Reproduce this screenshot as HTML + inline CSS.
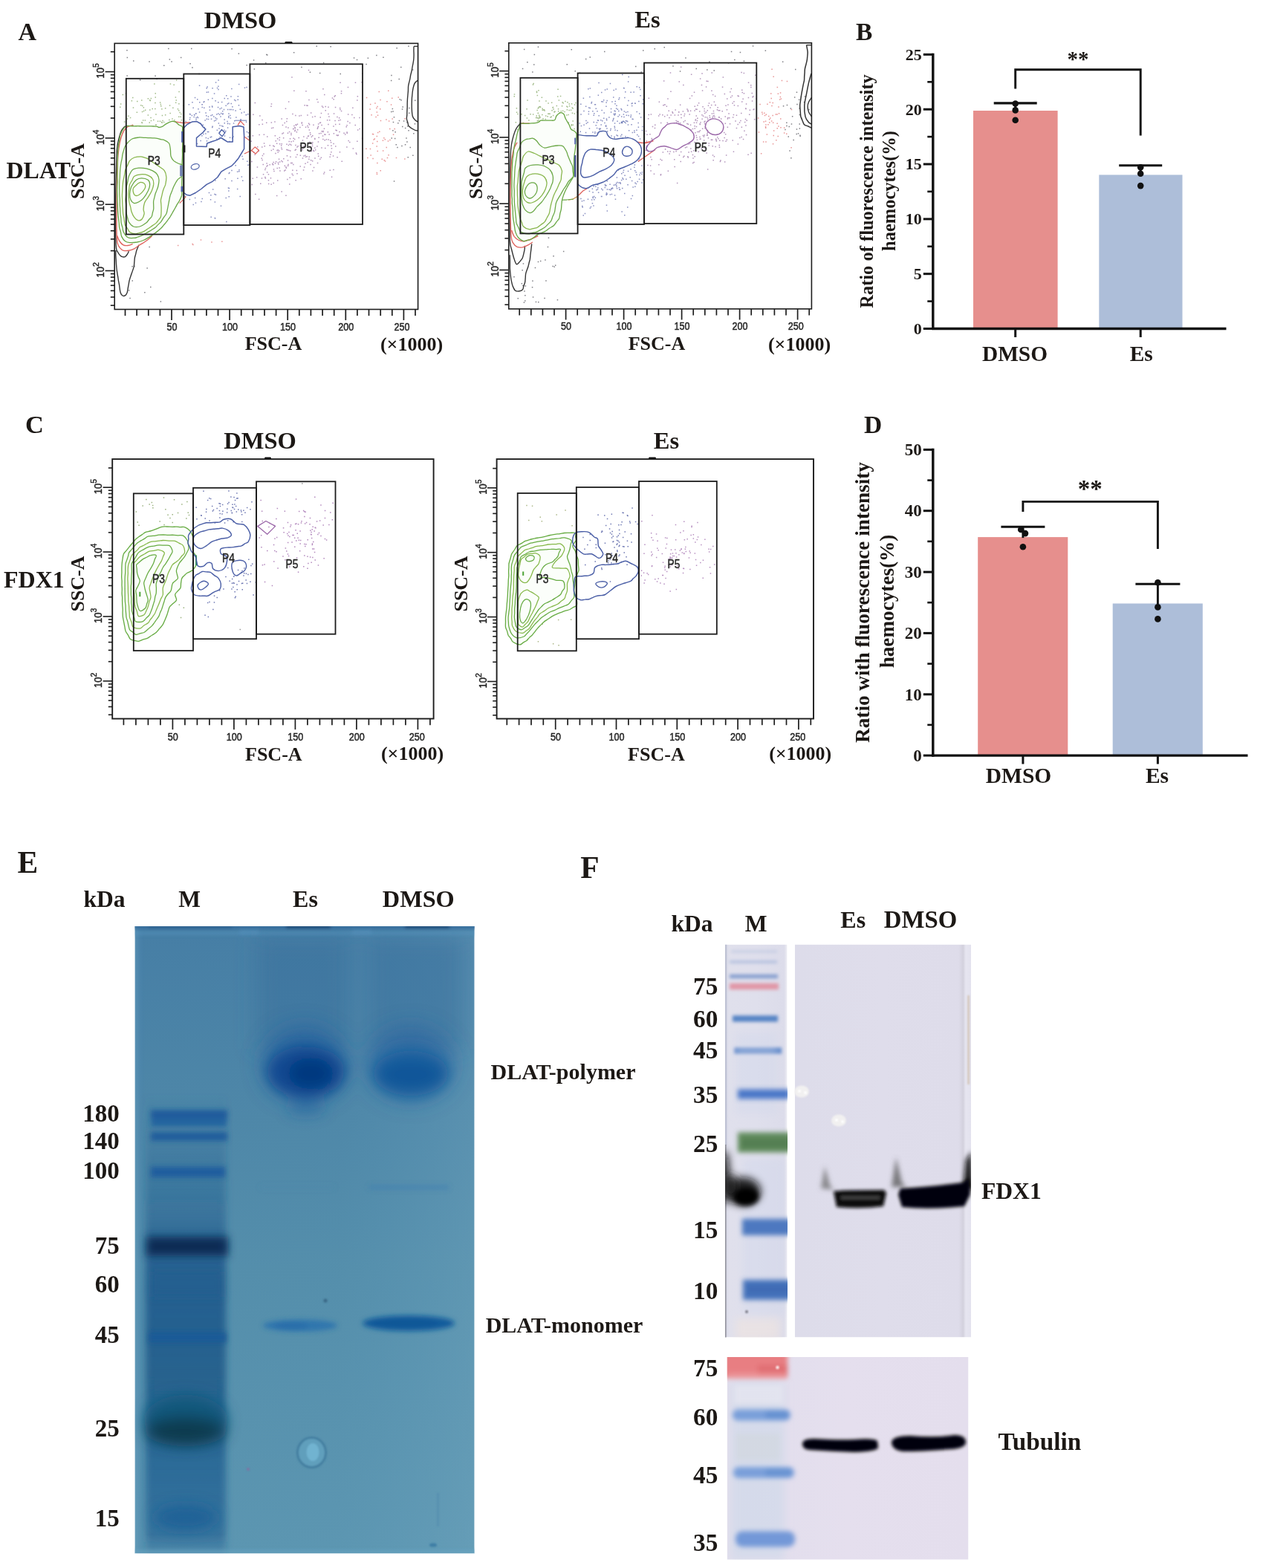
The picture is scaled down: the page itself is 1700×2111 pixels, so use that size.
<!DOCTYPE html>
<html lang="en"><head><meta charset="utf-8"><title>Figure</title>
<style>
html,body{margin:0;padding:0;background:#fff;}
body{width:1700px;height:2111px;overflow:hidden;}
svg{display:block;}
.sb{font-family:"Liberation Serif",serif;font-weight:bold;fill:#1c1815;}
.sa{font-family:"Liberation Sans",sans-serif;fill:#262626;}
.st{stroke:#262626;stroke-width:0.42px;}
</style></head><body>
<svg width="1700" height="2111" viewBox="0 0 1700 2111">
<rect width="1700" height="2111" fill="#fff"/>
<g id="A1c">
<path d="M170.3 169.6C174.4 168.9 183.8 169.7 190.6 169.8C197.5 169.9 207.7 170.0 211.6 170.3C215.5 170.6 212.8 171.5 214.0 171.5C215.3 171.5 217.3 171.0 219.0 170.2C220.6 169.4 221.8 167.7 223.9 166.6C225.9 165.5 229.2 163.8 231.3 163.4C233.3 163.0 234.6 163.3 236.2 164.1C237.8 165.0 239.6 167.2 241.1 168.3C242.7 169.4 244.7 166.3 245.4 170.8C246.2 175.3 245.9 187.2 245.8 195.4C245.8 203.6 245.3 208.8 245.1 220.0C244.9 231.3 245.2 254.7 244.6 263.2C244.0 271.6 242.8 267.9 241.4 270.5C240.0 273.2 238.1 275.9 236.2 279.2C234.3 282.4 232.1 287.0 230.0 290.2C228.0 293.5 226.1 296.0 223.9 298.9C221.6 301.7 219.0 305.0 216.5 307.5C214.0 310.0 211.6 311.8 209.1 313.6C206.7 315.5 204.4 316.9 201.7 318.6C199.1 320.2 196.0 322.3 193.1 323.5C190.2 324.7 187.6 325.4 184.5 326.0C181.4 326.5 177.3 326.8 174.6 326.6C172.0 326.4 170.3 326.1 168.5 324.7C166.7 323.4 165.1 321.7 163.8 318.6C162.5 315.5 161.5 311.4 160.7 306.3C159.9 301.1 159.3 295.0 158.9 287.8C158.4 280.6 158.0 271.4 157.9 263.2C157.7 254.9 157.8 246.7 157.9 238.5C157.9 230.3 158.0 221.1 158.3 213.9C158.5 206.7 158.9 200.8 159.5 195.4C160.1 190.1 160.9 185.5 161.9 181.9C163.0 178.2 164.6 175.6 166.0 173.5C167.4 171.4 166.2 170.2 170.3 169.6Z" fill="#fbfefa" stroke="none" stroke-width="0.0" stroke-linejoin="round"/>
<path d="M177.7 168.3h1.5M239.9 148.7h1.5M174.8 158.6h1.5M178.0 131.6h1.5M209.2 154.0h1.5M190.0 135.0h1.5M214.7 163.2h1.5M202.3 158.6h1.5M242.7 164.6h1.5M172.2 156.2h1.5M170.7 160.0h1.5M190.2 164.7h1.5M235.6 130.9h1.5M209.4 168.1h1.5M214.9 137.9h1.5M227.8 142.1h1.5M231.2 160.1h1.5M238.7 146.8h1.5M240.0 157.3h1.5M216.0 142.8h1.5M219.9 164.6h1.5M217.1 146.8h1.5M183.6 151.3h1.5M236.5 135.0h1.5M215.6 140.5h1.5M208.9 168.2h1.5M243.1 153.6h1.5M161.9 140.1h1.5M240.1 139.8h1.5M200.5 164.9h1.5M192.8 149.6h1.5M161.0 144.3h1.5M194.9 148.3h1.5M228.4 152.6h1.5M234.1 161.8h1.5M202.7 162.6h1.5M198.6 154.9h1.5M198.6 132.8h1.5M216.8 164.5h1.5M166.9 164.0h1.5M207.1 112.9h1.5M208.5 125.8h1.5M228.7 112.9h1.5M235.9 138.3h1.5M192.6 144.7h1.5M178.7 145.0h1.5M208.2 138.4h1.5M208.5 131.1h1.5M191.9 161.9h1.5M201.5 135.5h1.5M164.6 127.4h1.5M211.8 163.3h1.5M246.1 142.0h1.5M233.4 114.2h1.5M232.1 145.2h1.5M190.8 150.4h1.5M240.3 123.5h1.5M190.6 165.4h1.5M189.0 141.8h1.5M242.5 157.3h1.5M218.3 162.5h1.5M217.7 155.4h1.5M202.6 132.4h1.5M227.0 161.4h1.5M206.0 161.4h1.5M221.9 145.8h1.5M217.5 165.3h1.5M191.0 142.6h1.5M184.0 136.6h1.5M236.9 108.1h1.5M204.5 146.6h1.5M194.6 162.1h1.5M243.6 161.7h1.5M208.1 146.5h1.5M201.0 134.8h1.5M176.6 135.7h1.5M221.9 154.8h1.5M168.7 125.7h1.5M241.4 151.6h1.5M201.0 147.9h1.5" stroke="#7a9f58" stroke-width="1.5" fill="none" opacity="0.7"/>
<path d="M285.3 118.8h1.5M265.0 133.8h1.5M312.1 143.7h1.5M287.8 162.8h1.5M299.0 153.7h1.5M300.7 147.6h1.5M305.8 172.0h1.5M319.6 129.8h1.5M327.9 151.0h1.5M307.1 158.2h1.5M271.5 140.8h1.5M316.3 135.4h1.5M283.9 184.3h1.5M331.3 117.6h1.5M330.8 154.4h1.5M277.0 155.8h1.5M260.4 157.4h1.5M289.4 158.8h1.5M330.5 154.7h1.5M262.8 152.9h1.5M291.0 153.9h1.5M264.9 157.5h1.5M320.9 113.5h1.5M309.1 155.6h1.5M296.2 156.9h1.5M302.4 177.8h1.5M284.8 143.0h1.5M269.4 189.6h1.5M333.4 183.9h1.5M294.9 177.9h1.5M263.4 158.7h1.5M273.0 180.5h1.5M277.6 160.3h1.5M271.2 140.7h1.5M319.5 134.2h1.5M308.6 147.6h1.5M291.8 118.5h1.5M316.4 148.9h1.5M307.2 153.0h1.5M294.2 172.9h1.5M310.5 139.4h1.5M298.9 149.7h1.5M315.0 162.8h1.5M267.8 115.2h1.5M309.6 158.9h1.5M249.4 163.6h1.5M299.3 170.3h1.5M301.5 165.8h1.5M260.8 154.5h1.5M279.7 157.1h1.5M303.1 176.5h1.5M307.0 156.6h1.5M279.4 186.6h1.5M263.3 161.1h1.5M291.1 159.9h1.5M277.5 118.8h1.5M308.8 185.3h1.5M293.0 137.7h1.5M301.1 175.3h1.5M289.7 161.9h1.5M278.3 117.1h1.5M274.0 145.3h1.5M266.2 146.8h1.5M293.2 120.5h1.5M307.1 138.9h1.5M277.6 124.3h1.5M297.9 137.5h1.5M293.0 153.1h1.5M276.6 185.6h1.5M323.1 162.1h1.5M268.0 137.7h1.5M281.3 143.9h1.5M274.1 136.8h1.5M265.8 158.5h1.5M279.7 124.0h1.5M301.4 161.0h1.5M258.2 137.8h1.5M293.7 186.4h1.5M313.8 166.0h1.5M285.3 170.2h1.5M261.0 154.9h1.5M333.0 153.7h1.5M299.4 152.9h1.5M253.6 140.8h1.5M313.2 184.0h1.5M312.1 185.7h1.5M287.0 157.0h1.5M324.5 152.1h1.5M255.1 158.6h1.5M278.7 177.5h1.5M273.4 137.6h1.5M293.6 165.9h1.5M295.3 169.1h1.5M294.9 154.3h1.5M317.1 157.9h1.5M289.3 135.7h1.5M283.2 155.4h1.5M271.5 144.5h1.5M297.8 169.4h1.5M279.8 160.6h1.5M272.5 168.3h1.5M267.8 151.0h1.5M301.5 132.6h1.5M292.8 144.5h1.5M304.0 128.7h1.5M279.9 177.5h1.5M279.6 134.3h1.5M259.4 145.3h1.5M295.4 146.4h1.5M305.3 163.6h1.5M290.9 187.2h1.5M285.0 154.7h1.5M283.8 160.2h1.5M333.6 178.7h1.5M254.8 153.4h1.5M271.1 182.8h1.5M301.7 183.0h1.5M293.1 116.3h1.5M308.5 166.8h1.5M310.2 130.0h1.5M297.4 145.4h1.5M274.4 171.5h1.5M305.6 140.1h1.5M277.7 189.8h1.5M293.3 108.0h1.5M306.0 166.2h1.5M263.2 152.7h1.5M285.0 143.9h1.5M296.9 152.5h1.5M287.8 125.9h1.5M291.6 175.2h1.5M264.7 193.6h1.5M285.0 171.4h1.5M285.1 132.4h1.5M322.6 147.3h1.5M303.4 142.2h1.5M282.5 184.7h1.5M295.3 184.7h1.5M276.1 180.0h1.5M308.1 190.4h1.5M305.9 132.8h1.5M314.9 134.6h1.5M312.9 147.8h1.5M330.8 164.2h1.5M257.6 155.4h1.5M298.7 153.6h1.5M305.7 166.5h1.5M289.8 111.0h1.5M331.7 177.4h1.5M281.7 148.2h1.5M307.5 264.8h1.5M259.5 275.6h1.5M282.8 268.7h1.5M335.1 221.8h1.5M270.2 271.4h1.5M321.2 228.8h1.5M316.4 222.7h1.5M326.3 214.3h1.5M325.3 210.6h1.5M333.1 222.3h1.5M262.7 273.3h1.5M308.1 232.4h1.5M288.2 261.5h1.5M289.7 262.3h1.5M307.1 257.1h1.5M283.4 292.2h1.5M319.2 240.3h1.5M326.0 243.2h1.5M302.4 240.8h1.5M324.6 237.9h1.5M254.6 268.5h1.5M311.2 243.5h1.5M306.7 253.0h1.5M303.5 266.5h1.5M285.9 255.1h1.5M307.7 253.5h1.5M318.9 254.6h1.5M288.6 272.0h1.5M311.2 229.6h1.5M296.7 277.3h1.5M318.9 231.2h1.5M283.1 262.7h1.5M307.5 233.5h1.5M271.5 267.4h1.5M288.8 293.9h1.5M305.9 147.5h1.5M280.7 259.4h1.5M261.8 131.4h1.5M276.3 151.9h1.5M304.1 298.6h1.5M248.1 264.3h1.5M322.5 264.4h1.5M255.3 154.0h1.5M311.1 119.4h1.5M332.1 217.3h1.5M323.4 160.7h1.5M328.7 118.2h1.5M320.7 141.7h1.5M261.9 266.4h1.5M275.4 162.1h1.5M254.7 161.1h1.5M289.1 243.0h1.5M288.6 293.4h1.5M321.0 230.8h1.5M310.5 147.5h1.5" stroke="#5560a6" stroke-width="1.5" fill="none" opacity="0.7"/>
<path d="M352.0 198.0h1.5M415.8 167.7h1.5M372.9 186.8h1.5M358.9 232.0h1.5M390.9 219.6h1.5M344.9 238.8h1.5M403.6 209.2h1.5M399.6 167.2h1.5M467.9 153.9h1.5M397.3 168.1h1.5M415.6 175.1h1.5M419.7 194.1h1.5M369.2 164.1h1.5M427.5 207.1h1.5M441.2 144.2h1.5M436.5 188.8h1.5M419.8 196.4h1.5M388.2 202.4h1.5M453.2 157.6h1.5M415.2 134.5h1.5M369.8 219.9h1.5M397.2 195.6h1.5M339.5 240.3h1.5M366.9 172.1h1.5M451.3 175.3h1.5M363.7 239.7h1.5M444.8 191.8h1.5M437.5 143.4h1.5M453.3 211.7h1.5M458.8 149.4h1.5M368.2 230.4h1.5M456.7 204.8h1.5M467.4 163.5h1.5M383.7 146.2h1.5M445.8 238.2h1.5M380.9 185.8h1.5M438.7 187.7h1.5M347.9 268.3h1.5M367.7 228.1h1.5M479.1 207.5h1.5M340.8 204.7h1.5M367.1 196.3h1.5M434.0 144.4h1.5M474.6 199.9h1.5M378.4 258.1h1.5M408.9 225.0h1.5M421.2 168.2h1.5M385.2 194.2h1.5M437.1 181.3h1.5M380.7 179.1h1.5M364.6 165.0h1.5M353.8 234.8h1.5M408.1 184.0h1.5M423.2 213.0h1.5M437.0 199.5h1.5M375.9 193.7h1.5M364.6 202.6h1.5M362.5 195.7h1.5M395.9 187.4h1.5M391.2 181.5h1.5M473.1 154.5h1.5M352.4 215.4h1.5M348.4 181.5h1.5M409.4 141.7h1.5M458.8 122.8h1.5M358.3 223.9h1.5M342.4 208.2h1.5M397.5 201.3h1.5M387.9 137.1h1.5M397.1 155.5h1.5M405.5 165.9h1.5M388.5 190.4h1.5M445.2 196.2h1.5M352.7 209.4h1.5M480.9 175.0h1.5M367.1 201.0h1.5M386.9 223.2h1.5M406.7 199.8h1.5M352.3 161.5h1.5M420.2 229.9h1.5M480.1 190.3h1.5M451.0 196.9h1.5M406.7 189.1h1.5M406.7 213.0h1.5M396.5 202.2h1.5M480.6 129.8h1.5M366.0 220.6h1.5M391.3 190.8h1.5M383.3 229.0h1.5M370.2 206.5h1.5M371.9 263.4h1.5M432.3 168.5h1.5M430.5 158.0h1.5M373.5 204.9h1.5M426.8 219.5h1.5M443.5 229.2h1.5M428.4 185.2h1.5M398.2 168.6h1.5M398.6 177.8h1.5M364.2 143.3h1.5M385.1 201.4h1.5M412.5 210.8h1.5M396.6 175.3h1.5M421.0 202.5h1.5M358.0 165.3h1.5M351.7 239.9h1.5M456.9 145.4h1.5M410.8 211.3h1.5M474.1 145.3h1.5M392.5 234.2h1.5M345.7 225.1h1.5M389.5 194.3h1.5M370.5 189.7h1.5M404.5 240.7h1.5M441.4 188.1h1.5M406.4 168.4h1.5M393.1 229.2h1.5M448.2 228.6h1.5M418.6 184.3h1.5M372.3 202.5h1.5M356.6 240.1h1.5M417.9 152.1h1.5M379.7 168.5h1.5M435.7 173.2h1.5M410.8 171.3h1.5M375.4 188.4h1.5M426.0 133.8h1.5M410.3 220.3h1.5M417.3 221.6h1.5M391.1 195.3h1.5M337.4 190.3h1.5M417.7 199.7h1.5M465.5 170.7h1.5M353.5 221.6h1.5M397.4 242.8h1.5M345.9 197.8h1.5M414.9 166.3h1.5M432.2 198.9h1.5M448.6 179.8h1.5M359.0 183.9h1.5M398.6 229.6h1.5M486.9 186.3h1.5M423.9 201.8h1.5M447.8 209.9h1.5M449.5 130.1h1.5M454.6 182.0h1.5M381.1 213.8h1.5M420.0 182.8h1.5M434.0 177.6h1.5M442.4 180.9h1.5M427.1 171.7h1.5M370.8 217.7h1.5M386.6 202.1h1.5M412.1 141.9h1.5M410.0 209.3h1.5M368.4 197.3h1.5M374.0 220.9h1.5M476.0 158.5h1.5M456.2 177.6h1.5M394.4 186.2h1.5M360.7 242.8h1.5M450.8 144.4h1.5M448.8 152.9h1.5M338.5 248.5h1.5M415.4 211.3h1.5M431.6 212.2h1.5M423.1 199.3h1.5M417.9 215.7h1.5M384.6 226.2h1.5M483.3 158.5h1.5M427.9 166.9h1.5M390.0 203.0h1.5M387.2 172.0h1.5M403.5 195.9h1.5M421.8 203.5h1.5M396.1 171.8h1.5M385.7 209.7h1.5M450.3 162.5h1.5M413.2 142.2h1.5M413.8 183.5h1.5M382.6 223.3h1.5M364.4 248.2h1.5M387.7 195.5h1.5M374.8 214.2h1.5M433.8 183.1h1.5M394.1 190.1h1.5M384.2 225.1h1.5M377.9 196.1h1.5M394.1 173.2h1.5M393.2 153.5h1.5M426.2 197.1h1.5M389.4 239.3h1.5M362.4 221.7h1.5M429.8 165.6h1.5M392.5 219.6h1.5M408.2 196.7h1.5M477.5 168.5h1.5M448.2 170.0h1.5M349.1 156.1h1.5M421.8 225.5h1.5M340.2 154.2h1.5M430.7 165.1h1.5M389.8 186.8h1.5M358.4 220.0h1.5M452.5 182.1h1.5M376.2 229.9h1.5M399.3 208.3h1.5M356.7 226.6h1.5M443.4 211.3h1.5M406.5 201.8h1.5M375.3 225.9h1.5M445.1 204.8h1.5M385.1 163.6h1.5M401.5 185.6h1.5M366.6 221.4h1.5M453.8 182.4h1.5M462.3 179.3h1.5M354.8 192.9h1.5M386.8 215.9h1.5M452.5 175.8h1.5M457.2 147.4h1.5M399.2 233.7h1.5M427.9 210.3h1.5M360.7 234.7h1.5M354.6 181.2h1.5M359.3 222.8h1.5M389.0 248.1h1.5M442.1 157.1h1.5M417.2 181.2h1.5M445.7 199.7h1.5M387.3 221.4h1.5M434.3 176.6h1.5M418.2 203.8h1.5M388.8 177.6h1.5M470.1 165.4h1.5M374.8 214.3h1.5M450.9 167.6h1.5M343.1 261.5h1.5M373.0 243.1h1.5M378.4 160.0h1.5M444.0 208.1h1.5M338.1 217.5h1.5M375.9 217.9h1.5M404.6 155.6h1.5M408.2 209.9h1.5M390.2 211.2h1.5M378.1 199.0h1.5M423.1 187.2h1.5M470.0 191.5h1.5M448.3 193.5h1.5M413.2 155.1h1.5M459.5 217.2h1.5M416.8 178.8h1.5M403.5 223.9h1.5M419.9 157.6h1.5M396.6 172.4h1.5M395.1 169.4h1.5M360.9 247.6h1.5M458.7 125.7h1.5M355.5 196.8h1.5M385.6 159.7h1.5M450.5 128.7h1.5M440.7 195.7h1.5M386.7 179.2h1.5M408.4 193.0h1.5M432.4 176.8h1.5M384.3 170.9h1.5M369.6 182.8h1.5M483.4 173.6h1.5M416.3 191.3h1.5M386.1 241.4h1.5M431.3 179.4h1.5M399.2 197.9h1.5M347.4 203.4h1.5M373.7 219.1h1.5M436.0 127.4h1.5M394.1 221.4h1.5M339.6 182.7h1.5M456.3 167.2h1.5M382.5 165.5h1.5M414.1 171.5h1.5M416.2 197.6h1.5M441.2 167.6h1.5M378.7 201.0h1.5M400.4 196.7h1.5M378.5 193.8h1.5M375.6 185.3h1.5M413.4 218.6h1.5M378.2 216.4h1.5M423.0 186.4h1.5M439.9 161.7h1.5M434.1 187.4h1.5M435.9 232.0h1.5M351.5 213.2h1.5M423.3 156.7h1.5M466.5 179.2h1.5M364.9 172.6h1.5M384.2 263.2h1.5M399.9 174.7h1.5M436.2 181.0h1.5M420.0 191.8h1.5M350.0 247.2h1.5M382.0 230.0h1.5M440.6 177.7h1.5M412.5 186.1h1.5M427.3 137.5h1.5M446.7 131.9h1.5M428.9 179.8h1.5M455.2 162.2h1.5M394.0 173.7h1.5M414.6 183.1h1.5M371.9 193.2h1.5M366.9 221.8h1.5M352.6 167.3h1.5M356.1 238.6h1.5M379.4 217.7h1.5M442.9 161.7h1.5M444.0 189.3h1.5M403.1 171.4h1.5M402.2 155.9h1.5M391.2 179.4h1.5M427.7 191.0h1.5M372.5 226.4h1.5M466.3 168.7h1.5M367.4 218.4h1.5M435.1 234.0h1.5M367.5 246.6h1.5M415.1 214.3h1.5M396.1 176.5h1.5M393.6 236.0h1.5M480.1 135.1h1.5M364.7 140.0h1.5M486.4 110.7h1.5M432.8 142.9h1.5M434.2 119.7h1.5M430.1 214.3h1.5M466.3 178.0h1.5M413.2 169.5h1.5M354.2 207.2h1.5M441.2 153.5h1.5M437.5 148.7h1.5M395.1 122.2h1.5M427.7 170.2h1.5M414.8 94.5h1.5M431.7 152.6h1.5M426.6 173.2h1.5M477.7 111.3h1.5M407.8 229.0h1.5M448.4 133.8h1.5M448.2 228.5h1.5M397.7 211.4h1.5M356.1 228.6h1.5M411.2 122.8h1.5M463.9 180.9h1.5M478.6 206.1h1.5M457.4 161.6h1.5M487.0 99.1h1.5M468.4 189.6h1.5M374.9 203.0h1.5M405.6 165.1h1.5M467.7 117.4h1.5M379.2 180.1h1.5M348.1 167.7h1.5M455.9 158.7h1.5M373.5 202.0h1.5M466.1 197.9h1.5M419.9 216.8h1.5M457.3 111.2h1.5M392.2 104.0h1.5M342.6 138.4h1.5" stroke="#93689f" stroke-width="1.5" fill="none" opacity="0.7"/>
<path d="M527.0 132.3h1.5M517.6 187.8h1.5M494.1 212.6h1.5M492.8 131.6h1.5M544.1 213.9h1.5M516.5 215.7h1.5M525.8 141.1h1.5M517.8 217.1h1.5M510.1 177.2h1.5M506.4 197.1h1.5M505.3 157.4h1.5M497.3 147.1h1.5M514.7 189.2h1.5M507.3 143.5h1.5M516.1 185.8h1.5M527.4 160.1h1.5M507.0 190.5h1.5M530.4 173.5h1.5M511.0 146.7h1.5M507.5 203.6h1.5M522.3 208.7h1.5M492.2 200.3h1.5M500.9 192.9h1.5M501.3 213.5h1.5M513.5 214.3h1.5M506.7 234.4h1.5M506.6 232.4h1.5M506.1 145.4h1.5M522.9 163.0h1.5M511.3 134.4h1.5M507.9 178.5h1.5M503.5 186.9h1.5M507.1 219.6h1.5M507.8 155.2h1.5M506.6 183.4h1.5M519.2 161.0h1.5M502.4 188.1h1.5M522.0 122.2h1.5M499.3 154.7h1.5M532.7 212.4h1.5M521.7 190.0h1.5M498.4 209.1h1.5M506.6 150.9h1.5M535.5 131.1h1.5M528.8 181.2h1.5M500.8 180.5h1.5M501.8 180.7h1.5M504.2 139.0h1.5M544.3 159.8h1.5M524.0 173.6h1.5M520.2 136.7h1.5M524.2 188.6h1.5M497.7 200.5h1.5M514.9 202.9h1.5M519.5 198.5h1.5M511.7 162.5h1.5M520.7 212.6h1.5M497.9 140.5h1.5M511.5 229.8h1.5M509.5 123.5h1.5" stroke="#e06a6a" stroke-width="1.5" fill="none" opacity="0.7"/>
<path d="M546.2 186.1h1.5M557.7 166.7h1.5M558.0 135.3h1.5M547.2 164.8h1.5M526.0 150.6h1.5M551.5 198.6h1.5M534.2 198.4h1.5M547.2 191.1h1.5M541.0 170.6h1.5M529.7 157.8h1.5M539.3 134.8h1.5M535.1 165.8h1.5M540.2 196.5h1.5M527.6 146.5h1.5M540.8 147.1h1.5M541.4 144.1h1.5M550.0 152.3h1.5M526.5 186.0h1.5M554.9 93.9h1.5M536.7 162.6h1.5M548.5 211.7h1.5M536.5 106.6h1.5M544.8 194.8h1.5M542.8 162.9h1.5M529.8 244.0h1.5M525.9 108.4h1.5M547.9 170.1h1.5M544.9 172.5h1.5M555.1 209.2h1.5M532.5 194.7h1.5M526.2 101.6h1.5M550.2 145.5h1.5M531.4 177.7h1.5M537.5 133.8h1.5M530.9 186.6h1.5M528.7 164.6h1.5M528.1 175.7h1.5M556.1 179.8h1.5M549.3 175.8h1.5M528.3 149.9h1.5M311.3 65.8h1.5M359.0 73.9h1.5M394.9 70.8h1.5M479.8 80.5h1.5M242.9 77.5h1.5M549.2 62.3h1.5M429.9 98.5h1.5M357.0 84.7h1.5M358.0 73.4h1.5M434.9 84.4h1.5M340.8 80.9h1.5M405.2 90.6h1.5M257.0 65.5h1.5M320.6 72.3h1.5M494.6 78.2h1.5M515.2 77.3h1.5M331.4 87.8h1.5M267.3 99.4h1.5M506.1 74.5h1.5M341.6 93.1h1.5M492.3 86.4h1.5M258.2 91.0h1.5M255.3 85.7h1.5M416.7 97.2h1.5M444.4 62.8h1.5M539.0 90.6h1.5M425.5 62.2h1.5M475.8 77.9h1.5M457.5 99.4h1.5M533.4 64.8h1.5M230.3 83.1h1.5M227.6 80.1h1.5M200.3 83.0h1.5M170.6 77.4h1.5M226.1 65.4h1.5M170.4 102.0h1.5M220.0 88.3h1.5M170.2 67.7h1.5M187.9 107.8h1.5M210.4 106.3h1.5M179.0 81.9h1.5M208.3 102.3h1.5M174.3 401.6h1.5M200.4 332.6h1.5M197.4 361.0h1.5M215.6 406.1h1.5M202.0 386.5h1.5M194.1 393.8h1.5M172.9 390.9h1.5M177.5 378.0h1.5M180.2 358.4h1.5M177.3 358.7h1.5" stroke="#4a4a52" stroke-width="1.5" fill="none" opacity="0.7"/>
<path d="M259.1 329.4h1.5M238.9 330.6h1.5M284.2 325.9h1.5M258.4 328.6h1.5M298.1 325.2h1.5M269.7 323.1h1.5" stroke="#e06a6a" stroke-width="1.5" fill="none" opacity="0.7"/>
<path d="M168.5 169.6C167.7 170.6 165.0 172.8 163.5 175.7C162.1 178.6 160.9 182.5 159.9 186.8C158.8 191.1 158.0 193.0 157.4 201.6C156.8 210.2 156.5 224.2 156.2 238.5C155.8 252.9 155.5 272.4 155.5 287.8C155.5 303.2 155.6 322.3 156.2 330.9C156.7 339.5 157.6 337.2 158.6 339.5C159.6 341.8 161.2 343.4 162.3 344.4C163.4 345.5 164.4 345.7 165.4 345.9C166.4 346.1 167.4 346.3 168.5 345.7C169.5 345.0 170.7 343.2 171.6 342.0C172.4 340.7 173.1 338.9 173.4 338.3" fill="none" stroke="#333333" stroke-width="1.38" stroke-linejoin="round"/>
<path d="M186.9 329.7C186.4 330.9 184.6 335.0 183.9 337.0C183.2 339.1 183.1 340.5 182.7 342.1C182.3 343.8 181.7 345.1 181.4 346.9C181.1 348.7 181.0 351.0 180.8 353.1C180.6 355.1 180.7 356.7 180.2 359.2C179.6 361.7 178.3 365.0 177.3 367.8C176.4 370.7 175.0 374.2 174.4 376.5C173.7 378.8 173.7 380.0 173.4 381.6C173.1 383.3 172.9 384.3 172.5 386.3C172.2 388.3 171.8 391.8 171.2 393.7C170.5 395.6 169.7 396.9 168.7 397.6C167.7 398.4 166.1 398.7 165.0 398.0C163.9 397.3 162.8 396.1 162.1 393.7C161.3 391.3 161.0 386.3 160.6 383.8C160.2 381.3 159.9 380.4 159.6 378.7C159.3 377.1 159.2 375.8 158.9 374.0C158.6 372.2 158.1 369.8 157.8 367.7C157.5 365.7 157.2 363.7 157.0 361.7C156.8 359.6 156.6 357.5 156.5 355.4C156.4 353.3 156.3 351.4 156.2 349.4C156.0 347.3 155.9 345.2 155.8 343.1C155.8 341.1 155.9 338.1 155.9 337.0" fill="none" stroke="#333333" stroke-width="1.38" stroke-linejoin="round"/>
<path d="M179.6 168.9C178.7 169.0 176.3 169.0 174.6 169.6C173.0 170.1 171.3 170.6 169.7 172.3C168.1 173.9 166.4 176.2 165.0 179.4C163.6 182.7 162.4 186.8 161.3 191.7C160.3 196.7 159.5 201.2 158.9 209.0C158.3 216.8 157.9 227.4 157.6 238.5C157.3 249.6 157.1 263.2 157.0 275.5C156.9 287.8 156.8 303.8 157.0 312.4C157.2 321.0 157.4 323.7 158.1 327.2C158.8 330.7 160.0 331.9 161.3 333.6C162.7 335.3 164.2 336.7 166.3 337.3C168.3 337.9 171.0 337.7 173.4 337.3C175.8 336.9 178.5 336.0 180.8 334.8C183.0 333.7 185.0 331.8 186.9 330.5C188.9 329.2 190.4 328.5 192.5 327.2C194.5 325.9 197.2 324.2 199.3 322.5C201.3 320.9 203.9 318.2 204.8 317.3" fill="none" stroke="#df625c" stroke-width="1.38" stroke-linejoin="round"/>
<path d="M157.6 317.3C158.2 318.6 159.7 322.9 161.1 325.0C162.5 327.1 164.2 329.0 166.0 329.9C167.9 330.8 170.1 330.8 172.2 330.5C174.3 330.3 177.5 328.8 178.6 328.4" fill="none" stroke="#df625c" stroke-width="1.38" stroke-linejoin="round"/>
<path d="M235.0 163.6C237.0 164.0 243.7 165.3 247.3 165.5C250.9 165.7 255.0 164.8 256.5 164.6" fill="none" stroke="#df625c" stroke-width="1.38" stroke-linejoin="round"/>
<path d="M320.0 168.6L323.6 162.8L328.8 168.6" fill="none" stroke="#df625c" stroke-width="1.265" stroke-linejoin="round"/>
<path d="M338.4 202.6L343.3 197.9L348.5 202.2L344.0 207.1Z" fill="none" stroke="#df625c" stroke-width="1.265" stroke-linejoin="round"/>
<path d="M328.8 207.1L338.4 202.6" fill="none" stroke="#df625c" stroke-width="1.15" stroke-linejoin="round"/>
<path d="M329.2 184.3L336.0 189.3" fill="none" stroke="#df625c" stroke-width="1.15" stroke-linejoin="round"/>
<path d="M241.7 273.6L247.3 268.1L250.4 264.4" fill="none" stroke="#df625c" stroke-width="1.15" stroke-linejoin="round"/>
<path d="M170.3 169.6C171.9 168.9 173.7 169.6 175.4 169.7C177.1 169.7 178.9 169.8 180.6 169.8C182.3 169.8 184.0 169.7 185.7 169.7C187.4 169.7 188.9 169.8 190.6 169.8C192.4 169.8 194.3 169.9 196.1 169.9C197.8 169.9 199.3 169.9 201.0 169.9C202.7 169.9 204.6 170.0 206.3 170.0C208.1 170.1 210.3 170.0 211.6 170.3C212.9 170.5 212.8 171.5 214.0 171.5C215.3 171.5 217.3 171.0 219.0 170.2C220.6 169.4 221.8 167.7 223.9 166.6C225.9 165.5 229.2 163.8 231.3 163.4C233.3 163.0 234.6 163.3 236.2 164.1C237.8 165.0 239.6 167.2 241.1 168.3C242.7 169.4 244.7 169.3 245.4 170.8C246.2 172.2 245.4 174.9 245.4 177.0C245.5 179.1 245.7 181.2 245.7 183.2C245.8 185.2 245.5 187.0 245.6 189.1C245.6 191.1 245.8 193.3 245.8 195.4C245.8 197.5 245.6 199.5 245.5 201.6C245.5 203.7 245.6 205.8 245.6 207.9C245.6 209.9 245.5 211.9 245.4 213.9C245.3 216.0 245.1 218.1 245.1 220.0C245.0 222.0 245.1 223.6 245.1 225.4C245.0 227.1 244.9 228.9 244.9 230.7C244.8 232.5 244.9 234.4 244.9 236.3C244.9 238.1 244.9 239.8 244.9 241.6C244.8 243.3 244.7 245.1 244.7 246.9C244.7 248.7 244.8 250.6 244.8 252.4C244.8 254.2 244.8 256.1 244.7 257.9C244.7 259.7 245.1 261.0 244.6 263.2C244.0 265.3 242.4 268.6 241.4 270.5C240.4 272.5 239.6 273.3 238.7 274.7C237.8 276.1 237.2 277.5 236.2 279.2C235.3 280.9 234.1 283.0 233.0 284.9C232.0 286.7 231.0 288.6 230.0 290.2C229.1 291.9 228.1 293.1 227.1 294.5C226.1 296.0 225.0 297.4 223.9 298.9C222.8 300.3 221.5 301.7 220.3 303.1C219.1 304.6 218.4 305.7 216.5 307.5C214.6 309.2 211.6 311.8 209.1 313.6C206.7 315.5 204.4 316.9 201.7 318.6C199.1 320.2 196.0 322.3 193.1 323.5C190.2 324.7 187.6 325.4 184.5 326.0C181.4 326.5 177.3 326.8 174.6 326.6C172.0 326.4 170.3 326.1 168.5 324.7C166.7 323.4 164.8 320.7 163.8 318.6C162.8 316.5 162.9 314.3 162.4 312.2C161.9 310.2 161.1 308.2 160.7 306.3C160.3 304.3 160.4 302.3 160.2 300.3C160.0 298.2 159.7 296.0 159.5 293.9C159.2 291.8 159.0 289.8 158.9 287.8C158.7 285.7 158.6 283.6 158.5 281.5C158.4 279.5 158.4 277.4 158.3 275.4C158.2 273.3 158.0 271.3 158.0 269.2C157.9 267.2 157.9 265.2 157.9 263.2C157.8 261.1 157.7 259.1 157.7 257.0C157.7 254.9 157.8 252.8 157.8 250.7C157.9 248.7 158.1 246.6 158.1 244.6C158.1 242.6 157.9 240.5 157.9 238.5C157.9 236.5 157.9 234.5 158.0 232.5C158.0 230.5 158.1 228.4 158.2 226.4C158.2 224.3 158.2 222.3 158.2 220.2C158.2 218.1 158.2 216.0 158.3 213.9C158.3 211.8 158.4 209.9 158.5 207.8C158.6 205.8 158.8 203.6 159.0 201.5C159.2 199.4 159.2 197.5 159.5 195.4C159.8 193.3 160.4 191.0 160.8 188.7C161.2 186.5 161.1 184.4 161.9 181.9C162.8 179.3 164.6 175.6 166.0 173.5C167.4 171.4 168.8 170.2 170.3 169.6Z" fill="none" stroke="#69a745" stroke-width="1.3224999999999998" stroke-linejoin="round"/>
<path d="M172.2 191.7C173.8 190.1 175.9 187.9 178.3 186.8C180.8 185.7 184.5 185.2 186.9 185.0C189.4 184.7 191.1 185.2 193.1 185.3C195.2 185.4 197.2 185.5 199.3 185.6C201.3 185.7 203.5 185.7 205.5 185.8C207.6 186.0 209.7 186.0 211.6 186.3C213.4 186.6 214.9 187.3 216.6 187.7C218.2 188.1 219.6 187.9 221.4 188.8C223.3 189.6 226.3 190.8 227.6 193.0C228.9 195.1 229.0 198.7 229.4 201.6C229.8 204.4 229.3 207.7 230.0 210.2C230.8 212.7 232.1 214.7 233.7 216.4C235.4 218.0 238.1 219.1 239.9 220.0C241.7 221.0 244.0 220.8 244.8 221.9C245.7 223.0 244.9 225.2 244.9 226.9C244.9 228.6 244.8 230.5 244.7 232.2C244.7 233.9 245.5 235.6 244.6 237.3C243.6 239.0 240.7 240.0 238.9 242.2C237.2 244.5 235.2 248.3 234.0 250.8C232.8 253.3 232.3 255.1 231.5 257.2C230.7 259.2 229.7 261.1 229.1 263.2C228.4 265.2 228.3 267.2 227.8 269.3C227.4 271.3 227.0 273.4 226.6 275.5C226.2 277.5 225.9 279.6 225.4 281.7C225.0 283.7 224.8 285.9 223.9 287.8C223.0 289.7 221.3 291.4 220.1 293.2C218.9 295.1 217.7 297.3 216.5 298.9C215.3 300.4 214.0 301.2 212.8 302.4C211.6 303.6 210.5 305.1 209.1 306.3C207.7 307.4 205.9 308.4 204.2 309.4C202.6 310.5 201.5 311.1 199.3 312.4C197.0 313.7 192.9 316.2 190.6 317.3C188.4 318.4 187.3 318.5 185.7 319.0C184.0 319.5 183.0 320.3 180.8 320.4C178.5 320.5 174.6 321.1 172.2 319.8C169.7 318.5 167.5 314.7 166.3 312.4C165.0 310.2 165.4 308.3 164.9 306.3C164.4 304.2 163.5 302.2 163.2 300.1C162.8 298.0 163.0 295.8 162.8 293.8C162.6 291.8 162.3 290.0 162.1 288.0C161.9 285.9 161.8 283.6 161.7 281.5C161.6 279.4 161.4 277.5 161.3 275.5C161.3 273.5 161.4 271.5 161.3 269.4C161.3 267.3 161.0 265.2 160.9 263.1C160.8 261.0 160.8 258.9 160.8 256.9C160.7 254.9 160.7 252.9 160.7 250.8C160.7 248.8 160.7 246.7 160.8 244.7C160.9 242.6 161.1 240.6 161.3 238.5C161.4 236.4 161.4 234.3 161.5 232.2C161.6 230.2 161.7 228.2 161.9 226.2C162.2 224.2 162.4 222.2 162.8 220.2C163.1 218.1 163.7 216.0 164.1 213.9C164.5 211.8 164.6 209.7 165.0 207.7C165.4 205.8 166.0 203.9 166.6 202.1C167.2 200.2 167.5 198.4 168.5 196.7C169.4 194.9 170.5 193.4 172.2 191.7Z" fill="none" stroke="#69a745" stroke-width="1.265" stroke-linejoin="round"/>
<path d="M174.6 216.4C176.1 214.6 178.3 213.0 180.8 212.0C183.3 211.1 187.1 210.8 189.4 210.8C191.7 210.8 192.8 211.7 194.4 212.2C196.1 212.7 197.8 213.1 199.3 213.9C200.8 214.7 202.0 216.0 203.5 217.0C204.9 218.0 205.9 218.7 207.9 220.0C209.9 221.4 213.0 223.3 215.3 225.0C217.5 226.6 220.0 227.6 221.4 229.9C222.9 232.2 223.7 235.4 223.9 238.5C224.1 241.6 223.2 245.9 222.7 248.4C222.1 250.9 221.3 251.8 220.6 253.4C220.0 255.1 219.4 256.5 219.0 258.2C218.5 259.9 218.3 261.7 217.8 263.6C217.4 265.4 216.7 267.3 216.5 269.3C216.3 271.3 216.8 273.4 216.9 275.5C217.0 277.5 217.2 279.0 217.1 281.6C217.1 284.3 217.1 289.1 216.5 291.5C215.9 293.9 214.5 294.5 213.5 296.0C212.5 297.4 211.6 298.9 210.3 300.1C209.1 301.3 207.7 302.1 206.2 303.1C204.8 304.2 203.3 305.2 201.7 306.3C200.2 307.3 198.6 308.4 196.9 309.4C195.3 310.5 193.5 311.7 191.9 312.4C190.2 313.1 188.8 313.0 187.1 313.5C185.5 313.9 184.1 315.1 182.0 314.9C179.9 314.7 176.3 313.6 174.6 312.4C172.9 311.3 172.8 309.4 171.9 308.0C170.9 306.6 169.4 305.4 168.7 303.8C168.0 302.2 167.9 300.2 167.5 298.5C167.2 296.7 167.1 295.1 166.8 293.3C166.5 291.5 165.9 289.7 165.6 287.8C165.4 285.9 165.4 283.8 165.3 281.8C165.1 279.7 164.9 277.7 164.8 275.7C164.7 273.6 164.7 271.4 164.6 269.3C164.6 267.2 164.4 265.2 164.4 263.2C164.4 261.1 164.6 258.9 164.7 256.8C164.8 254.8 164.9 252.9 165.0 250.9C165.2 248.9 165.4 246.6 165.6 244.7C165.9 242.8 166.3 241.3 166.7 239.5C167.1 237.7 167.5 235.8 167.8 234.0C168.2 232.2 168.1 230.6 168.7 228.7C169.4 226.7 170.8 224.4 171.8 222.4C172.8 220.3 173.1 218.1 174.6 216.4Z" fill="none" stroke="#86b54a" stroke-width="1.265" stroke-linejoin="round"/>
<path d="M178.3 228.7C180.6 226.8 183.9 226.5 186.9 226.2C190.0 225.9 193.7 226.2 196.8 226.8C199.9 227.4 203.0 228.6 205.4 229.9C207.9 231.2 210.1 232.8 211.6 234.8C213.0 236.9 213.8 239.5 214.0 242.2C214.2 244.9 213.3 248.5 212.8 250.8C212.3 253.1 211.7 254.3 211.1 255.9C210.5 257.6 209.6 259.1 209.1 260.7C208.6 262.3 208.4 263.8 208.0 265.4C207.6 267.1 206.9 268.8 206.7 270.5C206.4 272.3 206.7 274.2 206.7 276.1C206.7 277.9 206.9 279.9 206.7 281.6C206.4 283.4 205.8 284.8 205.4 286.4C205.0 288.0 205.0 289.9 204.2 291.5C203.3 293.0 201.6 294.3 200.4 295.8C199.1 297.2 198.8 298.6 196.8 300.1C194.8 301.6 191.1 304.2 188.2 305.0C185.3 305.8 182.0 306.1 179.6 305.0C177.1 304.0 174.7 300.8 173.4 298.9C172.1 296.9 172.3 295.2 171.7 293.3C171.2 291.5 170.7 289.8 170.3 287.8C170.0 285.8 169.8 283.5 169.7 281.5C169.6 279.4 169.7 277.5 169.6 275.4C169.5 273.4 169.1 271.3 169.1 269.3C169.1 267.3 169.4 265.3 169.5 263.2C169.6 261.2 169.7 258.9 169.9 256.8C170.0 254.7 170.0 253.0 170.3 250.8C170.7 248.7 171.5 246.4 172.0 244.1C172.5 241.8 172.3 239.9 173.4 237.3C174.5 234.7 176.1 230.5 178.3 228.7Z" fill="none" stroke="#69a745" stroke-width="1.265" stroke-linejoin="round"/>
<path d="M180.8 237.3C182.7 236.0 186.3 235.0 189.4 234.8C192.5 234.6 196.6 235.0 199.3 236.1C201.9 237.1 204.2 238.9 205.4 241.0C206.7 243.0 206.9 245.7 206.7 248.4C206.4 251.0 205.4 254.1 204.2 257.0C203.0 259.9 200.9 262.9 199.3 265.6C197.7 268.3 195.6 270.3 194.6 273.0C193.6 275.7 193.2 279.2 193.1 281.6C193.0 284.1 194.5 285.5 194.1 287.8C193.7 290.0 192.3 293.7 190.9 295.2C189.5 296.7 187.4 297.1 185.7 296.7C184.0 296.2 182.2 294.6 180.8 292.7C179.4 290.8 177.9 287.6 177.1 285.3C176.3 283.0 176.2 281.1 175.8 279.1C175.3 277.0 174.5 275.0 174.1 273.0C173.7 271.0 173.6 269.0 173.4 267.0C173.2 264.9 172.9 262.8 172.9 260.7C173.0 258.6 173.4 256.5 173.7 254.4C174.0 252.4 174.0 250.3 174.6 248.4C175.3 246.4 176.7 244.6 177.8 242.8C178.8 240.9 178.8 238.6 180.8 237.3Z" fill="none" stroke="#86b54a" stroke-width="1.265" stroke-linejoin="round"/>
<path d="M183.3 242.2C185.5 240.4 188.0 239.8 190.6 239.8C193.3 239.8 197.4 240.8 199.3 242.2C201.1 243.7 201.7 245.9 201.7 248.4C201.7 250.8 200.7 253.9 199.3 257.0C197.8 260.1 195.2 264.4 193.1 266.8C191.1 269.3 189.0 270.6 186.9 271.8C184.9 272.9 182.6 274.0 180.8 273.6C179.0 273.2 177.1 271.5 176.1 269.3C175.1 267.2 174.5 263.8 174.6 260.7C174.8 257.6 175.7 253.9 177.1 250.8C178.5 247.8 181.0 244.1 183.3 242.2Z" fill="none" stroke="#69a745" stroke-width="1.265" stroke-linejoin="round"/>
<path d="M185.7 247.1C187.4 245.8 188.0 245.3 189.4 245.3C190.8 245.3 193.3 246.0 194.3 247.1C195.4 248.3 196.0 250.2 195.6 252.1C195.2 253.9 193.3 256.5 191.9 258.2C190.4 260.0 188.6 261.7 186.9 262.5C185.3 263.4 183.3 263.7 182.0 263.2C180.8 262.6 180.0 261.1 179.6 259.5C179.1 257.8 178.5 255.4 179.6 253.3C180.6 251.2 184.1 248.5 185.7 247.1Z" fill="none" stroke="#86b54a" stroke-width="1.265" stroke-linejoin="round"/>
<path d="M247.3 172.3L252.2 167.3L258.4 164.1L264.5 163.4L270.1 166.5L273.2 170.8L276.8 173.9L273.2 178.2L268.2 182.5L264.5 185.6L264.5 196.9L278.1 197.4L278.7 193.0L285.5 190.5L291.6 188.6L297.8 185.6L301.5 188.0L306.4 191.1L313.2 191.1L313.2 170.8L322.4 169.6L328.0 171.0L328.6 183.1L328.6 200.3L324.9 206.5L321.2 212.7L316.3 218.8L311.3 223.7L303.9 227.4L297.8 231.1L292.9 238.5L285.5 244.7L278.1 248.4L270.7 254.5L263.3 259.5L255.9 263.2L251.0 262.2L247.3 259.5" fill="none" stroke="#4a5ea6" stroke-width="1.4949999999999999" stroke-linejoin="round"/>
<ellipse cx="262.7" cy="224.4" rx="5.6" ry="3.6" transform="rotate(-15 262.7 224.4)" fill="none" stroke="#4a5ea6" stroke-width="1.2"/>
<path d="M298.4 174.5L302.7 178.8L299.0 183.7L294.7 179.4Z" fill="none" stroke="#4a5ea6" stroke-width="1.265" stroke-linejoin="round"/>
<path d="M316.3 162.2L332.3 162.2" fill="none" stroke="#4a5ea6" stroke-width="1.15" stroke-linejoin="round" opacity="0.7"/>
<path d="M245.4 176.9L245.4 191.7" fill="none" stroke="#4a5ea6" stroke-width="2.53" stroke-linejoin="round"/>
<path d="M247.9 195.4L247.9 205.3" fill="none" stroke="#111" stroke-width="2.9899999999999998" stroke-linejoin="round"/>
<path d="M244.0 222.5L244.0 237.3" fill="none" stroke="#7080b0" stroke-width="3.6799999999999997" stroke-linejoin="round"/>
<path d="M244.8 250.8L244.8 258.2" fill="none" stroke="#4a5ea6" stroke-width="2.53" stroke-linejoin="round"/>
<path d="M557.0 62.4L562.4 62.4" fill="none" stroke="#333333" stroke-width="1.38" stroke-linejoin="round"/>
<path d="M557.0 62.4C557.0 63.4 556.9 66.4 556.9 68.4C557.0 70.3 557.1 72.1 557.1 74.0C557.0 76.0 557.0 78.1 556.8 80.0C556.6 81.9 556.3 83.7 556.0 85.4C555.7 87.2 555.3 88.7 555.0 90.5C554.7 92.3 554.4 94.3 554.0 96.0C553.6 97.7 553.1 99.3 552.7 101.0C552.4 102.6 552.2 104.2 551.9 105.9C551.6 107.6 551.1 109.2 550.7 110.9C550.3 112.6 549.8 114.1 549.6 116.0C549.4 117.9 549.5 120.1 549.4 122.2C549.3 124.2 549.0 126.2 548.9 128.2C548.7 130.2 548.5 132.2 548.4 134.1C548.3 136.1 548.2 138.2 548.2 140.0C548.2 141.8 548.2 143.2 548.2 144.9C548.1 146.5 547.9 148.4 547.9 150.0C547.8 151.7 547.9 153.2 547.8 154.9C547.7 156.5 547.2 158.3 547.4 160.0C547.6 161.7 548.4 163.5 548.9 165.2C549.4 166.8 548.9 168.4 550.4 170.0C551.9 171.6 556.0 174.0 558.0 175.0C560.0 176.0 561.8 175.8 562.6 176.0" fill="none" stroke="#333333" stroke-width="1.38" stroke-linejoin="round"/>
<path d="M562.6 108.0C561.8 108.7 559.2 109.7 558.0 112.4C556.8 115.1 555.8 119.4 555.2 124.0C554.6 128.6 554.2 134.7 554.2 140.0C554.2 145.3 554.4 152.3 555.2 156.0C556.0 159.7 558.0 160.7 559.2 162.0C560.4 163.3 562.0 163.7 562.6 164.0" fill="none" stroke="#333333" stroke-width="1.38" stroke-linejoin="round"/>
<rect x="383.5" y="56" width="10" height="2.4" rx="1.2" fill="#111"/>
</g>
<g id="A2c">
<path d="M700.9 166.5C703.8 164.3 709.6 166.3 713.3 166.1C716.9 165.9 720.6 165.9 723.1 165.2C725.6 164.6 724.1 162.8 728.0 162.2C731.9 161.6 743.0 162.7 746.5 161.7C750.0 160.6 747.7 157.7 749.0 156.0C750.2 154.4 752.2 152.2 753.9 151.8C755.5 151.4 757.6 152.2 758.8 153.5C760.0 154.9 760.0 157.2 761.3 159.7C762.5 162.2 765.0 165.9 766.2 168.3C767.4 170.7 767.4 172.6 768.7 174.0C769.9 175.4 772.4 175.8 773.6 176.9C774.8 178.1 775.9 177.6 776.1 180.6C776.3 183.7 775.4 189.9 774.8 195.4C774.3 201.0 773.1 206.9 772.6 213.9C772.1 220.9 773.1 231.7 772.0 237.3C770.9 242.8 768.2 243.7 766.2 247.1C764.3 250.6 761.9 254.5 760.3 258.2C758.7 261.9 757.4 265.4 756.6 269.3C755.8 273.2 756.0 277.5 755.4 281.6C754.7 285.7 754.3 290.2 752.7 293.9C751.0 297.6 748.3 300.9 745.3 303.8C742.2 306.7 737.9 309.1 734.2 311.2C730.5 313.2 726.4 314.3 723.1 316.1C719.8 318.0 717.6 320.8 714.5 322.3C711.4 323.7 707.5 325.1 704.6 324.7C701.8 324.3 699.3 321.9 697.5 319.8C695.7 317.8 694.9 316.7 693.8 312.4C692.7 308.1 691.5 302.2 690.7 293.9C689.9 285.7 689.2 272.4 688.9 263.2C688.6 253.9 688.7 246.7 688.9 238.5C689.1 230.3 689.5 221.1 690.1 213.9C690.7 206.7 691.5 201.2 692.6 195.4C693.6 189.7 694.9 184.2 696.3 179.4C697.7 174.6 698.1 168.7 700.9 166.5Z" fill="#fbfefa" stroke="none" stroke-width="0.0" stroke-linejoin="round"/>
<path d="M726.1 143.5h1.5M754.5 149.8h1.5M762.1 155.1h1.5M691.5 129.7h1.5M716.7 114.1h1.5M737.9 153.3h1.5M765.5 140.1h1.5M760.2 136.4h1.5M772.6 153.1h1.5M728.6 131.3h1.5M776.2 151.0h1.5M731.8 147.8h1.5M770.5 168.2h1.5M708.6 159.0h1.5M759.3 150.6h1.5M713.3 153.7h1.5M725.2 136.1h1.5M769.7 152.2h1.5M752.6 151.8h1.5M716.9 154.1h1.5M694.8 151.3h1.5M729.5 148.2h1.5M737.1 153.3h1.5M765.4 148.4h1.5M757.4 138.8h1.5M705.9 155.6h1.5M698.7 166.0h1.5M724.9 143.9h1.5M750.3 120.2h1.5M691.7 126.9h1.5M770.4 163.0h1.5M724.3 145.0h1.5M750.9 149.7h1.5M722.6 162.8h1.5M764.6 165.1h1.5M743.9 155.4h1.5M734.2 135.9h1.5M732.3 148.9h1.5M768.8 139.7h1.5M768.6 169.0h1.5M733.9 156.1h1.5M733.6 160.5h1.5M740.2 158.0h1.5M750.8 146.8h1.5M726.1 157.4h1.5M741.5 157.3h1.5M765.8 142.7h1.5M723.3 158.9h1.5M756.4 137.7h1.5M724.2 121.7h1.5M741.9 138.3h1.5M730.4 148.0h1.5M763.2 137.7h1.5M696.2 153.6h1.5M721.7 123.3h1.5M745.4 151.1h1.5M762.6 147.8h1.5M709.3 134.9h1.5M726.8 144.2h1.5M748.6 142.6h1.5M764.4 154.6h1.5M721.9 158.6h1.5M745.4 150.2h1.5M693.6 164.8h1.5M730.2 159.8h1.5M769.5 145.1h1.5M753.8 129.4h1.5M743.2 144.8h1.5M703.6 165.4h1.5M736.4 156.7h1.5M770.3 146.0h1.5M717.4 112.6h1.5M724.9 155.2h1.5M694.6 145.8h1.5M743.8 144.6h1.5M701.3 153.8h1.5M708.3 146.8h1.5M723.6 152.3h1.5M739.3 153.3h1.5M722.4 148.4h1.5M742.3 148.7h1.5M722.6 128.5h1.5M695.9 174.4h1.5M724.6 159.3h1.5M724.0 162.0h1.5M723.5 152.6h1.5M723.5 145.8h1.5M767.8 148.2h1.5M772.9 141.0h1.5M725.2 156.9h1.5M772.3 173.6h1.5M755.8 142.7h1.5M744.3 147.1h1.5M725.0 163.7h1.5M750.0 130.1h1.5M737.3 139.1h1.5M756.9 149.3h1.5M774.1 138.6h1.5M751.6 135.0h1.5M762.2 143.3h1.5M746.2 150.3h1.5M729.4 146.3h1.5M763.0 143.9h1.5M768.6 167.8h1.5M729.1 154.6h1.5M721.8 124.5h1.5M711.1 162.0h1.5M726.0 158.6h1.5M720.8 158.6h1.5M721.5 155.9h1.5" stroke="#7a9f58" stroke-width="1.5" fill="none" opacity="0.7"/>
<path d="M791.6 153.6h1.5M826.7 172.3h1.5M787.9 143.3h1.5M811.9 134.7h1.5M819.1 158.0h1.5M814.9 168.9h1.5M836.9 165.6h1.5M807.5 173.3h1.5M826.5 149.2h1.5M859.9 117.8h1.5M815.0 170.2h1.5M848.6 155.1h1.5M828.3 120.1h1.5M829.2 142.3h1.5M813.2 165.5h1.5M788.6 166.2h1.5M827.3 149.7h1.5M779.4 166.0h1.5M781.3 154.1h1.5M791.9 144.9h1.5M800.2 177.7h1.5M827.5 136.6h1.5M864.8 134.0h1.5M799.0 152.8h1.5M825.4 121.5h1.5M825.5 153.5h1.5M815.2 143.2h1.5M797.2 177.9h1.5M843.0 163.0h1.5M830.2 175.7h1.5M815.7 159.9h1.5M835.8 164.3h1.5M825.0 131.1h1.5M860.8 187.1h1.5M833.2 166.1h1.5M820.7 112.5h1.5M837.0 186.1h1.5M820.9 175.4h1.5M798.5 155.2h1.5M829.3 181.9h1.5M805.8 173.3h1.5M816.9 176.8h1.5M795.3 139.1h1.5M864.4 139.7h1.5M845.9 175.7h1.5M812.0 159.3h1.5M781.7 169.6h1.5M832.2 133.8h1.5M826.8 166.0h1.5M853.1 175.9h1.5M793.5 145.6h1.5M826.5 170.3h1.5M850.4 160.2h1.5M849.9 142.4h1.5M797.1 149.8h1.5M816.2 173.0h1.5M859.1 136.4h1.5M803.2 179.0h1.5M856.2 175.3h1.5M832.9 131.7h1.5M809.0 124.4h1.5M793.1 130.5h1.5M805.3 111.4h1.5M845.3 155.5h1.5M815.9 161.8h1.5M839.2 157.6h1.5M787.8 178.5h1.5M808.4 168.0h1.5M803.7 161.9h1.5M800.0 140.7h1.5M844.9 110.0h1.5M842.6 155.3h1.5M810.0 162.8h1.5M815.4 138.1h1.5M845.2 135.6h1.5M827.2 154.0h1.5M801.5 146.2h1.5M832.0 149.6h1.5M863.8 175.5h1.5M784.6 132.2h1.5M856.5 116.7h1.5M801.5 168.8h1.5M850.4 139.1h1.5M866.2 164.4h1.5M827.4 152.9h1.5M788.2 162.4h1.5M844.7 168.1h1.5M843.9 141.8h1.5M785.3 168.2h1.5M835.3 146.5h1.5M854.4 139.2h1.5M795.7 137.5h1.5M793.6 119.0h1.5M858.8 183.5h1.5M806.5 174.4h1.5M853.9 138.9h1.5M804.7 162.3h1.5M844.5 185.3h1.5M848.4 157.2h1.5M805.1 178.3h1.5M814.6 169.7h1.5M809.4 148.6h1.5M810.7 137.0h1.5M852.4 124.1h1.5M836.0 148.1h1.5M839.3 118.8h1.5M824.7 161.0h1.5M866.9 179.9h1.5M836.0 157.1h1.5M826.3 184.2h1.5M864.1 170.4h1.5M861.1 120.5h1.5M828.9 146.0h1.5M866.9 111.7h1.5M861.3 128.8h1.5M840.1 131.4h1.5M808.0 161.7h1.5M833.0 154.8h1.5M834.9 183.2h1.5M798.5 164.5h1.5M826.4 186.0h1.5M841.6 162.8h1.5M839.6 150.1h1.5M792.7 172.9h1.5M809.0 136.8h1.5M830.6 182.7h1.5M851.3 160.4h1.5M830.6 147.2h1.5M836.1 181.3h1.5M824.0 162.7h1.5M843.9 163.5h1.5M838.8 118.6h1.5M841.0 123.7h1.5M848.2 157.5h1.5M816.4 135.6h1.5M856.5 150.5h1.5M816.5 119.9h1.5M845.5 103.5h1.5M821.8 146.5h1.5M853.3 178.2h1.5M803.2 149.7h1.5M812.5 152.1h1.5M791.7 150.3h1.5M848.4 124.2h1.5M858.6 171.3h1.5M850.6 178.4h1.5M804.6 128.3h1.5M861.9 158.0h1.5M841.2 183.8h1.5M790.3 164.7h1.5M827.2 139.7h1.5M802.7 164.9h1.5M814.6 169.4h1.5M826.4 155.0h1.5M860.0 153.0h1.5M849.3 167.7h1.5M825.2 159.6h1.5M800.7 140.8h1.5M823.2 137.1h1.5M838.6 154.0h1.5M802.8 172.5h1.5M805.4 155.8h1.5M800.1 179.6h1.5M831.3 156.7h1.5M821.4 173.6h1.5M813.8 120.9h1.5M849.5 139.4h1.5M781.1 140.3h1.5M844.2 150.5h1.5M821.8 150.9h1.5M784.5 290.1h1.5M801.0 251.3h1.5M795.9 269.0h1.5M860.2 235.4h1.5M838.1 241.3h1.5M863.3 234.5h1.5M838.1 232.0h1.5M859.8 241.3h1.5M813.7 248.4h1.5M838.7 229.3h1.5M829.6 239.1h1.5M798.2 276.9h1.5M856.3 235.2h1.5M821.1 255.8h1.5M809.0 254.2h1.5M804.9 259.2h1.5M830.0 245.4h1.5M815.2 249.7h1.5M836.0 233.7h1.5M855.6 247.6h1.5M783.0 277.5h1.5M854.1 251.3h1.5M858.8 216.7h1.5M831.6 229.0h1.5M837.0 253.4h1.5M820.6 262.0h1.5M802.1 255.7h1.5M827.5 248.7h1.5M796.6 254.2h1.5M783.4 278.9h1.5M840.3 236.2h1.5M814.2 250.1h1.5M800.6 266.3h1.5M848.3 227.7h1.5M810.4 255.7h1.5M816.6 284.0h1.5M813.6 252.4h1.5M815.7 259.7h1.5M844.3 248.7h1.5M823.6 253.0h1.5M797.5 266.6h1.5M808.8 264.5h1.5M816.4 261.3h1.5M786.7 287.6h1.5M785.2 270.0h1.5M797.2 265.2h1.5M853.1 225.3h1.5M833.8 255.2h1.5M796.7 273.8h1.5M809.2 264.5h1.5M837.2 239.8h1.5M781.2 267.6h1.5M790.7 268.3h1.5M798.3 250.8h1.5M829.2 251.5h1.5M823.9 253.7h1.5M822.1 254.6h1.5M857.4 244.6h1.5M840.0 260.4h1.5M799.0 268.7h1.5M863.3 222.9h1.5M829.0 249.4h1.5M815.3 261.6h1.5M826.8 262.9h1.5M782.7 270.7h1.5M853.6 221.9h1.5M844.8 230.6h1.5M851.4 252.0h1.5M842.1 241.3h1.5M804.1 252.7h1.5M832.2 246.1h1.5M798.9 264.6h1.5M793.6 280.2h1.5M847.5 238.8h1.5M855.4 232.1h1.5M863.7 232.1h1.5M822.7 261.6h1.5M816.5 243.8h1.5M819.4 255.2h1.5M829.8 253.7h1.5M794.7 278.5h1.5M833.0 255.3h1.5M849.9 243.6h1.5M792.7 257.6h1.5M804.0 248.7h1.5M825.6 249.3h1.5M854.0 229.7h1.5M816.7 255.0h1.5M864.7 242.0h1.5M834.0 245.7h1.5M820.3 248.3h1.5M861.3 233.0h1.5M815.6 262.5h1.5M835.9 242.4h1.5M828.8 246.9h1.5M822.3 253.7h1.5M832.6 252.8h1.5M797.3 259.0h1.5M834.5 247.3h1.5M815.7 276.3h1.5M848.8 267.6h1.5M854.3 246.2h1.5M827.7 268.3h1.5M850.6 263.5h1.5M840.0 289.8h1.5M844.0 279.1h1.5M858.4 165.5h1.5M859.6 213.9h1.5M822.2 182.9h1.5M841.8 151.3h1.5M863.4 246.1h1.5M827.3 175.0h1.5M836.4 284.9h1.5M780.5 177.3h1.5M803.7 255.1h1.5M837.0 100.6h1.5M857.0 181.6h1.5M791.1 119.8h1.5M785.2 149.6h1.5M830.3 163.2h1.5" stroke="#5560a6" stroke-width="1.5" fill="none" opacity="0.7"/>
<path d="M893.7 140.9h1.5M1003.0 146.1h1.5M934.5 172.9h1.5M1013.4 147.6h1.5M946.7 183.9h1.5M965.0 184.7h1.5M967.6 158.0h1.5M960.6 137.2h1.5M929.1 199.9h1.5M1001.9 164.5h1.5M971.5 149.8h1.5M975.5 156.9h1.5M888.3 214.5h1.5M938.1 177.6h1.5M876.9 188.3h1.5M951.2 180.1h1.5M977.6 188.3h1.5M987.2 136.8h1.5M943.5 199.7h1.5M980.3 153.0h1.5M934.3 169.7h1.5M944.8 122.0h1.5M926.3 204.9h1.5M936.8 165.2h1.5M928.8 168.2h1.5M885.9 155.9h1.5M998.0 136.9h1.5M891.1 154.7h1.5M899.5 149.2h1.5M894.3 141.1h1.5M940.3 177.3h1.5M994.8 164.9h1.5M950.9 157.9h1.5M979.2 141.0h1.5M919.5 164.0h1.5M990.7 155.2h1.5M939.4 204.2h1.5M1004.5 162.3h1.5M948.6 157.7h1.5M934.3 191.4h1.5M958.5 196.8h1.5M956.9 141.5h1.5M898.2 133.0h1.5M955.3 145.0h1.5M960.4 155.4h1.5M944.4 160.3h1.5M907.6 154.9h1.5M936.5 155.9h1.5M879.7 234.3h1.5M993.5 129.4h1.5M872.5 154.4h1.5M983.6 119.6h1.5M935.8 146.9h1.5M937.3 147.3h1.5M976.4 190.3h1.5M1010.0 114.7h1.5M913.7 209.1h1.5M972.3 189.4h1.5M952.1 162.8h1.5M1010.4 206.3h1.5M948.0 152.4h1.5M925.2 148.5h1.5M941.5 167.4h1.5M941.4 166.8h1.5M894.9 200.8h1.5M981.0 158.7h1.5M950.4 206.1h1.5M897.6 155.0h1.5M898.6 230.2h1.5M948.2 163.2h1.5M1008.0 154.2h1.5M902.2 123.3h1.5M911.1 163.6h1.5M887.4 153.9h1.5M995.0 185.5h1.5M881.0 168.2h1.5M893.9 156.7h1.5M951.8 178.3h1.5M978.7 160.1h1.5M948.3 199.9h1.5M992.6 142.5h1.5M1006.7 131.5h1.5M1011.5 125.5h1.5M933.8 124.2h1.5M872.6 132.3h1.5M961.2 157.5h1.5M904.3 150.7h1.5M929.5 174.9h1.5M962.9 187.2h1.5M868.5 202.4h1.5M989.3 163.0h1.5M1011.8 135.9h1.5M1000.6 98.4h1.5M966.2 186.8h1.5M968.0 148.8h1.5M927.8 132.5h1.5M985.4 139.1h1.5M982.1 123.8h1.5M950.3 192.5h1.5M942.2 164.8h1.5M966.8 157.8h1.5M1002.8 160.4h1.5M956.6 188.2h1.5M962.4 141.6h1.5M938.2 141.8h1.5M951.9 228.1h1.5M986.7 154.5h1.5M912.3 163.8h1.5M985.5 189.1h1.5M891.6 205.1h1.5M1008.6 148.2h1.5M908.4 148.1h1.5M959.9 152.4h1.5M1016.1 101.2h1.5M986.7 204.2h1.5M1014.9 160.7h1.5M962.3 197.5h1.5M937.1 185.2h1.5M923.7 197.9h1.5M904.9 152.3h1.5M925.0 210.7h1.5M868.8 176.5h1.5M910.9 246.4h1.5M1003.8 181.6h1.5M870.3 181.3h1.5M930.6 129.0h1.5M915.9 204.6h1.5M974.0 178.5h1.5M948.2 172.5h1.5M871.9 159.8h1.5M1003.2 169.0h1.5M992.6 194.0h1.5M913.0 165.9h1.5M947.8 166.4h1.5M933.4 218.6h1.5M952.7 185.8h1.5M920.1 210.3h1.5M976.9 209.0h1.5M909.4 162.5h1.5M931.7 208.4h1.5M875.6 154.0h1.5M925.6 167.3h1.5M957.7 153.1h1.5M957.2 122.2h1.5M961.9 129.6h1.5M987.7 141.8h1.5M959.7 149.6h1.5M941.0 150.1h1.5M949.8 117.1h1.5M875.1 211.6h1.5M921.8 198.8h1.5M946.9 188.9h1.5M978.6 171.2h1.5M944.2 154.8h1.5M959.4 215.8h1.5M941.6 175.7h1.5M992.4 128.9h1.5M934.4 210.8h1.5M945.8 156.2h1.5M941.2 184.4h1.5M886.1 221.8h1.5M941.5 187.2h1.5M896.6 143.2h1.5M916.3 158.5h1.5M931.7 173.6h1.5M934.5 143.2h1.5M950.8 182.3h1.5M939.9 138.8h1.5M938.0 159.3h1.5M968.7 217.6h1.5M925.4 149.9h1.5M967.5 195.5h1.5M963.2 188.5h1.5M1001.2 176.3h1.5M880.7 172.5h1.5M972.6 103.9h1.5M874.8 222.9h1.5M953.4 196.0h1.5M1000.7 125.7h1.5M875.3 229.9h1.5M952.7 142.3h1.5M954.8 158.3h1.5M920.3 156.1h1.5M965.4 144.8h1.5M998.0 121.2h1.5M929.9 204.3h1.5M921.4 162.6h1.5M999.8 187.6h1.5M900.2 158.5h1.5M958.8 208.9h1.5M916.0 154.3h1.5M981.8 166.8h1.5M945.3 143.8h1.5M933.7 165.2h1.5M971.8 117.3h1.5M919.0 211.4h1.5M992.5 167.6h1.5M928.8 149.2h1.5M915.1 165.8h1.5M974.6 126.5h1.5M985.9 158.0h1.5M935.2 178.7h1.5M888.6 235.8h1.5M968.0 189.3h1.5M913.1 150.9h1.5M869.9 197.4h1.5M969.2 216.1h1.5M954.4 155.8h1.5M984.7 129.0h1.5M951.5 148.8h1.5M953.5 193.0h1.5M920.8 153.6h1.5M947.4 149.4h1.5M948.5 170.4h1.5M902.4 155.0h1.5M997.0 152.4h1.5M876.5 186.4h1.5M898.0 204.1h1.5M918.6 150.0h1.5M934.3 148.9h1.5M897.5 165.2h1.5M944.9 173.2h1.5M942.2 187.1h1.5M974.4 185.5h1.5M938.1 159.2h1.5M1012.4 130.8h1.5M932.3 212.9h1.5M936.7 170.5h1.5M890.1 215.7h1.5M925.8 193.9h1.5M924.2 147.1h1.5M900.4 207.0h1.5M888.9 165.5h1.5M874.2 180.7h1.5M945.6 182.6h1.5M951.5 181.9h1.5M892.1 141.7h1.5M958.9 127.4h1.5M935.6 161.1h1.5M907.4 224.6h1.5M931.9 219.5h1.5M958.9 156.4h1.5M915.9 90.2h1.5M999.4 133.3h1.5M947.3 164.3h1.5M948.8 168.0h1.5M906.1 204.6h1.5M979.1 158.5h1.5M953.7 139.1h1.5M982.9 131.0h1.5M901.3 203.9h1.5M894.8 201.1h1.5M937.6 188.3h1.5M1013.0 129.7h1.5M871.2 222.6h1.5M997.6 171.3h1.5M927.8 193.5h1.5M869.6 190.1h1.5M919.1 114.5h1.5M960.7 210.8h1.5M924.1 166.4h1.5M888.8 234.8h1.5M976.3 142.2h1.5M933.0 202.7h1.5M996.2 162.4h1.5M969.9 159.9h1.5M912.2 154.9h1.5M951.9 160.3h1.5M962.1 141.5h1.5M947.5 182.1h1.5M975.9 180.7h1.5M1006.8 111.2h1.5M935.4 162.0h1.5M909.8 165.3h1.5M951.8 175.5h1.5M937.7 162.5h1.5M964.7 147.8h1.5M957.9 188.3h1.5M978.0 132.9h1.5M936.6 182.5h1.5M990.7 172.6h1.5M1010.1 117.5h1.5M915.5 217.4h1.5M913.5 109.9h1.5M941.9 105.9h1.5M925.5 211.9h1.5M966.4 148.8h1.5M967.7 198.2h1.5M876.4 214.7h1.5M1003.3 146.5h1.5M950.5 109.3h1.5M958.5 158.5h1.5M957.5 98.1h1.5M949.7 151.0h1.5M997.4 184.6h1.5M975.6 166.3h1.5M907.0 214.7h1.5M947.4 146.4h1.5M927.4 153.9h1.5M943.7 114.5h1.5M929.9 100.2h1.5M952.2 109.5h1.5M901.7 98.0h1.5M944.3 99.1h1.5M940.0 177.6h1.5M886.6 137.3h1.5M912.9 150.8h1.5M914.9 141.3h1.5M997.3 97.5h1.5M1006.3 208.3h1.5M963.6 190.0h1.5M977.7 147.8h1.5M892.9 109.1h1.5M974.9 218.0h1.5M909.3 203.8h1.5M877.7 170.6h1.5M998.5 124.5h1.5M1014.2 147.0h1.5M1017.4 133.0h1.5M1003.8 139.9h1.5" stroke="#93689f" stroke-width="1.5" fill="none" opacity="0.7"/>
<path d="M1051.7 108.5h1.5M1022.3 140.5h1.5M1040.4 103.3h1.5M1046.6 126.2h1.5M1037.0 126.1h1.5M1039.9 165.2h1.5M1045.4 154.1h1.5M1033.2 167.8h1.5M1040.9 176.0h1.5M1034.0 156.4h1.5M1050.6 132.9h1.5M1045.5 172.7h1.5M1038.3 93.3h1.5M1037.9 162.9h1.5M1039.8 193.7h1.5M1026.9 191.0h1.5M1054.9 178.9h1.5M1029.8 170.7h1.5M1023.9 206.7h1.5M1035.6 137.8h1.5M1029.9 172.3h1.5M1064.3 198.8h1.5M1058.7 109.5h1.5M1036.0 159.1h1.5M1047.1 170.1h1.5M1029.8 163.2h1.5M1064.7 147.6h1.5M1030.2 167.9h1.5M1031.6 180.9h1.5M1035.0 165.0h1.5M1049.8 124.9h1.5M1050.0 159.9h1.5M1020.7 178.0h1.5M1039.5 138.5h1.5M1037.5 132.4h1.5M1047.8 152.7h1.5M1040.5 182.6h1.5M1045.4 166.3h1.5M1048.9 133.9h1.5M1045.6 117.6h1.5M1032.2 140.2h1.5M1047.3 143.9h1.5M1043.6 153.9h1.5M1028.8 155.4h1.5M1027.4 163.9h1.5M1046.5 183.4h1.5M1044.1 188.7h1.5M1025.0 151.3h1.5M1039.4 155.6h1.5M1050.2 171.7h1.5M1058.0 180.3h1.5M1038.2 142.6h1.5M1030.6 154.2h1.5M1030.2 191.0h1.5M1034.9 160.8h1.5M1054.9 172.0h1.5M1049.6 130.4h1.5M1025.6 153.5h1.5M1019.9 159.0h1.5M1028.1 152.2h1.5" stroke="#e06a6a" stroke-width="1.5" fill="none" opacity="0.7"/>
<path d="M1067.4 188.6h1.5M1058.2 169.4h1.5M1075.6 173.1h1.5M1075.6 154.4h1.5M1068.9 130.9h1.5M1078.0 158.9h1.5M1076.4 183.2h1.5M1088.3 147.4h1.5M1063.6 146.1h1.5M1065.9 156.7h1.5M1071.7 124.2h1.5M1062.3 203.0h1.5M1081.8 137.6h1.5M1074.9 134.3h1.5M1058.1 165.3h1.5M1061.5 170.6h1.5M1064.7 166.9h1.5M1056.2 174.6h1.5M1064.1 212.8h1.5M1082.7 129.9h1.5M1053.8 142.8h1.5M1071.7 173.9h1.5M1073.8 179.8h1.5M1075.5 167.1h1.5M1075.3 146.1h1.5M1076.2 182.2h1.5M1058.7 141.4h1.5M1071.5 180.5h1.5M1060.5 183.9h1.5M1072.2 140.4h1.5M988.1 80.5h1.5M893.5 63.8h1.5M1070.0 93.6h1.5M1000.7 82.3h1.5M1029.6 68.2h1.5M787.9 79.4h1.5M880.5 65.8h1.5M862.4 96.9h1.5M1012.8 62.0h1.5M855.0 89.6h1.5M983.8 69.6h1.5M951.1 94.0h1.5M773.5 95.7h1.5M865.0 68.0h1.5M922.2 78.0h1.5M813.0 69.4h1.5M995.7 70.6h1.5M793.5 77.1h1.5M936.5 92.4h1.5M979.8 84.8h1.5M1052.9 83.3h1.5M954.2 83.3h1.5M905.2 89.0h1.5M914.8 96.1h1.5M960.5 94.9h1.5M702.8 92.6h1.5M709.1 83.7h1.5M723.7 63.2h1.5M762.5 86.7h1.5M718.0 86.9h1.5M768.5 66.7h1.5M716.1 97.1h1.5M779.6 98.3h1.5M718.6 73.4h1.5M704.9 66.4h1.5M702.4 363.7h1.5M737.7 320.3h1.5M705.2 391.9h1.5M744.3 344.8h1.5M757.9 338.6h1.5M703.7 355.0h1.5M724.0 406.8h1.5M706.1 397.8h1.5M732.3 401.6h1.5M749.7 403.7h1.5M734.2 377.9h1.5M723.7 352.5h1.5M736.7 332.4h1.5M704.7 407.3h1.5M719.7 360.6h1.5M733.2 349.9h1.5M706.6 385.0h1.5M716.8 399.9h1.5M726.9 351.4h1.5M716.2 378.2h1.5M696.5 401.8h1.5M701.6 381.7h1.5M691.2 372.7h1.5M703.1 384.4h1.5M720.7 406.5h1.5M706.0 405.1h1.5M743.4 358.4h1.5M745.5 359.2h1.5M715.8 386.7h1.5M746.9 357.2h1.5" stroke="#4a4a52" stroke-width="1.5" fill="none" opacity="0.7"/>
<path d="M700.3 166.5C699.4 167.6 696.5 169.9 694.8 173.3C693.1 176.6 691.3 182.1 690.1 186.8C688.9 191.5 688.3 193.0 687.6 201.6C687.0 210.2 686.7 224.2 686.4 238.5C686.2 252.9 686.2 273.4 686.2 287.8C686.2 302.2 686.0 316.5 686.4 324.7C686.9 332.9 687.9 332.9 688.9 337.0C689.9 341.1 691.2 346.2 692.3 349.4C693.4 352.5 694.2 355.3 695.4 355.8C696.6 356.2 698.4 353.5 699.7 352.1C701.0 350.6 702.4 349.4 703.4 346.9C704.4 344.4 705.3 339.7 705.9 337.0C706.4 334.4 706.4 331.9 706.5 330.9" fill="none" stroke="#333333" stroke-width="1.38" stroke-linejoin="round"/>
<path d="M715.7 328.4C715.6 329.9 715.0 334.6 714.7 337.0C714.4 339.5 714.2 341.1 713.9 343.2C713.7 345.2 713.6 347.5 713.3 349.4C712.9 351.2 712.4 352.6 712.0 354.3C711.6 355.9 711.5 356.9 710.8 359.2C710.1 361.5 708.4 365.4 707.8 367.8C707.2 370.3 707.4 372.0 707.2 374.1C707.0 376.1 707.0 378.3 706.6 380.1C706.2 382.0 705.4 383.5 704.9 385.1C704.3 386.8 704.5 388.9 703.4 390.0C702.3 391.1 700.1 391.8 698.5 392.0C696.8 392.2 694.9 392.4 693.5 391.2C692.2 390.1 690.9 387.0 690.1 385.1C689.3 383.1 689.0 381.3 688.6 379.4C688.2 377.6 687.9 376.0 687.6 374.0C687.4 372.0 687.1 369.7 686.9 367.7C686.7 365.6 686.5 363.7 686.4 361.7C686.3 359.6 686.4 357.4 686.4 355.4C686.4 353.4 686.4 351.6 686.4 349.6C686.3 347.6 686.2 344.3 686.2 343.2" fill="none" stroke="#333333" stroke-width="1.38" stroke-linejoin="round"/>
<path d="M700.9 166.2L712.6 166.2" fill="none" stroke="#df625c" stroke-width="1.4949999999999999" stroke-linejoin="round"/>
<path d="M696.0 191.7C695.2 193.4 692.6 196.9 691.3 201.6C690.0 206.3 689.0 211.8 688.3 220.0C687.5 228.3 687.2 239.5 687.0 250.8C686.8 262.1 686.8 276.5 687.0 287.8C687.2 299.1 687.5 312.0 688.1 318.6C688.7 325.1 689.3 324.9 690.6 327.2C691.9 329.5 693.9 331.4 696.0 332.4C698.1 333.3 700.9 333.3 703.4 332.9C705.9 332.4 708.5 331.1 710.8 329.9C713.0 328.8 715.9 326.6 716.9 326.0" fill="none" stroke="#df625c" stroke-width="1.38" stroke-linejoin="round"/>
<path d="M688.6 310.0C689.2 311.4 690.7 316.3 692.3 318.6C694.0 320.8 696.4 322.5 698.5 323.5C700.5 324.5 702.4 324.8 704.6 324.7C706.9 324.6 709.6 323.8 712.0 323.0C714.5 322.2 717.4 320.7 719.4 319.8C721.5 318.9 723.5 317.8 724.3 317.3" fill="none" stroke="#df625c" stroke-width="1.38" stroke-linejoin="round"/>
<path d="M778.5 263.2L784.7 257.0L789.9 253.9" fill="none" stroke="#df625c" stroke-width="1.265" stroke-linejoin="round"/>
<path d="M765.0 269.3L771.1 268.1L777.3 264.4" fill="none" stroke="#c88a4a" stroke-width="1.15" stroke-linejoin="round"/>
<path d="M857.3 191.2C859.0 191.4 863.5 192.8 867.2 192.5C870.9 192.2 877.5 190.0 879.5 189.5" fill="none" stroke="#df625c" stroke-width="1.6099999999999999" stroke-linejoin="round"/>
<path d="M882.0 201.6C879.5 203.3 871.1 209.0 867.2 211.7C863.3 214.3 860.2 216.6 858.8 217.6" fill="none" stroke="#df625c" stroke-width="1.265" stroke-linejoin="round"/>
<path d="M700.9 166.5C702.4 165.4 705.1 166.5 707.1 166.4C709.2 166.4 710.6 166.3 713.3 166.1C715.9 165.9 720.6 165.9 723.1 165.2C725.6 164.6 726.2 162.7 728.0 162.2C729.9 161.7 732.3 162.2 734.3 162.2C736.3 162.2 738.2 162.2 740.2 162.1C742.3 162.0 745.0 162.7 746.5 161.7C748.0 160.7 747.7 157.7 749.0 156.0C750.2 154.4 752.2 152.2 753.9 151.8C755.5 151.4 757.6 152.2 758.8 153.5C760.0 154.9 760.0 157.2 761.3 159.7C762.5 162.2 765.0 165.9 766.2 168.3C767.4 170.7 767.4 172.6 768.7 174.0C769.9 175.4 772.4 175.8 773.6 176.9C774.8 178.1 775.7 178.8 776.1 180.6C776.4 182.5 775.7 185.7 775.5 188.2C775.3 190.6 775.0 193.1 774.8 195.4C774.6 197.7 774.5 199.7 774.2 201.8C774.0 203.8 773.5 205.7 773.2 207.7C773.0 209.7 772.7 211.9 772.6 213.9C772.5 215.9 772.6 217.8 772.6 219.8C772.5 221.7 772.5 223.6 772.4 225.5C772.4 227.4 772.4 229.2 772.4 231.2C772.3 233.2 772.5 235.5 772.0 237.3C771.5 239.1 770.2 240.5 769.2 242.2C768.2 243.8 767.2 245.4 766.2 247.1C765.2 248.9 764.0 250.9 763.0 252.8C762.0 254.6 761.1 256.4 760.3 258.2C759.5 260.0 758.8 261.8 758.2 263.6C757.6 265.5 757.0 267.4 756.6 269.3C756.2 271.3 756.1 273.2 755.9 275.3C755.7 277.3 755.7 279.6 755.4 281.6C755.0 283.7 754.3 285.5 753.8 287.6C753.4 289.6 753.4 292.1 752.7 293.9C751.9 295.8 750.4 297.0 749.1 298.7C747.9 300.3 746.9 302.4 745.3 303.8C743.7 305.2 741.4 306.0 739.6 307.3C737.7 308.5 736.0 310.1 734.2 311.2C732.4 312.2 730.7 312.8 728.9 313.7C727.0 314.5 724.8 315.1 723.1 316.1C721.5 317.1 720.4 318.4 719.0 319.4C717.5 320.4 716.0 321.6 714.5 322.3C712.9 322.9 711.2 323.0 709.6 323.4C707.9 323.9 706.6 325.3 704.6 324.7C702.6 324.1 699.3 321.9 697.5 319.8C695.7 317.8 694.6 314.7 693.8 312.4C693.0 310.1 693.0 308.2 692.7 306.1C692.4 304.1 692.1 302.4 691.8 300.3C691.5 298.3 690.9 295.8 690.7 293.9C690.5 292.0 690.5 290.6 690.4 288.9C690.3 287.3 690.4 285.6 690.3 283.8C690.2 282.1 690.0 280.3 689.9 278.6C689.7 276.8 689.4 275.1 689.3 273.4C689.2 271.6 689.4 270.0 689.4 268.3C689.3 266.6 688.9 265.0 688.9 263.2C688.8 261.3 689.0 259.0 689.0 256.9C689.0 254.8 688.9 252.7 688.9 250.7C688.9 248.7 689.0 246.9 689.0 244.8C689.0 242.8 688.9 240.6 688.9 238.5C688.9 236.5 688.9 234.5 688.9 232.4C689.0 230.4 689.2 228.5 689.3 226.4C689.4 224.3 689.5 222.0 689.6 219.9C689.8 217.8 689.9 215.9 690.1 213.9C690.3 211.9 690.9 209.8 691.1 207.8C691.3 205.7 691.3 203.6 691.5 201.6C691.7 199.5 692.2 197.4 692.6 195.4C693.0 193.5 693.5 191.7 694.0 189.9C694.4 188.1 694.8 186.4 695.2 184.6C695.5 182.9 695.7 181.4 696.3 179.4C696.8 177.5 697.8 175.0 698.6 172.9C699.3 170.7 699.5 167.6 700.9 166.5Z" fill="none" stroke="#69a745" stroke-width="1.3224999999999998" stroke-linejoin="round"/>
<path d="M756.6 269.3C758.0 269.2 762.5 269.0 765.0 268.8C767.5 268.6 770.6 268.2 771.7 268.1" fill="none" stroke="#69a745" stroke-width="1.15" stroke-linejoin="round"/>
<path d="M702.2 191.7C703.5 190.0 705.4 188.8 707.1 188.0C708.7 187.2 710.4 187.3 712.0 187.0C713.7 186.7 715.3 185.8 716.9 186.2C718.6 186.6 720.2 187.7 721.9 189.3C723.5 190.8 725.0 193.8 726.8 195.4C728.6 197.1 730.5 198.8 733.0 199.1C735.4 199.4 738.7 197.8 741.6 197.3C744.4 196.8 747.5 196.1 750.2 196.0C752.9 195.9 755.5 195.3 757.6 196.7C759.6 198.0 761.4 202.0 762.5 204.0C763.6 206.1 763.6 207.4 764.2 209.0C764.8 210.7 765.5 212.3 766.2 213.9C766.9 215.5 767.5 217.1 768.2 218.7C769.0 220.4 770.0 221.8 770.5 223.7C771.0 225.7 770.9 228.3 771.1 230.6C771.3 232.8 772.2 235.6 771.7 237.3C771.3 239.0 769.7 239.7 768.6 241.0C767.4 242.2 766.1 243.2 765.0 244.7C763.9 246.2 763.1 248.2 762.1 249.8C761.1 251.4 760.2 252.3 758.8 254.5C757.5 256.8 755.5 260.3 753.9 263.2C752.2 266.0 750.0 269.2 749.0 271.8C747.9 274.3 748.0 276.1 747.6 278.4C747.2 280.6 747.1 283.1 746.5 285.3C745.9 287.5 744.7 289.6 743.9 291.6C743.1 293.7 742.7 295.9 741.6 297.6C740.5 299.4 738.7 300.7 737.3 302.1C735.9 303.5 734.6 305.0 733.0 306.3C731.3 307.5 729.4 308.4 727.6 309.4C725.8 310.4 723.7 311.7 721.9 312.4C720.0 313.1 718.2 313.1 716.3 313.5C714.5 313.9 713.3 315.1 710.8 314.9C708.3 314.7 703.3 313.8 701.2 312.4C699.0 311.0 698.9 308.4 697.9 306.4C696.9 304.3 695.6 302.2 695.0 300.1C694.5 298.0 694.7 296.1 694.5 294.0C694.3 292.0 694.0 289.9 693.8 287.9C693.6 285.8 693.4 283.8 693.2 281.8C693.0 279.7 692.7 277.5 692.6 275.5C692.4 273.4 692.3 271.3 692.3 269.3C692.2 267.3 692.2 265.4 692.2 263.3C692.2 261.2 692.3 259.0 692.3 256.9C692.2 254.8 692.0 252.9 691.9 250.8C691.9 248.8 692.0 246.6 692.1 244.6C692.2 242.5 692.4 240.6 692.5 238.6C692.6 236.6 692.7 234.5 692.8 232.5C692.9 230.4 693.0 228.1 693.2 226.2C693.3 224.3 693.6 222.7 693.9 221.0C694.1 219.2 694.3 217.5 694.6 215.8C694.9 214.1 695.2 212.4 695.5 210.6C695.8 208.9 695.6 207.3 696.3 205.3C696.9 203.2 698.4 200.8 699.4 198.5C700.4 196.2 700.9 193.5 702.2 191.7Z" fill="none" stroke="#69a745" stroke-width="1.265" stroke-linejoin="round"/>
<path d="M704.6 210.2C706.0 208.1 708.3 204.7 710.8 204.0C713.3 203.4 716.7 205.5 719.4 206.5C722.1 207.5 724.1 209.0 726.8 210.2C729.5 211.4 733.1 212.8 735.4 213.9C737.7 214.9 738.8 215.7 740.4 216.5C742.1 217.3 743.2 217.8 745.3 218.8C747.3 219.8 750.8 220.7 752.7 222.5C754.5 224.4 755.9 227.6 756.4 229.9C756.8 232.2 755.8 234.2 755.6 236.3C755.4 238.3 755.6 240.3 755.1 242.2C754.6 244.1 753.4 246.0 752.5 247.8C751.7 249.7 751.0 251.6 750.2 253.3C749.4 255.1 748.4 256.7 747.6 258.3C746.7 260.0 746.0 261.3 745.3 263.2C744.6 265.0 743.9 267.3 743.3 269.4C742.7 271.4 742.1 273.4 741.6 275.5C741.1 277.5 740.8 279.7 740.4 281.7C740.0 283.8 739.9 285.8 739.1 287.8C738.4 289.7 737.0 291.6 736.0 293.5C735.0 295.3 734.3 297.4 733.0 298.9C731.7 300.4 729.9 301.2 728.2 302.4C726.6 303.6 724.9 305.4 723.1 306.3C721.3 307.1 719.4 307.3 717.6 307.7C715.7 308.1 714.2 309.2 712.0 308.7C709.9 308.3 706.2 306.6 704.6 305.0C703.0 303.5 703.2 301.3 702.4 299.5C701.6 297.6 700.5 295.9 700.0 293.9C699.4 292.0 699.2 290.0 698.8 288.0C698.5 285.9 698.1 283.8 697.7 281.7C697.4 279.6 697.0 277.6 696.9 275.5C696.7 273.4 696.9 271.2 696.9 269.2C696.8 267.1 696.6 265.1 696.5 263.1C696.4 261.0 696.5 259.0 696.4 256.9C696.4 254.9 696.2 252.8 696.3 250.8C696.4 248.9 696.8 247.3 697.0 245.5C697.2 243.6 697.3 241.8 697.4 239.9C697.6 238.0 697.7 235.9 697.9 234.1C698.1 232.2 698.2 230.6 698.7 228.7C699.2 226.8 700.1 224.7 700.8 222.6C701.4 220.6 702.1 218.6 702.8 216.6C703.4 214.5 703.3 212.3 704.6 210.2Z" fill="none" stroke="#86b54a" stroke-width="1.265" stroke-linejoin="round"/>
<path d="M707.1 226.2C708.6 224.6 711.6 223.2 714.5 222.5C717.4 221.8 721.3 221.7 724.3 221.9C727.4 222.1 730.3 222.6 733.0 223.7C735.6 224.9 738.5 226.6 740.3 228.7C742.2 230.7 743.4 233.4 744.0 236.1C744.7 238.7 744.4 242.4 744.0 244.7C743.7 246.9 742.7 248.0 742.1 249.7C741.5 251.3 741.5 252.3 740.3 254.5C739.2 256.8 736.7 261.0 735.4 263.2C734.1 265.3 733.4 266.0 732.4 267.5C731.4 268.9 730.8 270.0 729.3 271.8C727.7 273.5 725.0 275.9 723.1 277.9C721.3 280.0 719.8 282.7 718.2 284.1C716.5 285.5 715.1 286.8 713.3 286.6C711.4 286.3 708.7 284.7 707.1 282.9C705.5 281.0 704.2 277.7 703.4 275.5C702.6 273.2 702.7 271.5 702.4 269.4C702.1 267.3 701.6 265.2 701.6 263.2C701.5 261.1 701.8 259.1 701.8 257.0C701.9 254.9 701.9 252.8 702.0 250.8C702.0 248.7 701.9 246.7 702.2 244.7C702.5 242.6 703.1 240.6 703.7 238.5C704.2 236.4 704.9 234.3 705.5 232.2C706.0 230.2 705.6 227.8 707.1 226.2Z" fill="none" stroke="#69a745" stroke-width="1.265" stroke-linejoin="round"/>
<path d="M709.6 237.3C711.4 235.5 714.1 234.6 716.9 234.2C719.8 233.8 724.1 234.1 726.8 234.8C729.5 235.5 731.4 236.7 733.0 238.5C734.5 240.4 735.8 243.2 736.0 245.9C736.2 248.6 735.3 251.7 734.2 254.5C733.1 257.4 731.1 260.7 729.3 263.2C727.4 265.6 725.4 267.7 723.1 269.3C720.8 271.0 718.0 272.5 715.7 273.0C713.5 273.5 711.4 273.4 709.6 272.4C707.7 271.4 705.7 269.4 704.6 266.8C703.6 264.3 703.2 260.7 703.4 257.0C703.6 253.3 704.8 248.0 705.9 244.7C706.9 241.4 707.7 239.0 709.6 237.3Z" fill="none" stroke="#86b54a" stroke-width="1.265" stroke-linejoin="round"/>
<path d="M710.8 248.4C712.3 246.5 714.1 246.1 715.7 245.9C717.4 245.7 719.4 246.1 720.6 247.1C721.9 248.2 722.9 250.0 723.1 252.1C723.3 254.1 722.9 257.2 721.9 259.5C720.8 261.7 718.6 264.4 716.9 265.6C715.3 266.8 713.6 267.3 712.0 266.8C710.5 266.4 708.6 264.8 707.7 263.2C706.8 261.5 706.0 259.5 706.5 257.0C707.0 254.5 709.2 250.2 710.8 248.4Z" fill="none" stroke="#69a745" stroke-width="1.265" stroke-linejoin="round"/>
<path d="M777.3 181.4C778.9 181.6 784.6 182.4 787.1 182.6C789.7 182.8 790.7 182.6 792.5 182.7C794.3 182.7 796.2 182.8 798.0 182.8C799.8 182.8 801.7 183.5 803.2 182.6C804.6 181.7 804.8 178.1 806.8 177.2C808.9 176.2 813.6 176.2 815.5 176.9C817.3 177.7 816.9 180.4 817.9 181.9C819.0 183.3 820.0 184.6 821.6 185.6C823.3 186.5 825.5 187.3 827.8 187.4C830.0 187.5 833.0 186.6 835.2 186.3C837.4 186.0 839.1 186.0 840.9 185.9C842.8 185.7 844.3 185.3 846.3 185.6C848.2 185.8 850.4 186.4 852.4 187.4C854.5 188.4 856.9 190.2 858.6 191.7C860.2 193.3 861.4 194.6 862.3 196.7C863.1 198.7 863.7 201.6 863.5 204.0C863.3 206.5 862.3 209.3 861.0 211.4C859.8 213.6 858.0 215.4 856.1 217.0C854.3 218.5 851.8 219.7 850.0 220.7C848.1 221.6 846.9 222.1 845.2 222.8C843.6 223.5 842.4 224.0 840.1 225.0C837.8 226.0 833.7 227.0 831.5 228.7C829.2 230.3 828.4 233.0 826.6 234.8C824.7 236.7 822.7 238.1 820.4 239.8C818.1 241.4 815.7 243.3 813.0 244.7C810.3 246.0 807.1 246.9 804.4 247.8C801.7 248.6 799.3 248.7 797.0 249.6C794.7 250.5 792.7 252.7 790.8 253.3C789.0 253.9 787.6 253.7 785.9 253.3C784.3 252.9 782.4 251.9 781.0 250.8C779.5 249.8 777.9 247.8 777.3 247.1" fill="none" stroke="#4a5ea6" stroke-width="1.4375" stroke-linejoin="round"/>
<path d="M784.7 213.9C785.5 211.5 786.7 207.4 788.4 205.3C790.0 203.1 792.1 201.7 794.5 201.1C797.0 200.5 800.3 201.3 803.2 201.6C806.0 201.9 809.1 202.0 811.8 202.8C814.4 203.6 816.9 205.1 819.2 206.5C821.4 207.9 824.1 209.8 825.3 211.4C826.6 213.1 827.0 214.5 826.6 216.4C826.1 218.2 824.7 220.7 822.9 222.5C821.0 224.4 818.1 226.0 815.5 227.4C812.8 228.9 809.7 229.7 806.8 231.1C804.0 232.6 800.9 234.8 798.2 236.1C795.6 237.3 793.1 238.1 790.8 238.5C788.6 238.9 786.2 239.3 784.7 238.5C783.2 237.7 782.1 235.9 781.7 233.6C781.3 231.3 781.9 227.3 782.2 225.0C782.5 222.6 783.2 221.5 783.6 219.6C784.0 217.8 783.9 216.3 784.7 213.9Z" fill="none" stroke="#4a5ea6" stroke-width="1.4375" stroke-linejoin="round"/>
<path d="M842.6 197.3C844.3 196.9 847.3 198.0 848.7 199.1C850.2 200.2 851.2 202.4 851.2 204.0C851.2 205.7 850.2 207.9 848.7 209.0C847.3 210.0 844.3 210.4 842.6 210.2C840.8 210.0 839.0 209.2 838.3 207.7C837.5 206.3 837.5 203.3 838.3 201.6C839.0 199.8 840.8 197.7 842.6 197.3Z" fill="none" stroke="#4a5ea6" stroke-width="1.38" stroke-linejoin="round"/>
<path d="M835.8 166.1L838.9 162.9L842.6 166.1" fill="none" stroke="#4a5ea6" stroke-width="1.15" stroke-linejoin="round" opacity="0.8"/>
<path d="M872.1 195.4C871.8 196.2 870.1 198.9 870.3 200.3C870.5 201.8 872.8 203.4 873.3 204.0" fill="none" stroke="#4a5ea6" stroke-width="1.15" stroke-linejoin="round" opacity="0.8"/>
<path d="M774.2 185.6L774.2 194.2" fill="none" stroke="#6a7ab8" stroke-width="2.3" stroke-linejoin="round"/>
<path d="M774.2 209.0L774.2 238.5" fill="none" stroke="#39458a" stroke-width="2.07" stroke-linejoin="round"/>
<path d="M870.6 196.8C871.4 195.5 873.0 194.4 874.1 193.1C875.3 191.8 876.2 190.4 877.5 189.2C878.9 188.0 880.8 187.0 882.3 186.0C883.8 185.0 885.6 184.3 886.7 183.1C887.8 181.8 888.1 180.1 888.8 178.6C889.6 177.1 890.3 175.2 891.3 173.9C892.3 172.5 893.8 171.6 895.1 170.5C896.3 169.4 896.8 168.0 898.9 167.2C901.1 166.4 905.7 165.7 908.1 165.6C910.6 165.6 911.8 166.5 913.6 167.0C915.4 167.5 917.2 168.0 918.8 168.7C920.5 169.4 922.1 170.4 923.6 171.3C925.1 172.2 926.4 172.4 928.0 173.9C929.6 175.3 932.5 177.7 933.4 180.0C934.3 182.3 934.5 185.5 933.4 187.7C932.2 189.8 928.9 191.5 926.5 193.0C924.1 194.5 921.4 195.4 918.8 196.8C916.3 198.2 913.7 201.0 911.2 201.4C908.6 201.8 906.3 200.0 903.5 199.3C900.7 198.5 897.4 197.0 894.4 196.8C891.3 196.7 887.7 197.3 885.2 198.4C882.6 199.4 881.1 202.1 879.1 203.0C877.0 203.8 874.5 204.1 872.9 203.7C871.4 203.4 870.3 202.0 869.9 200.8C869.5 199.7 869.9 198.1 870.6 196.8Z" fill="none" stroke="#9a66a8" stroke-width="1.38" stroke-linejoin="round"/>
<path d="M950.2 166.2C951.1 164.2 953.4 162.1 955.5 161.0C957.7 160.0 960.6 159.6 963.2 160.1C965.7 160.6 969.0 162.2 970.8 163.9C972.6 165.7 973.9 168.4 973.9 170.8C973.9 173.3 972.6 176.7 970.8 178.5C969.0 180.3 965.7 181.4 963.2 181.5C960.6 181.7 957.7 180.8 955.5 179.4C953.4 178.0 951.1 175.3 950.2 173.1C949.3 170.9 949.3 168.3 950.2 166.2Z" fill="none" stroke="#9a66a8" stroke-width="1.38" stroke-linejoin="round"/>
<path d="M1085.5 60.7L1092.6 60.7" fill="none" stroke="#333333" stroke-width="1.38" stroke-linejoin="round"/>
<path d="M1085.5 60.7C1085.8 62.2 1086.9 67.4 1087.1 69.9C1087.3 72.3 1086.9 73.6 1086.8 75.4C1086.6 77.1 1086.6 78.7 1086.3 80.6C1086.0 82.5 1085.4 84.7 1084.9 86.7C1084.4 88.8 1083.7 90.9 1083.4 92.8C1083.1 94.7 1083.2 96.4 1083.1 98.1C1082.9 99.8 1082.8 101.2 1082.7 102.9C1082.6 104.5 1082.7 106.4 1082.5 108.1C1082.3 109.8 1081.7 111.4 1081.4 113.1C1081.0 114.8 1080.7 116.5 1080.4 118.2C1080.1 119.9 1079.8 121.5 1079.4 123.4C1079.1 125.3 1078.7 127.4 1078.4 129.5C1078.0 131.5 1077.8 133.6 1077.5 135.7C1077.2 137.7 1076.8 139.9 1076.7 141.8C1076.6 143.6 1076.8 145.0 1077.0 146.7C1077.1 148.4 1077.2 150.3 1077.4 152.0C1077.5 153.7 1077.4 155.3 1077.9 157.1C1078.4 158.8 1079.4 160.7 1080.1 162.5C1080.9 164.3 1081.2 166.5 1082.5 167.8C1083.7 169.0 1086.0 169.3 1087.7 170.0C1089.3 170.8 1091.8 172.0 1092.6 172.4" fill="none" stroke="#333333" stroke-width="1.4949999999999999" stroke-linejoin="round"/>
<path d="M1092.0 98.9C1091.4 101.0 1089.7 106.6 1088.6 111.2C1087.5 115.8 1086.5 121.4 1085.5 126.5C1084.6 131.6 1083.0 136.7 1082.8 141.8C1082.5 146.9 1083.0 153.2 1084.0 157.1C1085.0 160.9 1087.2 163.0 1088.6 164.7C1090.0 166.4 1091.9 166.8 1092.6 167.2" fill="none" stroke="#333333" stroke-width="1.4949999999999999" stroke-linejoin="round"/>
<path d="M1092.6 131.1C1091.9 132.1 1089.5 135.1 1088.6 137.2C1087.7 139.2 1087.1 141.0 1087.1 143.3C1087.1 145.6 1087.7 148.7 1088.6 150.9C1089.5 153.2 1091.9 156.0 1092.6 157.1" fill="none" stroke="#333333" stroke-width="1.38" stroke-linejoin="round"/>
</g>
<g id="C1c">
<path d="M225.3 693.3h1.5M244.1 679.1h1.5M231.5 703.6h1.5M251.1 675.5h1.5M231.5 692.7h1.5M220.3 706.6h1.5M222.1 685.8h1.5M253.7 693.4h1.5M204.9 680.4h1.5M219.7 670.1h1.5M228.2 697.4h1.5M214.4 701.9h1.5M252.5 690.2h1.5M233.8 672.7h1.5M186.3 707.2h1.5M203.6 676.5h1.5M250.1 698.0h1.5M191.4 680.9h1.5M200.4 678.9h1.5M182.5 689.0h1.5M205.1 683.8h1.5M196.1 672.4h1.5M184.5 702.9h1.5M238.8 690.4h1.5M229.1 806.0h1.5M228.9 812.7h1.5M226.9 811.0h1.5M231.7 807.7h1.5M246.6 818.3h1.5M240.6 814.3h1.5M242.8 831.4h1.5M235.2 802.8h1.5" stroke="#7a9a55" stroke-width="1.5" fill="none" opacity="0.75"/>
<path d="M286.7 686.4h1.5M312.2 679.3h1.5M312.9 683.5h1.5M284.9 681.6h1.5M305.8 678.2h1.5M277.0 685.5h1.5M320.0 686.1h1.5M278.9 673.4h1.5M285.6 687.9h1.5M291.4 684.6h1.5M305.1 685.3h1.5M275.5 698.0h1.5M304.9 690.1h1.5M325.0 702.4h1.5M295.8 678.2h1.5M281.0 670.8h1.5M270.0 693.8h1.5M310.1 669.0h1.5M263.4 683.3h1.5M282.9 671.4h1.5M311.5 690.2h1.5M305.9 700.7h1.5M295.7 681.5h1.5M314.3 669.5h1.5M264.2 698.8h1.5M315.1 679.0h1.5M314.8 685.6h1.5M318.1 664.1h1.5M311.6 690.8h1.5M281.3 701.0h1.5M307.2 660.9h1.5M312.2 683.1h1.5M294.3 677.8h1.5M324.9 692.8h1.5M295.1 696.9h1.5M294.7 687.5h1.5M324.1 689.0h1.5M317.6 689.0h1.5M299.1 688.2h1.5M319.3 670.7h1.5M276.8 689.3h1.5M310.5 687.6h1.5M329.2 690.2h1.5M298.2 692.0h1.5M336.2 685.7h1.5M295.5 691.6h1.5M307.3 676.6h1.5M323.7 686.9h1.5M331.9 683.5h1.5M273.2 661.3h1.5M288.6 704.1h1.5M327.1 687.3h1.5M318.0 671.1h1.5M315.8 673.5h1.5M316.9 681.6h1.5M298.9 679.6h1.5M270.3 694.3h1.5M301.8 704.0h1.5M338.2 675.7h1.5M313.4 702.7h1.5M311.7 785.2h1.5M330.4 781.1h1.5M333.2 773.5h1.5M313.1 790.4h1.5M331.7 785.5h1.5M325.3 768.6h1.5M336.2 783.3h1.5M319.4 774.6h1.5M338.9 759.3h1.5M311.2 793.0h1.5M308.4 782.3h1.5M318.5 793.8h1.5M314.0 776.3h1.5M294.9 795.1h1.5M325.9 785.3h1.5M315.7 804.8h1.5M316.4 803.2h1.5M328.1 765.1h1.5M300.2 792.9h1.5M325.5 793.8h1.5M320.8 782.4h1.5M337.0 772.6h1.5M314.1 776.0h1.5M334.1 753.2h1.5M306.0 764.5h1.5M315.4 796.7h1.5M318.2 787.1h1.5M343.5 783.9h1.5M327.9 771.8h1.5M324.0 770.5h1.5M314.4 785.3h1.5M337.2 761.6h1.5M311.9 779.4h1.5M324.7 785.6h1.5M327.2 775.0h1.5M303.2 776.6h1.5M319.8 767.6h1.5M330.7 772.3h1.5M313.5 784.8h1.5M340.3 801.1h1.5M291.5 804.6h1.5M275.3 828.3h1.5M281.2 810.6h1.5M278.9 811.4h1.5M287.7 810.9h1.5M287.8 802.2h1.5M286.1 820.4h1.5M279.6 830.4h1.5" stroke="#4b58a0" stroke-width="1.5" fill="none" opacity="0.8"/>
<path d="M442.1 706.4h1.5M383.6 738.1h1.5M381.4 716.7h1.5M420.1 750.5h1.5M414.1 758.5h1.5M400.3 724.3h1.5M386.0 718.5h1.5M373.3 764.9h1.5M427.1 719.4h1.5M400.8 705.7h1.5M418.4 719.8h1.5M393.2 720.4h1.5M350.9 720.8h1.5M446.6 699.8h1.5M369.2 725.2h1.5M368.3 707.5h1.5M361.2 709.4h1.5M397.8 671.9h1.5M352.5 701.4h1.5M398.1 704.9h1.5M409.9 704.9h1.5M431.2 679.9h1.5M386.7 703.6h1.5M389.0 762.9h1.5M423.5 710.3h1.5M413.2 765.2h1.5M418.3 716.5h1.5M410.0 735.5h1.5M400.8 770.3h1.5M421.0 729.6h1.5M348.4 724.0h1.5M351.2 736.8h1.5M380.2 749.0h1.5M398.0 728.1h1.5M409.1 747.9h1.5M388.2 716.5h1.5M380.8 710.8h1.5M410.4 689.2h1.5M416.7 697.5h1.5M389.1 722.5h1.5M371.2 742.7h1.5M398.8 751.0h1.5M417.1 714.2h1.5M421.8 738.9h1.5M403.4 732.1h1.5M434.4 707.1h1.5M438.8 727.1h1.5M416.9 750.0h1.5M355.3 759.9h1.5M386.9 730.4h1.5M352.7 760.7h1.5M408.9 688.8h1.5M431.2 721.5h1.5M382.6 688.2h1.5M420.4 709.3h1.5M368.0 755.9h1.5M420.0 739.1h1.5M385.0 742.1h1.5M418.4 757.3h1.5M396.0 736.3h1.5M423.0 669.2h1.5M408.0 762.8h1.5M419.6 733.5h1.5M423.5 754.0h1.5M371.1 698.4h1.5M429.9 701.0h1.5M402.9 741.7h1.5M436.8 687.6h1.5M351.9 688.3h1.5M411.8 703.5h1.5M413.2 749.3h1.5M403.9 727.5h1.5M444.0 689.9h1.5M419.7 731.9h1.5M405.2 701.7h1.5M365.7 788.5h1.5M436.7 725.6h1.5M436.7 697.4h1.5M419.5 712.7h1.5M422.8 743.4h1.5M418.9 724.4h1.5M407.9 687.4h1.5M403.3 715.0h1.5M392.3 729.9h1.5M409.1 695.6h1.5M399.5 718.3h1.5M397.3 713.7h1.5M383.1 753.7h1.5M401.6 727.2h1.5M387.2 721.1h1.5M425.8 702.0h1.5M417.8 719.5h1.5M369.0 741.5h1.5M396.9 705.6h1.5M367.8 733.4h1.5M394.4 720.6h1.5M359.0 741.5h1.5M372.6 684.6h1.5M390.8 706.8h1.5M371.9 723.6h1.5M395.9 724.2h1.5M424.1 710.8h1.5M413.5 726.7h1.5M386.7 745.9h1.5M416.3 705.7h1.5M422.4 714.9h1.5M355.8 783.4h1.5M447.4 677.2h1.5M409.1 732.6h1.5M390.1 709.0h1.5M411.2 732.8h1.5M387.8 748.4h1.5M350.4 673.5h1.5M427.7 761.1h1.5M346.7 709.1h1.5M435.4 751.7h1.5M404.7 704.1h1.5M362.4 704.5h1.5M401.9 688.6h1.5M428.7 717.5h1.5" stroke="#9a62a8" stroke-width="1.5" fill="none" opacity="0.75"/>
<path d="M322.5 847.5h1.5M406.0 651.0h1.5" stroke="#666" stroke-width="1.5" fill="none" opacity="0.7"/>
<path d="M164.2 758.5C164.7 753.4 164.8 749.4 166.4 745.8C168.0 742.1 171.0 740.0 173.7 736.6C176.4 733.3 179.2 729.0 182.8 725.7C186.5 722.4 191.3 718.7 195.6 716.6C199.8 714.5 204.7 714.2 208.4 712.9C212.0 711.7 213.5 709.9 217.5 709.3C221.4 708.7 226.9 709.2 232.1 709.3C237.2 709.4 244.5 708.7 248.5 709.7C252.4 710.6 253.9 712.7 255.8 714.8C257.6 716.8 258.7 717.5 259.4 722.1C260.1 726.6 259.0 737.6 259.8 742.1C260.5 746.7 263.3 746.4 264.0 749.4C264.7 752.4 264.7 757.3 264.0 760.4C263.2 763.4 261.4 765.8 259.4 767.6C257.4 769.5 254.5 769.5 252.1 771.3C249.7 773.1 246.3 775.2 244.8 778.6C243.3 781.9 244.5 787.7 243.0 791.3C241.5 795.0 236.6 797.7 235.7 800.5C234.8 803.2 238.7 805.0 237.5 807.8C236.3 810.5 230.5 813.5 228.4 816.9C226.3 820.2 226.3 823.9 224.8 827.8C223.2 831.8 221.7 836.6 219.3 840.6C216.9 844.5 213.5 848.5 210.2 851.5C206.8 854.6 203.2 856.8 199.2 858.8C195.3 860.8 190.4 863.1 186.5 863.4C182.5 863.7 178.4 862.9 175.5 860.6C172.6 858.4 170.8 854.6 169.1 849.7C167.5 844.8 166.3 839.1 165.5 831.5C164.7 823.9 164.9 813.2 164.6 804.1C164.3 795.0 163.7 784.4 163.7 776.8C163.6 769.2 163.8 763.7 164.2 758.5Z" fill="#fbfefa" stroke="none" stroke-width="0.0" stroke-linejoin="round"/>
<path d="M164.2 758.5C164.4 756.4 164.7 754.1 165.1 752.0C165.4 749.8 165.6 747.5 166.4 745.8C167.2 744.0 168.7 743.0 169.9 741.4C171.2 739.9 172.3 738.3 173.7 736.6C175.1 735.0 176.7 733.1 178.3 731.3C179.8 729.5 181.4 727.1 182.8 725.7C184.3 724.3 185.4 723.7 186.8 722.7C188.3 721.7 190.1 720.7 191.5 719.6C193.0 718.6 193.8 717.4 195.6 716.6C197.4 715.8 200.1 715.6 202.2 715.0C204.4 714.4 205.8 713.9 208.4 712.9C210.9 712.0 214.7 710.0 217.5 709.3C220.2 708.6 222.3 709.0 224.7 709.0C227.1 709.0 229.9 709.3 232.1 709.3C234.2 709.3 235.9 709.1 237.7 709.2C239.5 709.3 240.9 709.6 242.7 709.7C244.5 709.8 246.3 708.8 248.5 709.7C250.6 710.5 253.9 712.7 255.8 714.8C257.6 716.8 258.8 720.0 259.4 722.1C260.1 724.1 259.6 725.6 259.7 727.3C259.8 728.9 259.9 730.3 259.9 731.9C259.8 733.5 259.4 735.2 259.4 736.9C259.4 738.6 259.0 740.0 259.8 742.1C260.5 744.2 263.2 747.3 264.0 749.4C264.7 751.5 264.3 752.8 264.3 754.6C264.3 756.5 264.8 758.2 264.0 760.4C263.2 762.5 261.4 765.8 259.4 767.6C257.4 769.5 254.0 770.1 252.1 771.3C250.3 772.5 249.5 773.4 248.3 774.7C247.0 775.9 245.6 776.9 244.8 778.6C244.1 780.3 243.9 782.6 243.6 784.7C243.3 786.8 243.7 789.5 243.0 791.3C242.3 793.2 240.5 794.2 239.3 795.7C238.0 797.2 236.0 798.5 235.7 800.5C235.4 802.5 238.0 805.7 237.5 807.8C237.1 809.8 234.4 811.1 232.9 812.6C231.3 814.1 229.5 815.2 228.4 816.9C227.3 818.5 227.0 820.7 226.4 822.5C225.8 824.4 225.5 825.9 224.8 827.8C224.1 829.8 223.1 832.1 222.2 834.2C221.3 836.4 220.5 838.6 219.3 840.6C218.1 842.6 216.3 844.4 214.8 846.2C213.3 848.0 211.8 850.1 210.2 851.5C208.5 853.0 206.6 853.8 204.8 855.0C202.9 856.2 201.2 857.8 199.2 858.8C197.2 859.8 194.9 860.2 192.7 860.9C190.6 861.7 188.4 863.2 186.5 863.4C184.5 863.6 182.8 862.8 180.9 862.3C179.1 861.8 177.0 861.9 175.5 860.6C174.1 859.4 173.4 856.7 172.3 854.9C171.2 853.1 169.9 851.6 169.1 849.7C168.4 847.9 168.3 845.8 167.9 843.8C167.5 841.8 167.1 839.7 166.7 837.7C166.3 835.6 165.8 833.5 165.5 831.5C165.2 829.5 165.1 827.6 165.1 825.7C165.0 823.9 165.3 822.0 165.2 820.3C165.2 818.5 164.9 816.8 164.8 815.0C164.7 813.2 164.6 811.1 164.6 809.3C164.5 807.5 164.7 805.8 164.6 804.1C164.5 802.4 164.2 800.7 164.1 798.9C164.1 797.1 164.3 795.3 164.3 793.4C164.3 791.6 164.1 789.8 164.0 788.0C164.0 786.1 164.1 784.2 164.1 782.3C164.0 780.4 163.7 778.7 163.7 776.8C163.6 774.8 163.8 772.7 163.9 770.7C163.9 768.6 163.8 766.6 163.9 764.5C163.9 762.5 164.0 760.6 164.2 758.5Z" fill="none" stroke="#66ab42" stroke-width="1.3224999999999998" stroke-linejoin="round"/>
<path d="M169.1 758.5C169.5 756.7 170.2 755.4 170.8 753.8C171.3 752.1 172.0 750.3 172.5 748.6C173.0 747.0 172.9 745.4 173.7 743.9C174.5 742.5 175.9 741.3 177.1 739.9C178.3 738.4 179.6 736.8 180.9 735.4C182.2 733.9 183.2 732.4 184.6 731.2C186.1 729.9 188.0 729.0 189.7 727.9C191.4 726.9 193.0 726.1 194.6 725.1C196.2 724.1 197.3 722.7 199.2 722.1C201.2 721.4 203.8 721.7 206.3 721.4C208.7 721.1 211.5 720.5 213.8 720.2C216.1 720.0 217.9 720.0 219.9 720.0C222.0 720.0 224.2 720.4 226.2 720.4C228.2 720.4 229.8 720.2 232.1 720.2C234.3 720.3 237.1 720.6 239.5 720.8C241.9 720.9 244.5 720.0 246.6 721.1C248.7 722.3 251.0 725.6 252.1 727.5C253.2 729.5 253.0 730.9 253.3 732.7C253.6 734.5 254.2 736.6 253.9 738.5C253.6 740.4 252.4 742.2 251.5 744.0C250.6 745.8 249.6 747.7 248.5 749.4C247.3 751.1 245.9 752.5 244.7 754.0C243.5 755.6 242.4 756.3 241.2 758.5C240.0 760.8 238.0 765.2 237.5 767.6C237.1 770.1 238.0 771.4 238.3 773.2C238.6 775.0 239.8 777.1 239.4 778.6C238.9 780.1 237.0 781.0 235.8 782.2C234.6 783.5 233.0 783.8 232.1 785.9C231.1 788.0 231.2 792.7 230.2 795.0C229.3 797.3 227.6 798.0 226.3 799.5C225.1 801.0 223.8 802.4 222.9 804.1C222.0 805.8 221.6 807.9 221.0 809.7C220.4 811.6 219.8 813.3 219.3 815.1C218.7 816.8 218.3 818.5 217.7 820.1C217.1 821.7 216.3 823.0 215.7 824.6C215.0 826.2 214.6 828.1 213.8 829.6C213.0 831.2 211.9 832.4 210.9 833.8C209.9 835.1 209.1 836.5 208.0 838.0C207.0 839.4 206.1 841.0 204.7 842.4C203.3 843.9 201.3 845.2 199.5 846.7C197.7 848.2 195.6 850.5 193.8 851.5C191.9 852.5 190.3 852.3 188.5 852.8C186.6 853.3 184.4 854.6 182.8 854.3C181.2 854.0 180.1 852.1 178.8 851.0C177.4 850.0 175.6 849.3 174.6 847.9C173.7 846.4 173.5 844.2 173.0 842.4C172.5 840.5 172.3 838.7 171.8 836.8C171.3 835.0 170.4 833.2 170.1 831.5C169.7 829.7 169.8 828.0 169.6 826.2C169.5 824.3 169.2 822.3 169.1 820.4C169.0 818.6 169.1 816.8 169.0 815.1C168.9 813.3 168.5 811.6 168.4 809.7C168.3 807.9 168.3 806.0 168.2 804.1C168.2 802.2 168.2 800.3 168.2 798.4C168.2 796.5 168.2 794.7 168.1 792.9C168.1 791.1 168.1 789.2 168.1 787.5C168.1 785.7 168.1 784.1 168.1 782.3C168.1 780.5 168.1 778.7 168.2 776.8C168.3 774.8 168.6 772.6 168.7 770.6C168.8 768.5 168.7 766.6 168.8 764.6C168.9 762.6 168.8 760.3 169.1 758.5Z" fill="none" stroke="#66ab42" stroke-width="1.265" stroke-linejoin="round"/>
<path d="M172.8 760.4C173.3 758.4 174.2 756.4 175.0 754.2C175.8 752.1 176.3 749.3 177.4 747.6C178.4 745.8 180.0 745.0 181.2 743.8C182.5 742.6 183.7 741.6 184.9 740.4C186.1 739.2 187.0 737.6 188.3 736.6C189.6 735.7 191.3 735.3 192.9 734.5C194.5 733.7 196.2 732.5 197.9 731.7C199.5 730.8 201.1 729.8 202.9 729.4C204.6 728.9 206.5 729.0 208.3 728.8C210.1 728.6 211.8 728.5 213.6 728.2C215.4 728.0 217.4 727.6 219.3 727.5C221.2 727.5 223.1 727.7 225.0 727.8C226.8 728.0 228.6 728.1 230.4 728.2C232.2 728.3 233.9 727.9 235.7 728.4C237.5 729.0 239.5 730.4 241.4 731.4C243.2 732.5 245.5 732.7 246.6 734.8C247.8 736.9 248.8 741.7 248.5 743.9C248.2 746.2 246.0 747.0 244.7 748.5C243.5 750.0 242.6 751.6 241.2 753.1C239.8 754.5 237.9 755.8 236.4 757.0C234.9 758.2 233.2 758.9 232.1 760.4C230.9 761.8 230.3 763.8 229.4 765.6C228.5 767.4 227.4 769.4 226.6 771.3C225.8 773.1 225.4 774.9 224.8 776.7C224.2 778.5 223.9 779.8 222.9 782.2C222.0 784.7 219.9 788.3 219.3 791.3C218.7 794.4 219.8 797.9 219.3 800.5C218.8 803.0 217.3 804.5 216.4 806.6C215.5 808.8 214.7 811.1 213.8 813.2C212.9 815.3 212.0 817.2 211.1 819.4C210.2 821.5 209.3 824.2 208.4 826.0C207.4 827.8 206.4 828.8 205.4 830.3C204.3 831.7 203.1 833.3 202.0 834.7C201.0 836.1 200.7 837.5 199.2 838.8C197.8 840.0 195.3 841.0 193.5 842.2C191.7 843.4 190.7 845.7 188.3 846.1C185.9 846.4 181.0 845.6 179.2 844.2C177.3 842.8 177.8 839.8 177.1 837.7C176.3 835.6 175.1 833.4 174.6 831.5C174.1 829.5 174.3 827.9 174.2 826.0C174.1 824.2 174.0 822.4 173.8 820.5C173.7 818.7 173.7 816.8 173.5 815.0C173.4 813.3 173.0 811.6 172.9 809.8C172.8 808.0 172.9 806.0 172.8 804.1C172.7 802.3 172.6 800.4 172.5 798.7C172.4 797.1 172.4 795.8 172.4 794.1C172.3 792.4 172.4 790.5 172.3 788.8C172.3 787.0 172.1 785.2 172.1 783.5C172.0 781.8 171.8 780.4 171.9 778.6C171.9 776.7 172.2 774.5 172.3 772.4C172.3 770.4 172.1 768.2 172.2 766.2C172.3 764.2 172.3 762.3 172.8 760.4Z" fill="none" stroke="#86b84a" stroke-width="1.265" stroke-linejoin="round"/>
<path d="M177.4 758.5C177.9 756.8 179.7 755.0 180.7 753.4C181.6 751.9 182.2 750.7 183.1 749.1C184.1 747.5 184.9 745.4 186.5 743.9C188.1 742.4 190.5 741.3 192.7 740.1C194.8 738.8 196.9 737.5 199.2 736.6C201.6 735.8 204.2 735.6 206.6 735.2C209.1 734.7 211.4 734.1 213.8 733.9C216.3 733.7 218.9 734.1 221.3 734.2C223.8 734.4 226.6 733.5 228.4 734.8C230.2 736.1 231.9 740.0 232.1 742.1C232.3 744.2 230.5 745.7 229.6 747.5C228.7 749.3 227.7 751.2 226.6 753.1C225.5 754.9 224.2 757.0 223.0 758.8C221.8 760.6 220.3 762.2 219.3 764.0C218.2 765.8 217.6 767.9 216.7 769.7C215.8 771.5 214.6 773.2 213.8 774.9C213.1 776.7 212.7 778.3 212.1 780.1C211.5 782.0 210.5 783.8 210.2 785.9C209.9 787.9 210.4 790.2 210.4 792.3C210.4 794.4 210.4 796.8 210.2 798.6C209.9 800.5 209.2 801.7 208.8 803.3C208.5 804.9 208.3 806.8 208.0 808.4C207.6 810.1 207.0 811.6 206.5 813.2C206.0 814.9 205.5 816.6 205.0 818.3C204.4 819.9 203.8 821.4 203.2 823.0C202.5 824.6 202.1 826.2 201.1 827.8C200.0 829.4 198.1 830.9 196.6 832.4C195.1 834.0 194.2 836.2 191.9 836.9C189.6 837.7 184.7 837.7 182.8 836.9C181.0 836.2 181.5 833.9 180.9 832.3C180.2 830.8 179.6 829.0 179.1 827.4C178.5 825.7 177.6 824.1 177.4 822.3C177.1 820.6 177.5 818.8 177.4 817.0C177.3 815.2 176.9 813.5 176.8 811.6C176.7 809.7 177.0 807.6 176.9 805.7C176.8 803.9 176.4 802.3 176.4 800.5C176.3 798.7 176.4 796.7 176.4 795.0C176.4 793.3 176.3 791.9 176.3 790.2C176.3 788.6 176.6 786.7 176.7 785.0C176.8 783.3 176.8 781.7 176.8 780.0C176.8 778.4 176.9 776.7 177.0 774.9C177.1 773.2 177.3 771.2 177.4 769.4C177.4 767.5 177.2 765.9 177.2 764.0C177.2 762.2 176.8 760.3 177.4 758.5Z" fill="none" stroke="#66ab42" stroke-width="1.265" stroke-linejoin="round"/>
<path d="M180.1 758.5C180.8 756.8 182.6 755.6 184.0 754.1C185.4 752.6 186.5 750.8 188.3 749.4C190.1 748.0 192.6 747.0 194.8 745.7C196.9 744.5 199.0 742.8 201.1 742.1C203.1 741.4 205.1 741.7 207.3 741.4C209.4 741.1 211.5 739.9 213.8 740.3C216.1 740.7 220.2 742.4 221.1 743.9C222.1 745.5 220.1 747.6 219.5 749.4C218.9 751.2 218.4 752.9 217.5 754.9C216.5 756.8 215.0 759.0 213.8 761.1C212.6 763.2 211.3 765.5 210.2 767.6C209.1 769.8 208.1 771.8 207.1 773.9C206.2 776.1 205.4 778.5 204.7 780.4C204.0 782.4 203.5 783.8 202.9 785.6C202.3 787.4 201.2 789.4 201.1 791.3C200.9 793.3 201.8 795.4 202.1 797.6C202.4 799.7 203.1 802.0 202.9 804.1C202.7 806.2 201.5 808.1 200.9 810.2C200.3 812.3 199.9 814.8 199.2 816.9C198.6 818.9 197.7 820.7 196.8 822.5C195.9 824.3 195.5 826.6 193.8 827.8C192.0 829.0 188.0 830.4 186.5 829.6C184.9 828.9 185.2 825.5 184.4 823.3C183.7 821.2 182.5 818.9 181.9 816.9C181.4 814.9 181.3 813.2 181.2 811.3C181.0 809.4 181.1 807.5 181.0 805.7C180.9 803.9 181.0 802.2 180.8 800.4C180.7 798.6 180.2 796.9 180.1 795.0C179.9 793.1 179.9 791.1 179.9 789.1C179.8 787.1 179.8 785.2 179.9 783.1C179.9 781.0 180.1 778.8 180.1 776.8C180.1 774.7 180.1 772.7 180.1 770.7C180.0 768.7 180.0 766.6 180.0 764.6C180.0 762.6 179.4 760.3 180.1 758.5Z" fill="none" stroke="#86b84a" stroke-width="1.265" stroke-linejoin="round"/>
<path d="M183.7 760.4C184.3 758.9 186.3 758.0 187.6 756.8C189.0 755.6 190.3 754.1 191.9 753.1C193.6 752.0 195.7 751.2 197.5 750.3C199.3 749.4 200.8 748.0 202.9 747.6C205.0 747.1 209.3 746.6 210.2 747.6C211.1 748.5 208.8 751.4 208.2 753.2C207.6 755.1 207.4 756.6 206.5 758.5C205.7 760.5 204.3 762.8 203.1 764.9C201.9 767.0 200.3 769.2 199.2 771.3C198.1 773.4 197.4 775.4 196.5 777.5C195.6 779.6 194.1 782.1 193.8 784.1C193.4 786.0 194.1 787.6 194.4 789.4C194.7 791.3 195.1 793.1 195.6 795.0C196.1 796.9 196.9 799.0 197.5 801.1C198.1 803.2 199.2 805.8 199.2 807.8C199.3 809.8 198.2 811.2 197.6 813.1C197.0 814.9 197.1 817.2 195.6 818.7C194.0 820.2 190.1 823.3 188.3 822.3C186.5 821.4 185.4 815.8 184.6 813.2C183.9 810.7 184.0 808.9 183.9 806.9C183.7 804.9 183.9 803.2 183.7 801.2C183.6 799.2 182.5 797.1 182.8 795.0C183.2 792.9 184.9 790.8 185.8 788.7C186.7 786.6 188.2 784.2 188.3 782.2C188.4 780.2 186.8 778.5 186.2 776.7C185.6 774.8 185.0 773.1 184.6 771.3C184.3 769.4 184.3 767.4 184.2 765.6C184.0 763.8 183.2 761.8 183.7 760.4Z" fill="none" stroke="#66ab42" stroke-width="1.265" stroke-linejoin="round"/>
<path d="M188.3 796.8L188.3 803.2" fill="none" stroke="#4fa53a" stroke-width="2.07" stroke-linejoin="round"/>
<path d="M264.0 747.6L264.0 761.3" fill="none" stroke="#2f8f5a" stroke-width="1.8399999999999999" stroke-linejoin="round"/>
<path d="M259.4 712.9C261.5 710.8 264.6 708.7 266.7 707.5C268.8 706.2 270.5 706.0 272.3 705.4C274.1 704.8 275.7 704.1 277.6 703.8C279.6 703.5 281.7 703.8 283.8 703.7C285.9 703.6 288.0 703.4 290.0 703.2C292.0 703.1 294.0 703.6 295.9 702.9C297.8 702.3 298.9 700.0 301.3 699.3C303.8 698.6 307.7 697.8 310.5 698.7C313.2 699.6 315.6 703.6 317.8 704.7C319.9 705.9 321.5 705.3 323.3 705.6C325.1 705.9 326.9 705.3 328.7 706.6C330.5 707.8 332.8 710.7 334.2 712.9C335.5 715.2 336.9 717.5 336.9 720.2C336.9 723.0 335.4 727.4 334.2 729.4C333.0 731.3 331.1 730.9 329.6 731.9C328.1 732.8 326.7 734.2 325.1 734.8C323.4 735.5 321.5 735.5 319.7 735.8C317.9 736.1 316.1 736.4 314.1 736.6C312.1 736.9 309.7 736.9 307.6 737.0C305.5 737.2 303.2 737.2 301.3 737.6C299.5 737.9 297.4 738.0 296.8 739.4C296.2 740.7 296.3 744.1 297.7 745.8C299.1 747.4 303.8 747.3 305.0 749.4C306.2 751.5 305.6 755.8 305.0 758.5C304.4 761.3 303.2 764.1 301.3 765.8C299.5 767.5 296.5 768.6 294.1 768.6C291.6 768.6 288.3 767.5 286.8 765.8C285.2 764.1 286.2 759.9 284.9 758.5C283.7 757.2 281.3 757.0 279.5 757.6C277.6 758.2 276.1 761.4 274.0 762.2C271.9 762.9 268.2 763.1 266.7 762.2C265.2 761.3 265.5 758.8 264.9 756.7C264.3 754.6 264.3 751.8 263.1 749.4C261.8 747.0 258.9 744.2 257.6 742.1C256.3 740.0 256.2 738.4 255.4 736.6C254.7 734.8 253.3 732.9 253.0 731.2C252.7 729.4 253.6 727.8 253.8 726.0C253.9 724.2 253.0 722.4 253.9 720.2C254.9 718.1 257.3 715.1 259.4 712.9Z" fill="none" stroke="#4a5ea6" stroke-width="1.4375" stroke-linejoin="round"/>
<path d="M261.2 722.1C262.6 719.9 266.3 717.8 268.5 716.6C270.8 715.4 272.6 715.4 274.8 714.8C276.9 714.2 279.2 713.4 281.3 712.9C283.4 712.5 285.4 712.5 287.4 712.3C289.4 712.1 291.3 712.0 293.3 711.8C295.4 711.6 297.3 710.8 299.5 711.1C301.8 711.5 304.8 712.3 306.8 713.9C308.8 715.4 311.4 718.6 311.4 720.2C311.4 721.9 308.5 723.1 306.8 723.9C305.2 724.6 303.3 724.5 301.5 724.8C299.6 725.1 297.7 725.3 295.9 725.7C294.0 726.1 292.2 726.8 290.4 727.4C288.6 728.0 287.1 728.1 284.9 729.4C282.8 730.6 280.1 733.3 277.6 734.8C275.2 736.3 272.8 738.5 270.4 738.5C267.9 738.5 264.7 736.3 263.1 734.8C261.4 733.3 260.6 731.5 260.3 729.4C260.0 727.2 259.9 724.2 261.2 722.1Z" fill="none" stroke="#4a5ea6" stroke-width="1.4375" stroke-linejoin="round"/>
<path d="M312.3 758.5C313.1 756.1 315.3 755.5 317.8 754.9C320.2 754.3 324.6 754.0 326.9 754.9C329.2 755.8 331.0 758.2 331.4 760.4C331.9 762.5 331.0 765.7 329.6 767.6C328.2 769.6 325.2 771.0 323.2 772.2C321.3 773.4 319.4 775.4 317.8 774.9C316.1 774.5 314.1 772.2 313.2 769.5C312.3 766.7 311.5 761.0 312.3 758.5Z" fill="none" stroke="#4a5ea6" stroke-width="1.38" stroke-linejoin="round"/>
<path d="M259.4 782.2C260.2 780.1 261.7 776.6 263.1 774.9C264.4 773.3 266.0 773.2 267.5 772.3C269.0 771.4 270.5 769.9 272.2 769.5C273.9 769.1 275.9 769.8 277.7 769.9C279.5 770.1 281.3 769.6 283.1 770.4C284.9 771.2 286.6 773.2 288.5 774.6C290.3 776.0 292.6 776.7 294.1 778.6C295.5 780.5 297.0 783.4 297.3 785.9C297.6 788.3 297.3 791.3 295.9 793.2C294.4 795.0 290.5 795.8 288.6 796.8C286.6 797.9 285.7 798.6 284.1 799.6C282.6 800.5 281.2 801.9 279.5 802.3C277.8 802.7 275.8 802.2 274.0 802.2C272.2 802.2 270.7 802.6 268.5 802.3C266.4 802.0 263.1 802.0 261.2 800.5C259.4 798.9 258.1 795.3 257.6 793.2C257.1 791.0 258.0 789.5 258.3 787.7C258.6 785.8 258.6 784.4 259.4 782.2Z" fill="none" stroke="#4a5ea6" stroke-width="1.4375" stroke-linejoin="round"/>
<path d="M266.7 786.8C267.9 785.3 271.7 782.4 274.0 782.2C276.3 782.1 280.1 784.4 280.4 785.9C280.7 787.4 277.5 790.0 275.8 791.3C274.1 792.7 271.9 794.1 270.4 794.1C268.8 794.1 267.3 792.6 266.7 791.3C266.1 790.1 265.5 788.3 266.7 786.8Z" fill="none" stroke="#4a5ea6" stroke-width="1.38" stroke-linejoin="round"/>
<path d="M346.9 708.4L357.9 701.5L370.6 708.4L359.7 719.3Z" fill="none" stroke="#9a66a8" stroke-width="1.265" stroke-linejoin="round"/>
<rect x="356" y="615.6" width="9" height="2.6" rx="1.3" fill="#111"/>
</g>
<g id="C2c">
<path d="M728.6 701.7h1.5M760.3 687.1h1.5M715.8 681.2h1.5M708.2 680.4h1.5M711.0 700.5h1.5M769.3 707.7h1.5M726.5 696.2h1.5M748.4 693.0h1.5M723.7 863.7h1.5M750.9 834.5h1.5M723.5 833.8h1.5M767.9 834.3h1.5M751.3 868.8h1.5M721.8 845.4h1.5M743.9 866.7h1.5M729.4 840.3h1.5" stroke="#8a9a55" stroke-width="1.5" fill="none" opacity="0.7"/>
<path d="M830.1 732.0h1.5M813.0 694.1h1.5M824.9 728.9h1.5M822.6 692.2h1.5M819.8 711.9h1.5M843.7 693.7h1.5M808.9 716.6h1.5M832.3 748.4h1.5M838.3 690.4h1.5M809.0 764.8h1.5M833.2 718.5h1.5M837.8 735.7h1.5M814.9 707.6h1.5M848.8 718.7h1.5M833.1 734.2h1.5M809.5 766.6h1.5M824.5 721.9h1.5M824.3 729.5h1.5M822.7 719.3h1.5M842.3 749.8h1.5M844.2 694.5h1.5M822.2 757.8h1.5M829.7 727.6h1.5M825.4 759.6h1.5M820.8 717.5h1.5M850.3 684.0h1.5M820.7 782.9h1.5M829.4 733.2h1.5M790.1 733.6h1.5M809.6 714.9h1.5M813.7 731.3h1.5M823.7 748.1h1.5M784.2 723.4h1.5M843.7 728.3h1.5M857.4 705.6h1.5M849.3 729.9h1.5M804.3 693.3h1.5M832.1 706.7h1.5M793.5 727.4h1.5M831.3 758.8h1.5M822.8 724.0h1.5M827.2 748.3h1.5M830.0 741.0h1.5M809.9 715.6h1.5M822.5 744.9h1.5M786.2 739.2h1.5M836.4 702.7h1.5M821.5 705.4h1.5M835.6 756.5h1.5M829.8 722.8h1.5M820.7 753.0h1.5M832.5 735.5h1.5M831.3 728.2h1.5M844.5 735.7h1.5M801.5 733.3h1.5M826.3 736.9h1.5M854.8 702.6h1.5M816.8 698.6h1.5M818.3 755.1h1.5M817.8 757.7h1.5M831.5 720.9h1.5M832.8 713.6h1.5M837.9 723.5h1.5M793.5 719.4h1.5M840.5 716.0h1.5M787.0 760.6h1.5M830.2 742.6h1.5M839.3 736.1h1.5M800.5 756.0h1.5M823.4 715.6h1.5M839.5 743.9h1.5M847.5 704.0h1.5M837.4 690.2h1.5M846.9 702.1h1.5M814.1 746.7h1.5M835.2 706.6h1.5M843.3 760.3h1.5M801.6 737.4h1.5M832.7 729.9h1.5M833.3 747.0h1.5" stroke="#4b58a0" stroke-width="1.5" fill="none" opacity="0.8"/>
<path d="M928.4 744.3h1.5M935.1 730.0h1.5M959.0 735.4h1.5M899.1 760.2h1.5M876.3 723.7h1.5M883.8 783.0h1.5M924.4 725.7h1.5M901.9 745.7h1.5M884.1 738.3h1.5M875.9 717.8h1.5M881.0 779.8h1.5M922.1 736.4h1.5M915.1 716.9h1.5M916.0 739.6h1.5M891.8 757.2h1.5M901.4 796.1h1.5M877.3 746.2h1.5M914.6 741.3h1.5M955.9 739.5h1.5M894.4 762.2h1.5M932.6 719.7h1.5M909.2 744.8h1.5M953.3 739.2h1.5M895.5 737.9h1.5M920.0 702.3h1.5M878.2 727.2h1.5M862.8 768.3h1.5M867.2 733.2h1.5M890.6 745.5h1.5M911.0 761.6h1.5M901.6 762.9h1.5M919.2 714.7h1.5M935.8 753.5h1.5M902.7 740.2h1.5M906.7 748.5h1.5M894.9 724.1h1.5M927.5 742.1h1.5M918.8 771.4h1.5M876.9 761.8h1.5M900.9 751.8h1.5M885.4 779.1h1.5M866.2 745.3h1.5M909.8 750.0h1.5M908.7 706.4h1.5M863.1 701.8h1.5M888.1 784.9h1.5M895.3 778.4h1.5M932.6 724.9h1.5M882.9 750.5h1.5M948.1 726.2h1.5M894.0 764.3h1.5M917.6 743.9h1.5M943.1 733.4h1.5M908.9 726.7h1.5M930.4 708.3h1.5M929.4 720.6h1.5M938.8 722.9h1.5M945.5 778.2h1.5M876.1 743.3h1.5M876.3 747.9h1.5M913.1 746.8h1.5M960.9 760.1h1.5M901.3 749.9h1.5M870.4 771.8h1.5M922.6 742.5h1.5M904.7 745.0h1.5M871.9 773.5h1.5M904.0 760.6h1.5M884.3 728.2h1.5M902.3 751.3h1.5M919.0 765.2h1.5M876.7 762.4h1.5M926.7 751.1h1.5M862.5 775.0h1.5M936.8 761.3h1.5M867.4 781.0h1.5M896.7 732.5h1.5M897.1 724.4h1.5M908.0 740.1h1.5M891.0 774.5h1.5M896.9 769.6h1.5M885.4 740.7h1.5M920.6 726.7h1.5M877.2 693.8h1.5M954.8 763.8h1.5M919.8 765.6h1.5M955.7 772.1h1.5M891.7 774.5h1.5M921.6 739.3h1.5M945.7 754.3h1.5M920.0 745.5h1.5M904.9 748.6h1.5M899.3 753.0h1.5M937.6 726.5h1.5M953.9 743.0h1.5M909.6 793.5h1.5M919.9 744.7h1.5M866.4 785.1h1.5M912.9 765.7h1.5M938.2 703.4h1.5M916.5 739.1h1.5M934.6 744.9h1.5M930.3 709.4h1.5M865.8 771.3h1.5M893.3 786.3h1.5M928.1 766.5h1.5M894.5 767.2h1.5M904.2 751.2h1.5M942.1 757.6h1.5M882.8 719.1h1.5" stroke="#9a62a8" stroke-width="1.5" fill="none" opacity="0.7"/>
<path d="M680.5 831.5C680.8 826.3 681.7 820.8 682.3 813.2C682.9 805.6 683.7 795.0 684.1 785.9C684.6 776.8 684.3 765.2 685.1 758.5C685.8 751.8 686.9 749.7 688.7 745.8C690.5 741.8 693.0 737.7 696.0 734.8C699.0 731.9 703.0 730.1 706.9 728.4C710.9 726.8 715.1 725.9 719.7 724.8C724.3 723.7 729.7 723.0 734.3 722.1C738.9 721.1 742.8 720.1 747.1 719.3C751.3 718.6 755.3 717.8 759.8 717.5C764.4 717.2 771.8 715.8 774.4 717.5C777.0 719.2 775.9 724.6 775.3 727.5C774.7 730.4 770.9 732.4 770.8 734.8C770.6 737.3 773.2 739.1 774.4 742.1C775.6 745.2 777.3 748.8 778.1 753.1C778.8 757.3 779.6 762.8 779.0 767.6C778.4 772.5 775.5 777.7 774.4 782.2C773.3 786.8 772.3 790.7 772.6 795.0C772.9 799.3 775.6 804.4 776.2 807.8C776.8 811.1 777.8 812.9 776.2 815.1C774.7 817.2 770.5 819.0 767.1 820.5C763.8 822.0 760.1 822.7 756.2 824.2C752.2 825.7 747.4 827.5 743.4 829.6C739.5 831.8 735.8 834.2 732.5 836.9C729.1 839.7 726.1 843.0 723.4 846.1C720.6 849.1 718.5 852.4 716.1 855.2C713.6 857.9 711.5 860.3 708.8 862.5C706.0 864.6 702.7 867.6 699.6 867.9C696.6 868.2 693.1 866.4 690.5 864.3C687.9 862.2 685.8 858.5 684.1 855.2C682.5 851.8 681.1 848.2 680.5 844.2C679.9 840.3 680.2 836.6 680.5 831.5Z" fill="#fbfefa" stroke="none" stroke-width="0.0" stroke-linejoin="round"/>
<path d="M680.5 831.5C680.6 829.4 680.9 827.5 681.1 825.5C681.4 823.4 681.7 821.2 681.9 819.2C682.1 817.1 682.2 815.1 682.3 813.2C682.5 811.4 682.6 809.9 682.8 808.0C682.9 806.1 683.2 804.0 683.3 802.1C683.4 800.3 683.4 798.6 683.5 796.9C683.6 795.1 683.7 793.5 683.8 791.6C683.9 789.8 684.1 787.8 684.1 785.9C684.2 784.0 684.2 782.2 684.3 780.4C684.5 778.6 684.7 776.9 684.8 775.0C684.8 773.2 684.6 771.2 684.6 769.4C684.6 767.5 684.8 765.5 684.9 763.7C685.0 761.9 684.7 760.4 685.1 758.5C685.4 756.6 686.3 754.4 686.9 752.3C687.6 750.2 687.8 747.7 688.7 745.8C689.6 743.8 691.1 742.3 692.3 740.5C693.5 738.7 694.4 736.3 696.0 734.8C697.6 733.3 699.9 732.7 701.7 731.7C703.6 730.6 705.0 729.3 706.9 728.4C708.9 727.6 711.3 727.0 713.4 726.4C715.6 725.8 717.5 725.2 719.7 724.8C721.9 724.3 724.3 724.2 726.7 723.7C729.2 723.3 732.0 722.6 734.3 722.1C736.6 721.5 738.4 721.0 740.5 720.5C742.7 720.1 744.9 719.6 747.1 719.3C749.2 719.0 751.5 718.9 753.7 718.6C755.8 718.3 757.6 717.7 759.8 717.5C762.0 717.3 764.5 717.4 766.9 717.4C769.3 717.4 773.1 716.7 774.4 717.5C775.7 718.3 774.6 720.7 774.7 722.4C774.9 724.0 776.0 725.5 775.3 727.5C774.7 729.6 770.9 732.4 770.8 734.8C770.6 737.3 773.5 740.0 774.4 742.1C775.3 744.2 775.3 745.8 775.9 747.6C776.5 749.4 777.6 750.9 778.1 753.1C778.5 755.2 778.2 757.9 778.4 760.3C778.5 762.7 779.2 765.6 779.0 767.6C778.8 769.6 777.8 770.6 777.3 772.3C776.7 773.9 776.1 775.9 775.6 777.6C775.2 779.3 774.7 780.4 774.4 782.2C774.1 784.1 773.9 786.5 773.6 788.6C773.3 790.8 772.5 792.9 772.6 795.0C772.7 797.1 773.6 799.0 774.2 801.2C774.8 803.3 775.9 805.4 776.2 807.8C776.6 810.1 777.0 813.4 776.2 815.1C775.4 816.7 773.0 816.8 771.4 817.7C769.9 818.6 768.8 819.8 767.1 820.5C765.4 821.3 763.2 821.6 761.4 822.2C759.6 822.8 758.1 823.4 756.2 824.2C754.2 824.9 751.7 825.8 749.6 826.7C747.5 827.6 745.3 828.6 743.4 829.6C741.5 830.7 739.9 832.0 738.0 833.3C736.2 834.5 734.2 835.6 732.5 836.9C730.8 838.3 729.4 839.9 727.9 841.4C726.4 842.9 724.7 844.5 723.4 846.1C722.0 847.6 720.9 849.3 719.7 850.8C718.5 852.3 717.3 853.9 716.1 855.2C714.8 856.5 713.5 857.3 712.3 858.6C711.1 859.8 710.1 861.4 708.8 862.5C707.4 863.6 705.7 864.2 704.2 865.1C702.7 866.0 701.9 868.1 699.6 867.9C697.4 867.8 692.6 865.7 690.5 864.3C688.5 862.9 688.6 861.0 687.5 859.5C686.4 858.0 685.0 856.9 684.1 855.2C683.3 853.5 683.2 851.2 682.5 849.4C681.9 847.6 680.8 846.2 680.5 844.2C680.2 842.3 680.5 839.9 680.5 837.8C680.5 835.7 680.4 833.5 680.5 831.5Z" fill="none" stroke="#66ab42" stroke-width="1.3224999999999998" stroke-linejoin="round"/>
<path d="M684.1 831.5C684.2 829.3 684.5 827.3 684.8 825.3C685.0 823.2 685.4 821.2 685.6 819.2C685.8 817.2 685.8 815.2 686.0 813.2C686.1 811.3 686.2 809.4 686.3 807.7C686.5 805.9 686.6 804.4 686.6 802.6C686.7 800.8 686.7 798.7 686.8 796.8C686.9 794.9 687.1 793.1 687.3 791.3C687.4 789.4 687.6 787.6 687.8 785.9C688.0 784.1 688.2 782.4 688.3 780.7C688.3 779.0 688.2 777.3 688.2 775.6C688.3 773.9 688.5 772.2 688.5 770.5C688.5 768.8 688.3 767.1 688.3 765.4C688.4 763.7 688.3 762.2 688.7 760.4C689.1 758.5 689.9 756.3 690.5 754.1C691.1 752.0 691.3 749.6 692.4 747.6C693.4 745.6 695.4 743.8 696.9 741.9C698.5 740.1 699.6 738.0 701.5 736.6C703.3 735.3 705.8 734.7 708.0 733.8C710.1 732.9 712.0 731.9 714.2 731.2C716.5 730.5 719.1 730.1 721.5 729.6C724.0 729.2 726.4 728.8 728.8 728.4C731.2 728.0 733.6 727.7 736.1 727.2C738.5 726.8 741.3 726.0 743.4 725.7C745.5 725.4 747.0 725.4 748.9 725.2C750.7 725.1 752.7 724.8 754.5 724.5C756.3 724.3 757.4 723.4 759.8 723.9C762.2 724.4 767.6 726.0 768.9 727.5C770.3 729.0 768.4 731.1 768.1 732.9C767.8 734.8 767.6 736.6 767.1 738.5C766.7 740.3 766.0 742.3 765.4 744.1C764.8 745.9 763.5 747.6 763.5 749.4C763.4 751.2 764.4 753.3 765.1 755.1C765.7 757.0 766.6 758.7 767.1 760.4C767.6 762.0 767.9 763.4 768.3 765.0C768.6 766.6 768.9 768.3 769.3 770.0C769.8 771.6 770.5 773.2 770.8 774.9C771.1 776.7 770.9 778.5 771.1 780.3C771.3 782.2 771.7 784.1 771.9 786.0C772.2 787.8 772.5 789.3 772.6 791.3C772.7 793.4 772.6 795.9 772.6 798.0C772.6 800.1 773.2 802.4 772.6 804.1C772.0 805.9 770.3 807.0 769.0 808.6C767.8 810.1 766.9 812.0 765.3 813.2C763.6 814.5 761.3 815.2 759.1 816.1C757.0 817.0 754.6 817.8 752.5 818.7C750.4 819.6 748.6 820.7 746.4 821.6C744.3 822.5 741.7 823.2 739.8 824.2C737.8 825.2 736.4 826.4 734.6 827.6C732.7 828.9 730.6 830.0 728.8 831.5C727.1 832.9 725.6 834.8 724.1 836.3C722.6 837.8 721.1 839.1 719.7 840.6C718.3 842.1 717.0 843.9 715.8 845.4C714.6 846.9 713.5 848.4 712.4 849.7C711.3 851.0 710.2 851.9 709.0 853.1C707.8 854.3 707.3 856.0 705.1 857.0C702.9 857.9 698.7 859.4 696.0 858.8C693.3 858.2 690.5 855.8 688.7 853.3C686.9 850.9 685.8 846.8 685.1 844.2C684.3 841.7 684.5 840.2 684.4 838.1C684.2 836.0 684.1 833.6 684.1 831.5Z" fill="none" stroke="#66ab42" stroke-width="1.265" stroke-linejoin="round"/>
<path d="M688.7 831.5C688.7 829.5 689.0 827.3 689.0 825.3C689.1 823.3 688.9 821.4 689.0 819.4C689.1 817.4 689.5 815.2 689.6 813.2C689.7 811.3 689.7 809.4 689.8 807.6C689.9 805.8 690.1 804.2 690.3 802.4C690.5 800.6 690.8 798.6 691.0 796.8C691.2 795.0 691.3 793.5 691.4 791.6C691.4 789.8 691.4 787.9 691.4 785.9C691.5 783.9 691.5 781.6 691.5 779.7C691.6 777.8 691.6 776.1 691.7 774.2C691.8 772.3 692.1 770.4 692.2 768.4C692.3 766.3 691.9 764.3 692.4 762.2C692.8 760.1 694.2 758.0 694.9 755.9C695.7 753.8 695.7 751.3 696.9 749.4C698.1 747.5 700.3 746.1 701.9 744.6C703.6 743.1 705.3 741.2 706.9 740.3C708.5 739.4 709.9 739.4 711.5 739.0C713.2 738.5 715.1 737.9 716.8 737.4C718.4 736.9 719.8 736.1 721.5 735.7C723.2 735.3 725.2 735.2 727.0 734.9C728.9 734.7 730.7 734.5 732.6 734.1C734.4 733.8 736.2 733.2 737.9 733.0C739.7 732.8 741.4 732.8 743.2 732.7C745.0 732.6 746.9 732.7 748.8 732.6C750.6 732.5 752.5 731.1 754.4 732.1C756.2 733.1 759.5 735.9 759.8 738.5C760.1 741.1 757.5 745.3 756.2 747.6C754.8 749.8 753.4 750.5 751.8 752.0C750.3 753.5 748.5 754.7 747.1 756.7C745.7 758.7 742.5 762.6 743.4 764.0C744.3 765.4 750.1 764.7 752.5 764.9C754.9 765.1 755.9 765.1 757.7 765.2C759.6 765.4 761.9 764.2 763.5 765.8C765.0 767.4 766.8 772.5 767.1 774.9C767.4 777.4 765.8 778.7 765.2 780.6C764.6 782.4 763.8 783.5 763.5 785.9C763.2 788.3 763.8 792.5 763.5 795.0C763.2 797.5 762.2 798.8 761.6 800.6C761.0 802.4 760.9 804.4 759.8 805.9C758.7 807.4 756.7 808.4 755.1 809.6C753.6 810.8 752.5 812.2 750.7 813.2C748.9 814.3 746.3 815.1 744.1 816.1C742.0 817.0 739.9 817.6 737.9 818.7C736.0 819.8 734.3 821.4 732.5 822.6C730.7 823.8 728.5 824.7 727.0 826.0C725.5 827.3 724.8 829.0 723.6 830.6C722.4 832.1 721.0 833.4 719.7 835.1C718.4 836.8 717.0 839.0 715.8 840.8C714.6 842.7 713.7 844.7 712.4 846.1C711.1 847.5 709.6 848.2 708.1 849.2C706.6 850.3 705.6 852.4 703.3 852.4C701.0 852.5 696.5 851.4 694.2 849.7C691.9 848.0 690.5 844.5 689.6 842.4C688.8 840.3 689.3 839.0 689.2 837.2C689.0 835.4 688.7 833.5 688.7 831.5Z" fill="none" stroke="#86b84a" stroke-width="1.265" stroke-linejoin="round"/>
<path d="M692.4 831.5C692.2 829.3 692.6 827.3 692.7 825.3C692.7 823.3 692.6 821.4 692.7 819.4C692.8 817.4 693.1 815.2 693.3 813.2C693.4 811.3 693.3 809.4 693.5 807.6C693.6 805.8 693.7 804.2 693.9 802.4C694.1 800.6 694.5 798.6 694.7 796.8C694.8 795.0 694.9 793.5 695.0 791.6C695.1 789.8 695.1 787.8 695.1 785.9C695.1 784.0 695.1 781.9 695.2 780.2C695.2 778.4 695.2 776.9 695.3 775.1C695.5 773.4 695.7 771.6 695.8 769.7C695.9 767.9 695.6 765.7 696.0 764.0C696.4 762.2 697.5 760.9 698.1 759.2C698.7 757.6 699.1 755.6 699.7 754.0C700.2 752.4 700.3 750.7 701.5 749.4C702.6 748.1 704.8 747.5 706.7 746.4C708.5 745.3 710.2 743.8 712.4 743.0C714.6 742.3 717.4 742.3 719.8 741.8C722.2 741.4 724.6 740.6 727.0 740.3C729.4 740.0 731.9 740.1 734.3 739.9C736.8 739.8 739.3 739.4 741.6 739.4C743.9 739.3 745.9 739.6 748.1 739.6C750.2 739.6 753.6 738.6 754.4 739.4C755.1 740.2 752.9 742.7 752.3 744.4C751.7 746.1 751.6 747.9 750.7 749.4C749.8 750.9 748.2 752.0 746.9 753.3C745.7 754.5 745.5 755.5 743.4 756.7C741.3 757.9 736.7 758.5 734.3 760.4C731.9 762.2 730.0 764.9 728.8 767.6C727.6 770.4 726.2 775.1 727.0 776.8C727.8 778.4 731.5 777.2 733.6 777.5C735.7 777.8 737.2 778.0 739.8 778.6C742.3 779.2 745.8 780.7 748.9 781.3C751.9 781.9 756.2 780.6 758.0 782.2C759.8 783.9 760.0 789.1 759.8 791.3C759.6 793.6 757.7 794.2 756.8 795.8C755.9 797.3 755.7 799.0 754.4 800.5C753.0 801.9 750.6 803.1 748.8 804.3C746.9 805.5 745.2 806.7 743.4 807.8C741.6 808.8 739.7 809.7 737.9 810.6C736.1 811.6 734.0 812.2 732.5 813.2C730.9 814.3 729.9 815.7 728.7 816.9C727.5 818.1 726.4 819.0 725.2 820.5C723.9 822.1 722.6 824.3 721.3 826.1C720.1 827.9 719.1 829.6 717.9 831.5C716.7 833.3 715.5 835.3 714.2 837.2C713.0 839.0 711.9 841.1 710.6 842.4C709.3 843.7 707.8 844.2 706.3 845.2C704.8 846.1 703.3 848.0 701.5 847.9C699.6 847.7 696.4 845.9 695.1 844.2C693.8 842.6 693.9 840.2 693.5 838.1C693.0 836.0 692.5 833.6 692.4 831.5Z" fill="none" stroke="#66ab42" stroke-width="1.265" stroke-linejoin="round"/>
<path d="M698.7 764.0C699.1 762.2 699.6 760.3 700.0 758.5C700.5 756.7 700.5 754.6 701.5 753.1C702.5 751.5 704.5 750.6 706.0 749.4C707.5 748.2 708.9 746.4 710.6 745.8C712.3 745.1 714.2 745.5 716.0 745.4C717.8 745.2 719.7 744.2 721.5 744.9C723.4 745.5 726.4 747.1 727.0 749.4C727.6 751.7 726.1 756.2 725.2 758.5C724.2 760.8 722.6 761.6 721.4 763.1C720.2 764.7 719.1 765.4 717.9 767.6C716.7 769.9 715.8 774.0 714.2 776.8C712.7 779.5 710.9 783.1 708.8 784.1C706.6 785.0 703.3 783.8 701.5 782.2C699.6 780.7 698.4 777.1 697.8 774.9C697.3 772.8 697.9 771.2 698.1 769.4C698.2 767.6 698.4 765.8 698.7 764.0Z" fill="none" stroke="#86b84a" stroke-width="1.265" stroke-linejoin="round"/>
<path d="M707.9 751.2C708.6 750.0 711.5 747.9 713.3 747.6C715.1 747.3 718.0 748.3 718.8 749.4C719.6 750.5 718.9 752.9 717.9 754.0C716.8 755.0 713.9 755.6 712.4 755.8C710.9 755.9 709.5 755.6 708.8 754.9C708.0 754.1 707.1 752.4 707.9 751.2Z" fill="none" stroke="#66ab42" stroke-width="1.265" stroke-linejoin="round"/>
<path d="M696.9 822.3C696.9 820.1 697.2 817.6 697.4 815.2C697.5 812.7 697.1 810.5 697.8 807.8C698.5 805.0 699.6 800.9 701.5 798.6C703.3 796.4 706.8 794.5 708.8 794.1C710.8 793.7 712.0 795.5 713.5 796.3C715.0 797.0 715.9 797.3 717.9 798.6C719.8 799.9 724.2 802.3 725.2 804.1C726.1 806.0 724.1 807.8 723.5 809.7C722.9 811.5 722.3 813.3 721.5 815.1C720.8 816.8 719.8 818.5 718.9 820.4C717.9 822.2 717.0 824.2 716.1 826.0C715.1 827.8 714.0 829.6 713.1 831.4C712.2 833.2 711.6 835.4 710.6 836.9C709.6 838.4 708.3 839.3 707.0 840.5C705.8 841.7 704.8 844.2 703.3 844.2C701.8 844.2 698.8 842.2 697.8 840.6C696.9 839.0 697.6 836.4 697.5 834.4C697.4 832.4 697.5 830.6 697.4 828.6C697.3 826.6 696.9 824.6 696.9 822.3Z" fill="none" stroke="#86b84a" stroke-width="1.265" stroke-linejoin="round"/>
<path d="M699.6 831.5C699.2 828.1 699.8 822.3 700.6 818.7C701.3 815.1 702.7 811.6 704.2 809.6C705.7 807.6 708.0 806.5 709.7 806.8C711.3 807.2 713.6 808.8 714.2 811.4C714.8 814.0 714.2 818.7 713.3 822.3C712.4 826.0 710.4 830.6 708.8 833.3C707.1 836.0 704.8 839.1 703.3 838.8C701.8 838.5 700.1 834.8 699.6 831.5Z" fill="none" stroke="#66ab42" stroke-width="1.265" stroke-linejoin="round"/>
<path d="M704.2 769.5L704.2 774.9" fill="none" stroke="#4fa53a" stroke-width="2.07" stroke-linejoin="round"/>
<path d="M774.4 717.5C776.5 715.8 780.5 715.8 783.5 715.7C786.6 715.5 789.9 715.4 792.6 716.6C795.4 717.8 798.0 721.4 799.9 723.0C801.9 724.5 803.6 723.7 804.5 725.7C805.4 727.7 804.6 732.4 805.4 734.8C806.2 737.3 808.0 738.5 809.1 740.3C810.1 742.1 811.8 744.1 811.8 745.8C811.8 747.4 810.1 749.4 809.1 750.3C808.0 751.2 806.7 751.6 805.4 751.2C804.1 750.9 802.6 749.3 801.0 748.4C799.5 747.4 798.0 746.2 796.3 745.8C794.6 745.4 792.5 746.0 790.6 746.0C788.8 746.0 787.4 746.7 785.4 745.8C783.3 744.8 780.3 742.4 778.1 740.3C775.8 738.2 772.9 735.4 771.7 733.0C770.5 730.6 770.3 728.3 770.8 725.7C771.2 723.1 772.3 719.2 774.4 717.5Z" fill="none" stroke="#4a5ea6" stroke-width="1.4375" stroke-linejoin="round"/>
<path d="M774.4 776.8C775.9 775.1 779.6 776.1 781.7 775.8C783.8 775.6 785.1 775.4 786.9 775.2C788.7 775.1 790.6 775.6 792.6 774.9C794.7 774.3 797.7 773.1 799.0 771.3C800.4 769.5 799.2 765.8 800.8 764.0C802.5 762.2 806.6 760.9 809.1 760.4C811.5 759.8 813.2 760.5 815.3 760.4C817.4 760.3 819.8 760.2 821.8 760.0C823.8 759.8 825.5 759.6 827.3 759.4C829.1 759.1 830.3 759.2 832.8 758.5C835.2 757.8 839.1 755.2 841.9 755.2C844.6 755.2 846.7 757.4 849.2 758.5C851.6 759.7 854.7 760.7 856.5 762.2C858.2 763.7 859.7 765.5 859.7 767.6C859.7 769.8 857.7 773.1 856.5 774.9C855.3 776.8 853.8 777.4 852.6 778.6C851.4 779.8 850.6 781.3 849.2 782.2C847.7 783.1 845.7 783.5 843.9 784.1C842.1 784.7 840.7 785.0 838.2 785.9C835.8 786.8 831.8 788.0 829.1 789.5C826.4 791.0 824.3 793.2 821.8 795.0C819.4 796.8 816.6 799.4 814.5 800.5C812.4 801.6 811.1 801.3 809.3 801.6C807.5 801.9 805.5 801.8 803.6 802.3C801.7 802.7 799.9 803.5 798.0 804.3C796.2 805.0 794.4 806.4 792.6 806.8C790.9 807.3 789.2 806.9 787.3 807.1C785.5 807.2 783.7 808.3 781.7 807.8C779.7 807.3 776.8 805.9 775.3 804.1C773.8 802.3 773.1 798.9 772.6 796.8C772.1 794.7 772.3 793.3 772.3 791.5C772.3 789.7 772.2 788.3 772.6 785.9C772.9 783.4 772.9 778.4 774.4 776.8Z" fill="none" stroke="#4a5ea6" stroke-width="1.4375" stroke-linejoin="round"/>
<path d="M801.8 785.9C801.9 784.7 805.1 783.6 807.2 783.1C809.4 782.7 812.9 782.7 814.5 783.1C816.2 783.6 817.6 784.7 817.3 785.9C817.0 787.1 814.5 789.7 812.7 790.4C810.9 791.2 808.1 791.2 806.3 790.4C804.5 789.7 801.6 787.1 801.8 785.9Z" fill="none" stroke="#4a5ea6" stroke-width="1.38" stroke-linejoin="round"/>
<path d="M859.7 762.2L859.7 769.5" fill="none" stroke="#4a5ea6" stroke-width="2.3" stroke-linejoin="round"/>
<rect x="873" y="615.6" width="10" height="2.6" rx="1.3" fill="#111"/>
</g>
<g id="A1">
<rect x="154.2" y="58.4" width="408.40000000000003" height="358.1" fill="none" stroke="#1d1d1d" stroke-width="1.6"/>
<line x1="168.5" y1="416.5" x2="168.5" y2="425.1" stroke="#1d1d1d" stroke-width="1.7"/>
<line x1="184.1" y1="416.5" x2="184.1" y2="425.1" stroke="#1d1d1d" stroke-width="1.7"/>
<line x1="199.8" y1="416.5" x2="199.8" y2="425.1" stroke="#1d1d1d" stroke-width="1.7"/>
<line x1="215.4" y1="416.5" x2="215.4" y2="425.1" stroke="#1d1d1d" stroke-width="1.7"/>
<line x1="231.0" y1="416.5" x2="231.0" y2="431.1" stroke="#1d1d1d" stroke-width="1.7"/>
<text class="sa st" font-size="12.6" text-anchor="middle" transform="translate(231.4 445.0) scale(1 1.2)">50</text>
<line x1="246.6" y1="416.5" x2="246.6" y2="425.1" stroke="#1d1d1d" stroke-width="1.7"/>
<line x1="262.2" y1="416.5" x2="262.2" y2="425.1" stroke="#1d1d1d" stroke-width="1.7"/>
<line x1="277.9" y1="416.5" x2="277.9" y2="425.1" stroke="#1d1d1d" stroke-width="1.7"/>
<line x1="293.5" y1="416.5" x2="293.5" y2="425.1" stroke="#1d1d1d" stroke-width="1.7"/>
<line x1="309.1" y1="416.5" x2="309.1" y2="431.1" stroke="#1d1d1d" stroke-width="1.7"/>
<text class="sa st" font-size="12.6" text-anchor="middle" transform="translate(309.5 445.0) scale(1 1.2)">100</text>
<line x1="324.7" y1="416.5" x2="324.7" y2="425.1" stroke="#1d1d1d" stroke-width="1.7"/>
<line x1="340.3" y1="416.5" x2="340.3" y2="425.1" stroke="#1d1d1d" stroke-width="1.7"/>
<line x1="356.0" y1="416.5" x2="356.0" y2="425.1" stroke="#1d1d1d" stroke-width="1.7"/>
<line x1="371.6" y1="416.5" x2="371.6" y2="425.1" stroke="#1d1d1d" stroke-width="1.7"/>
<line x1="387.2" y1="416.5" x2="387.2" y2="431.1" stroke="#1d1d1d" stroke-width="1.7"/>
<text class="sa st" font-size="12.6" text-anchor="middle" transform="translate(387.6 445.0) scale(1 1.2)">150</text>
<line x1="402.8" y1="416.5" x2="402.8" y2="425.1" stroke="#1d1d1d" stroke-width="1.7"/>
<line x1="418.4" y1="416.5" x2="418.4" y2="425.1" stroke="#1d1d1d" stroke-width="1.7"/>
<line x1="434.1" y1="416.5" x2="434.1" y2="425.1" stroke="#1d1d1d" stroke-width="1.7"/>
<line x1="449.7" y1="416.5" x2="449.7" y2="425.1" stroke="#1d1d1d" stroke-width="1.7"/>
<line x1="465.3" y1="416.5" x2="465.3" y2="431.1" stroke="#1d1d1d" stroke-width="1.7"/>
<text class="sa st" font-size="12.6" text-anchor="middle" transform="translate(465.7 445.0) scale(1 1.2)">200</text>
<line x1="480.9" y1="416.5" x2="480.9" y2="425.1" stroke="#1d1d1d" stroke-width="1.7"/>
<line x1="496.5" y1="416.5" x2="496.5" y2="425.1" stroke="#1d1d1d" stroke-width="1.7"/>
<line x1="512.2" y1="416.5" x2="512.2" y2="425.1" stroke="#1d1d1d" stroke-width="1.7"/>
<line x1="527.8" y1="416.5" x2="527.8" y2="425.1" stroke="#1d1d1d" stroke-width="1.7"/>
<line x1="543.4" y1="416.5" x2="543.4" y2="431.1" stroke="#1d1d1d" stroke-width="1.7"/>
<text class="sa st" font-size="12.6" text-anchor="middle" transform="translate(541.1 445.0) scale(1 1.2)">250</text>
<line x1="559.0" y1="416.5" x2="559.0" y2="425.1" stroke="#1d1d1d" stroke-width="1.7"/>
<line x1="148.79999999999998" y1="411.2" x2="154.2" y2="411.2" stroke="#1d1d1d" stroke-width="1.6"/>
<line x1="148.79999999999998" y1="400.0" x2="154.2" y2="400.0" stroke="#1d1d1d" stroke-width="1.6"/>
<line x1="148.79999999999998" y1="391.4" x2="154.2" y2="391.4" stroke="#1d1d1d" stroke-width="1.6"/>
<line x1="148.79999999999998" y1="384.3" x2="154.2" y2="384.3" stroke="#1d1d1d" stroke-width="1.6"/>
<line x1="148.79999999999998" y1="378.3" x2="154.2" y2="378.3" stroke="#1d1d1d" stroke-width="1.6"/>
<line x1="148.79999999999998" y1="373.2" x2="154.2" y2="373.2" stroke="#1d1d1d" stroke-width="1.6"/>
<line x1="148.79999999999998" y1="368.6" x2="154.2" y2="368.6" stroke="#1d1d1d" stroke-width="1.6"/>
<line x1="141.6" y1="364.5" x2="154.2" y2="364.5" stroke="#1d1d1d" stroke-width="1.6"/>
<g transform="translate(140.2 373.5) rotate(-90) scale(1 1.12)"><text class="sa st" font-size="13">10</text><text class="sa st" font-size="10.5" x="14.5" y="-6">2</text></g>
<line x1="148.79999999999998" y1="337.6" x2="154.2" y2="337.6" stroke="#1d1d1d" stroke-width="1.6"/>
<line x1="148.79999999999998" y1="321.9" x2="154.2" y2="321.9" stroke="#1d1d1d" stroke-width="1.6"/>
<line x1="148.79999999999998" y1="310.7" x2="154.2" y2="310.7" stroke="#1d1d1d" stroke-width="1.6"/>
<line x1="148.79999999999998" y1="302.1" x2="154.2" y2="302.1" stroke="#1d1d1d" stroke-width="1.6"/>
<line x1="148.79999999999998" y1="295.0" x2="154.2" y2="295.0" stroke="#1d1d1d" stroke-width="1.6"/>
<line x1="148.79999999999998" y1="289.0" x2="154.2" y2="289.0" stroke="#1d1d1d" stroke-width="1.6"/>
<line x1="148.79999999999998" y1="283.9" x2="154.2" y2="283.9" stroke="#1d1d1d" stroke-width="1.6"/>
<line x1="148.79999999999998" y1="279.3" x2="154.2" y2="279.3" stroke="#1d1d1d" stroke-width="1.6"/>
<line x1="141.6" y1="275.2" x2="154.2" y2="275.2" stroke="#1d1d1d" stroke-width="1.6"/>
<g transform="translate(140.2 284.2) rotate(-90) scale(1 1.12)"><text class="sa st" font-size="13">10</text><text class="sa st" font-size="10.5" x="14.5" y="-6">3</text></g>
<line x1="148.79999999999998" y1="248.3" x2="154.2" y2="248.3" stroke="#1d1d1d" stroke-width="1.6"/>
<line x1="148.79999999999998" y1="232.6" x2="154.2" y2="232.6" stroke="#1d1d1d" stroke-width="1.6"/>
<line x1="148.79999999999998" y1="221.4" x2="154.2" y2="221.4" stroke="#1d1d1d" stroke-width="1.6"/>
<line x1="148.79999999999998" y1="212.8" x2="154.2" y2="212.8" stroke="#1d1d1d" stroke-width="1.6"/>
<line x1="148.79999999999998" y1="205.7" x2="154.2" y2="205.7" stroke="#1d1d1d" stroke-width="1.6"/>
<line x1="148.79999999999998" y1="199.7" x2="154.2" y2="199.7" stroke="#1d1d1d" stroke-width="1.6"/>
<line x1="148.79999999999998" y1="194.6" x2="154.2" y2="194.6" stroke="#1d1d1d" stroke-width="1.6"/>
<line x1="148.79999999999998" y1="190.0" x2="154.2" y2="190.0" stroke="#1d1d1d" stroke-width="1.6"/>
<line x1="141.6" y1="185.9" x2="154.2" y2="185.9" stroke="#1d1d1d" stroke-width="1.6"/>
<g transform="translate(140.2 194.9) rotate(-90) scale(1 1.12)"><text class="sa st" font-size="13">10</text><text class="sa st" font-size="10.5" x="14.5" y="-6">4</text></g>
<line x1="148.79999999999998" y1="159.0" x2="154.2" y2="159.0" stroke="#1d1d1d" stroke-width="1.6"/>
<line x1="148.79999999999998" y1="143.3" x2="154.2" y2="143.3" stroke="#1d1d1d" stroke-width="1.6"/>
<line x1="148.79999999999998" y1="132.1" x2="154.2" y2="132.1" stroke="#1d1d1d" stroke-width="1.6"/>
<line x1="148.79999999999998" y1="123.5" x2="154.2" y2="123.5" stroke="#1d1d1d" stroke-width="1.6"/>
<line x1="148.79999999999998" y1="116.4" x2="154.2" y2="116.4" stroke="#1d1d1d" stroke-width="1.6"/>
<line x1="148.79999999999998" y1="110.4" x2="154.2" y2="110.4" stroke="#1d1d1d" stroke-width="1.6"/>
<line x1="148.79999999999998" y1="105.3" x2="154.2" y2="105.3" stroke="#1d1d1d" stroke-width="1.6"/>
<line x1="148.79999999999998" y1="100.7" x2="154.2" y2="100.7" stroke="#1d1d1d" stroke-width="1.6"/>
<line x1="141.6" y1="96.6" x2="154.2" y2="96.6" stroke="#1d1d1d" stroke-width="1.6"/>
<g transform="translate(140.2 105.6) rotate(-90) scale(1 1.12)"><text class="sa st" font-size="13">10</text><text class="sa st" font-size="10.5" x="14.5" y="-6">5</text></g>
<line x1="148.79999999999998" y1="69.7" x2="154.2" y2="69.7" stroke="#1d1d1d" stroke-width="1.6"/>
<rect x="169.8" y="105.8" width="77.5" height="209.7" fill="none" stroke="#1c1c1c" stroke-width="1.8"/>
<rect x="247.3" y="99.5" width="89.09999999999997" height="203.60000000000002" fill="none" stroke="#1c1c1c" stroke-width="1.8"/>
<rect x="336.4" y="86.3" width="151.60000000000002" height="215.7" fill="none" stroke="#1c1c1c" stroke-width="1.8"/>
<text class="sa st" font-size="14.5" transform="translate(198.7 221.5) scale(0.95 1.08)">P3</text>
<text class="sa st" font-size="14.5" transform="translate(280.2 211.8) scale(0.95 1.08)">P4</text>
<text class="sa st" font-size="14.5" transform="translate(403.5 204.3) scale(0.95 1.08)">P5</text>
</g>
<g id="A2">
<rect x="684.8" y="57.8" width="407.60000000000014" height="358.09999999999997" fill="none" stroke="#1d1d1d" stroke-width="1.6"/>
<line x1="699.2" y1="415.9" x2="699.2" y2="424.5" stroke="#1d1d1d" stroke-width="1.7"/>
<line x1="714.8" y1="415.9" x2="714.8" y2="424.5" stroke="#1d1d1d" stroke-width="1.7"/>
<line x1="730.4" y1="415.9" x2="730.4" y2="424.5" stroke="#1d1d1d" stroke-width="1.7"/>
<line x1="746.0" y1="415.9" x2="746.0" y2="424.5" stroke="#1d1d1d" stroke-width="1.7"/>
<line x1="761.6" y1="415.9" x2="761.6" y2="430.5" stroke="#1d1d1d" stroke-width="1.7"/>
<text class="sa st" font-size="12.6" text-anchor="middle" transform="translate(762.0 444.4) scale(1 1.2)">50</text>
<line x1="777.2" y1="415.9" x2="777.2" y2="424.5" stroke="#1d1d1d" stroke-width="1.7"/>
<line x1="792.8" y1="415.9" x2="792.8" y2="424.5" stroke="#1d1d1d" stroke-width="1.7"/>
<line x1="808.4" y1="415.9" x2="808.4" y2="424.5" stroke="#1d1d1d" stroke-width="1.7"/>
<line x1="824.0" y1="415.9" x2="824.0" y2="424.5" stroke="#1d1d1d" stroke-width="1.7"/>
<line x1="839.6" y1="415.9" x2="839.6" y2="430.5" stroke="#1d1d1d" stroke-width="1.7"/>
<text class="sa st" font-size="12.6" text-anchor="middle" transform="translate(840.0 444.4) scale(1 1.2)">100</text>
<line x1="855.2" y1="415.9" x2="855.2" y2="424.5" stroke="#1d1d1d" stroke-width="1.7"/>
<line x1="870.8" y1="415.9" x2="870.8" y2="424.5" stroke="#1d1d1d" stroke-width="1.7"/>
<line x1="886.4" y1="415.9" x2="886.4" y2="424.5" stroke="#1d1d1d" stroke-width="1.7"/>
<line x1="902.0" y1="415.9" x2="902.0" y2="424.5" stroke="#1d1d1d" stroke-width="1.7"/>
<line x1="917.6" y1="415.9" x2="917.6" y2="430.5" stroke="#1d1d1d" stroke-width="1.7"/>
<text class="sa st" font-size="12.6" text-anchor="middle" transform="translate(918.0 444.4) scale(1 1.2)">150</text>
<line x1="933.2" y1="415.9" x2="933.2" y2="424.5" stroke="#1d1d1d" stroke-width="1.7"/>
<line x1="948.8" y1="415.9" x2="948.8" y2="424.5" stroke="#1d1d1d" stroke-width="1.7"/>
<line x1="964.4" y1="415.9" x2="964.4" y2="424.5" stroke="#1d1d1d" stroke-width="1.7"/>
<line x1="980.0" y1="415.9" x2="980.0" y2="424.5" stroke="#1d1d1d" stroke-width="1.7"/>
<line x1="995.6" y1="415.9" x2="995.6" y2="430.5" stroke="#1d1d1d" stroke-width="1.7"/>
<text class="sa st" font-size="12.6" text-anchor="middle" transform="translate(996.0 444.4) scale(1 1.2)">200</text>
<line x1="1011.2" y1="415.9" x2="1011.2" y2="424.5" stroke="#1d1d1d" stroke-width="1.7"/>
<line x1="1026.8" y1="415.9" x2="1026.8" y2="424.5" stroke="#1d1d1d" stroke-width="1.7"/>
<line x1="1042.4" y1="415.9" x2="1042.4" y2="424.5" stroke="#1d1d1d" stroke-width="1.7"/>
<line x1="1058.0" y1="415.9" x2="1058.0" y2="424.5" stroke="#1d1d1d" stroke-width="1.7"/>
<line x1="1073.6" y1="415.9" x2="1073.6" y2="430.5" stroke="#1d1d1d" stroke-width="1.7"/>
<text class="sa st" font-size="12.6" text-anchor="middle" transform="translate(1071.3 444.4) scale(1 1.2)">250</text>
<line x1="1089.2" y1="415.9" x2="1089.2" y2="424.5" stroke="#1d1d1d" stroke-width="1.7"/>
<line x1="679.4" y1="410.2" x2="684.8" y2="410.2" stroke="#1d1d1d" stroke-width="1.6"/>
<line x1="679.4" y1="399.0" x2="684.8" y2="399.0" stroke="#1d1d1d" stroke-width="1.6"/>
<line x1="679.4" y1="390.4" x2="684.8" y2="390.4" stroke="#1d1d1d" stroke-width="1.6"/>
<line x1="679.4" y1="383.3" x2="684.8" y2="383.3" stroke="#1d1d1d" stroke-width="1.6"/>
<line x1="679.4" y1="377.3" x2="684.8" y2="377.3" stroke="#1d1d1d" stroke-width="1.6"/>
<line x1="679.4" y1="372.2" x2="684.8" y2="372.2" stroke="#1d1d1d" stroke-width="1.6"/>
<line x1="679.4" y1="367.6" x2="684.8" y2="367.6" stroke="#1d1d1d" stroke-width="1.6"/>
<line x1="672.1999999999999" y1="363.5" x2="684.8" y2="363.5" stroke="#1d1d1d" stroke-width="1.6"/>
<g transform="translate(670.8 372.5) rotate(-90) scale(1 1.12)"><text class="sa st" font-size="13">10</text><text class="sa st" font-size="10.5" x="14.5" y="-6">2</text></g>
<line x1="679.4" y1="336.6" x2="684.8" y2="336.6" stroke="#1d1d1d" stroke-width="1.6"/>
<line x1="679.4" y1="320.9" x2="684.8" y2="320.9" stroke="#1d1d1d" stroke-width="1.6"/>
<line x1="679.4" y1="309.7" x2="684.8" y2="309.7" stroke="#1d1d1d" stroke-width="1.6"/>
<line x1="679.4" y1="301.1" x2="684.8" y2="301.1" stroke="#1d1d1d" stroke-width="1.6"/>
<line x1="679.4" y1="294.0" x2="684.8" y2="294.0" stroke="#1d1d1d" stroke-width="1.6"/>
<line x1="679.4" y1="288.0" x2="684.8" y2="288.0" stroke="#1d1d1d" stroke-width="1.6"/>
<line x1="679.4" y1="282.9" x2="684.8" y2="282.9" stroke="#1d1d1d" stroke-width="1.6"/>
<line x1="679.4" y1="278.3" x2="684.8" y2="278.3" stroke="#1d1d1d" stroke-width="1.6"/>
<line x1="672.1999999999999" y1="274.2" x2="684.8" y2="274.2" stroke="#1d1d1d" stroke-width="1.6"/>
<g transform="translate(670.8 283.2) rotate(-90) scale(1 1.12)"><text class="sa st" font-size="13">10</text><text class="sa st" font-size="10.5" x="14.5" y="-6">3</text></g>
<line x1="679.4" y1="247.3" x2="684.8" y2="247.3" stroke="#1d1d1d" stroke-width="1.6"/>
<line x1="679.4" y1="231.6" x2="684.8" y2="231.6" stroke="#1d1d1d" stroke-width="1.6"/>
<line x1="679.4" y1="220.4" x2="684.8" y2="220.4" stroke="#1d1d1d" stroke-width="1.6"/>
<line x1="679.4" y1="211.8" x2="684.8" y2="211.8" stroke="#1d1d1d" stroke-width="1.6"/>
<line x1="679.4" y1="204.7" x2="684.8" y2="204.7" stroke="#1d1d1d" stroke-width="1.6"/>
<line x1="679.4" y1="198.7" x2="684.8" y2="198.7" stroke="#1d1d1d" stroke-width="1.6"/>
<line x1="679.4" y1="193.6" x2="684.8" y2="193.6" stroke="#1d1d1d" stroke-width="1.6"/>
<line x1="679.4" y1="189.0" x2="684.8" y2="189.0" stroke="#1d1d1d" stroke-width="1.6"/>
<line x1="672.1999999999999" y1="184.9" x2="684.8" y2="184.9" stroke="#1d1d1d" stroke-width="1.6"/>
<g transform="translate(670.8 193.9) rotate(-90) scale(1 1.12)"><text class="sa st" font-size="13">10</text><text class="sa st" font-size="10.5" x="14.5" y="-6">4</text></g>
<line x1="679.4" y1="158.0" x2="684.8" y2="158.0" stroke="#1d1d1d" stroke-width="1.6"/>
<line x1="679.4" y1="142.3" x2="684.8" y2="142.3" stroke="#1d1d1d" stroke-width="1.6"/>
<line x1="679.4" y1="131.1" x2="684.8" y2="131.1" stroke="#1d1d1d" stroke-width="1.6"/>
<line x1="679.4" y1="122.5" x2="684.8" y2="122.5" stroke="#1d1d1d" stroke-width="1.6"/>
<line x1="679.4" y1="115.4" x2="684.8" y2="115.4" stroke="#1d1d1d" stroke-width="1.6"/>
<line x1="679.4" y1="109.4" x2="684.8" y2="109.4" stroke="#1d1d1d" stroke-width="1.6"/>
<line x1="679.4" y1="104.3" x2="684.8" y2="104.3" stroke="#1d1d1d" stroke-width="1.6"/>
<line x1="679.4" y1="99.7" x2="684.8" y2="99.7" stroke="#1d1d1d" stroke-width="1.6"/>
<line x1="672.1999999999999" y1="95.6" x2="684.8" y2="95.6" stroke="#1d1d1d" stroke-width="1.6"/>
<g transform="translate(670.8 104.6) rotate(-90) scale(1 1.12)"><text class="sa st" font-size="13">10</text><text class="sa st" font-size="10.5" x="14.5" y="-6">5</text></g>
<line x1="679.4" y1="68.7" x2="684.8" y2="68.7" stroke="#1d1d1d" stroke-width="1.6"/>
<rect x="700.4" y="104.8" width="77.20000000000005" height="209.59999999999997" fill="none" stroke="#1c1c1c" stroke-width="1.8"/>
<rect x="777.6" y="98.5" width="89.39999999999998" height="203.5" fill="none" stroke="#1c1c1c" stroke-width="1.8"/>
<rect x="867" y="84.6" width="151.29999999999995" height="216.4" fill="none" stroke="#1c1c1c" stroke-width="1.8"/>
<text class="sa st" font-size="14.5" transform="translate(729.5 220.8) scale(0.95 1.08)">P3</text>
<text class="sa st" font-size="14.5" transform="translate(811.3 210.8) scale(0.95 1.08)">P4</text>
<text class="sa st" font-size="14.5" transform="translate(934.7 203.7) scale(0.95 1.08)">P5</text>
</g>
<g id="C1">
<rect x="151.2" y="618.1" width="432.40000000000003" height="349.5" fill="none" stroke="#1d1d1d" stroke-width="1.9"/>
<line x1="166.4" y1="967.6" x2="166.4" y2="976.2" stroke="#1d1d1d" stroke-width="1.7"/>
<line x1="182.9" y1="967.6" x2="182.9" y2="976.2" stroke="#1d1d1d" stroke-width="1.7"/>
<line x1="199.4" y1="967.6" x2="199.4" y2="976.2" stroke="#1d1d1d" stroke-width="1.7"/>
<line x1="215.9" y1="967.6" x2="215.9" y2="976.2" stroke="#1d1d1d" stroke-width="1.7"/>
<line x1="232.4" y1="967.6" x2="232.4" y2="982.2" stroke="#1d1d1d" stroke-width="1.7"/>
<text class="sa st" font-size="12.6" text-anchor="middle" transform="translate(232.8 996.6) scale(1 1.2)">50</text>
<line x1="248.9" y1="967.6" x2="248.9" y2="976.2" stroke="#1d1d1d" stroke-width="1.7"/>
<line x1="265.4" y1="967.6" x2="265.4" y2="976.2" stroke="#1d1d1d" stroke-width="1.7"/>
<line x1="281.9" y1="967.6" x2="281.9" y2="976.2" stroke="#1d1d1d" stroke-width="1.7"/>
<line x1="298.4" y1="967.6" x2="298.4" y2="976.2" stroke="#1d1d1d" stroke-width="1.7"/>
<line x1="314.9" y1="967.6" x2="314.9" y2="982.2" stroke="#1d1d1d" stroke-width="1.7"/>
<text class="sa st" font-size="12.6" text-anchor="middle" transform="translate(315.3 996.6) scale(1 1.2)">100</text>
<line x1="331.4" y1="967.6" x2="331.4" y2="976.2" stroke="#1d1d1d" stroke-width="1.7"/>
<line x1="347.9" y1="967.6" x2="347.9" y2="976.2" stroke="#1d1d1d" stroke-width="1.7"/>
<line x1="364.4" y1="967.6" x2="364.4" y2="976.2" stroke="#1d1d1d" stroke-width="1.7"/>
<line x1="380.9" y1="967.6" x2="380.9" y2="976.2" stroke="#1d1d1d" stroke-width="1.7"/>
<line x1="397.4" y1="967.6" x2="397.4" y2="982.2" stroke="#1d1d1d" stroke-width="1.7"/>
<text class="sa st" font-size="12.6" text-anchor="middle" transform="translate(397.8 996.6) scale(1 1.2)">150</text>
<line x1="413.9" y1="967.6" x2="413.9" y2="976.2" stroke="#1d1d1d" stroke-width="1.7"/>
<line x1="430.4" y1="967.6" x2="430.4" y2="976.2" stroke="#1d1d1d" stroke-width="1.7"/>
<line x1="446.9" y1="967.6" x2="446.9" y2="976.2" stroke="#1d1d1d" stroke-width="1.7"/>
<line x1="463.4" y1="967.6" x2="463.4" y2="976.2" stroke="#1d1d1d" stroke-width="1.7"/>
<line x1="479.9" y1="967.6" x2="479.9" y2="982.2" stroke="#1d1d1d" stroke-width="1.7"/>
<text class="sa st" font-size="12.6" text-anchor="middle" transform="translate(480.3 996.6) scale(1 1.2)">200</text>
<line x1="496.4" y1="967.6" x2="496.4" y2="976.2" stroke="#1d1d1d" stroke-width="1.7"/>
<line x1="512.9" y1="967.6" x2="512.9" y2="976.2" stroke="#1d1d1d" stroke-width="1.7"/>
<line x1="529.4" y1="967.6" x2="529.4" y2="976.2" stroke="#1d1d1d" stroke-width="1.7"/>
<line x1="545.9" y1="967.6" x2="545.9" y2="976.2" stroke="#1d1d1d" stroke-width="1.7"/>
<line x1="562.4" y1="967.6" x2="562.4" y2="982.2" stroke="#1d1d1d" stroke-width="1.7"/>
<text class="sa st" font-size="12.6" text-anchor="middle" transform="translate(561.2 996.6) scale(1 1.2)">250</text>
<line x1="578.9" y1="967.6" x2="578.9" y2="976.2" stroke="#1d1d1d" stroke-width="1.7"/>
<line x1="145.79999999999998" y1="962.3" x2="151.2" y2="962.3" stroke="#1d1d1d" stroke-width="1.6"/>
<line x1="145.79999999999998" y1="951.5" x2="151.2" y2="951.5" stroke="#1d1d1d" stroke-width="1.6"/>
<line x1="145.79999999999998" y1="943.1" x2="151.2" y2="943.1" stroke="#1d1d1d" stroke-width="1.6"/>
<line x1="145.79999999999998" y1="936.2" x2="151.2" y2="936.2" stroke="#1d1d1d" stroke-width="1.6"/>
<line x1="145.79999999999998" y1="930.4" x2="151.2" y2="930.4" stroke="#1d1d1d" stroke-width="1.6"/>
<line x1="145.79999999999998" y1="925.3" x2="151.2" y2="925.3" stroke="#1d1d1d" stroke-width="1.6"/>
<line x1="145.79999999999998" y1="920.9" x2="151.2" y2="920.9" stroke="#1d1d1d" stroke-width="1.6"/>
<line x1="138.6" y1="916.9" x2="151.2" y2="916.9" stroke="#1d1d1d" stroke-width="1.6"/>
<g transform="translate(137.2 925.9) rotate(-90) scale(1 1.12)"><text class="sa st" font-size="13">10</text><text class="sa st" font-size="10.5" x="14.5" y="-6">2</text></g>
<line x1="145.79999999999998" y1="890.7" x2="151.2" y2="890.7" stroke="#1d1d1d" stroke-width="1.6"/>
<line x1="145.79999999999998" y1="875.4" x2="151.2" y2="875.4" stroke="#1d1d1d" stroke-width="1.6"/>
<line x1="145.79999999999998" y1="864.6" x2="151.2" y2="864.6" stroke="#1d1d1d" stroke-width="1.6"/>
<line x1="145.79999999999998" y1="856.2" x2="151.2" y2="856.2" stroke="#1d1d1d" stroke-width="1.6"/>
<line x1="145.79999999999998" y1="849.3" x2="151.2" y2="849.3" stroke="#1d1d1d" stroke-width="1.6"/>
<line x1="145.79999999999998" y1="843.5" x2="151.2" y2="843.5" stroke="#1d1d1d" stroke-width="1.6"/>
<line x1="145.79999999999998" y1="838.4" x2="151.2" y2="838.4" stroke="#1d1d1d" stroke-width="1.6"/>
<line x1="145.79999999999998" y1="834.0" x2="151.2" y2="834.0" stroke="#1d1d1d" stroke-width="1.6"/>
<line x1="138.6" y1="830.0" x2="151.2" y2="830.0" stroke="#1d1d1d" stroke-width="1.6"/>
<g transform="translate(137.2 839.0) rotate(-90) scale(1 1.12)"><text class="sa st" font-size="13">10</text><text class="sa st" font-size="10.5" x="14.5" y="-6">3</text></g>
<line x1="145.79999999999998" y1="803.8" x2="151.2" y2="803.8" stroke="#1d1d1d" stroke-width="1.6"/>
<line x1="145.79999999999998" y1="788.5" x2="151.2" y2="788.5" stroke="#1d1d1d" stroke-width="1.6"/>
<line x1="145.79999999999998" y1="777.7" x2="151.2" y2="777.7" stroke="#1d1d1d" stroke-width="1.6"/>
<line x1="145.79999999999998" y1="769.3" x2="151.2" y2="769.3" stroke="#1d1d1d" stroke-width="1.6"/>
<line x1="145.79999999999998" y1="762.4" x2="151.2" y2="762.4" stroke="#1d1d1d" stroke-width="1.6"/>
<line x1="145.79999999999998" y1="756.6" x2="151.2" y2="756.6" stroke="#1d1d1d" stroke-width="1.6"/>
<line x1="145.79999999999998" y1="751.5" x2="151.2" y2="751.5" stroke="#1d1d1d" stroke-width="1.6"/>
<line x1="145.79999999999998" y1="747.1" x2="151.2" y2="747.1" stroke="#1d1d1d" stroke-width="1.6"/>
<line x1="138.6" y1="743.1" x2="151.2" y2="743.1" stroke="#1d1d1d" stroke-width="1.6"/>
<g transform="translate(137.2 752.1) rotate(-90) scale(1 1.12)"><text class="sa st" font-size="13">10</text><text class="sa st" font-size="10.5" x="14.5" y="-6">4</text></g>
<line x1="145.79999999999998" y1="716.9" x2="151.2" y2="716.9" stroke="#1d1d1d" stroke-width="1.6"/>
<line x1="145.79999999999998" y1="701.6" x2="151.2" y2="701.6" stroke="#1d1d1d" stroke-width="1.6"/>
<line x1="145.79999999999998" y1="690.8" x2="151.2" y2="690.8" stroke="#1d1d1d" stroke-width="1.6"/>
<line x1="145.79999999999998" y1="682.4" x2="151.2" y2="682.4" stroke="#1d1d1d" stroke-width="1.6"/>
<line x1="145.79999999999998" y1="675.5" x2="151.2" y2="675.5" stroke="#1d1d1d" stroke-width="1.6"/>
<line x1="145.79999999999998" y1="669.7" x2="151.2" y2="669.7" stroke="#1d1d1d" stroke-width="1.6"/>
<line x1="145.79999999999998" y1="664.6" x2="151.2" y2="664.6" stroke="#1d1d1d" stroke-width="1.6"/>
<line x1="145.79999999999998" y1="660.2" x2="151.2" y2="660.2" stroke="#1d1d1d" stroke-width="1.6"/>
<line x1="138.6" y1="656.2" x2="151.2" y2="656.2" stroke="#1d1d1d" stroke-width="1.6"/>
<g transform="translate(137.2 665.2) rotate(-90) scale(1 1.12)"><text class="sa st" font-size="13">10</text><text class="sa st" font-size="10.5" x="14.5" y="-6">5</text></g>
<line x1="145.79999999999998" y1="630.0" x2="151.2" y2="630.0" stroke="#1d1d1d" stroke-width="1.6"/>
<rect x="179.8" y="664.4" width="80.19999999999999" height="211.60000000000002" fill="none" stroke="#1c1c1c" stroke-width="1.8"/>
<rect x="260" y="656.8" width="85" height="203.4000000000001" fill="none" stroke="#1c1c1c" stroke-width="1.8"/>
<rect x="345" y="648.3" width="106.5" height="205.4000000000001" fill="none" stroke="#1c1c1c" stroke-width="1.8"/>
<text class="sa st" font-size="14.5" transform="translate(205 784.5) scale(0.95 1.08)">P3</text>
<text class="sa st" font-size="14.5" transform="translate(299 756.5) scale(0.95 1.08)">P4</text>
<text class="sa st" font-size="14.5" transform="translate(384.5 765) scale(0.95 1.08)">P5</text>
</g>
<g id="C2">
<rect x="668.6" y="618.1" width="426.4" height="349.5" fill="none" stroke="#1d1d1d" stroke-width="1.9"/>
<line x1="682.3" y1="967.6" x2="682.3" y2="976.2" stroke="#1d1d1d" stroke-width="1.7"/>
<line x1="698.6" y1="967.6" x2="698.6" y2="976.2" stroke="#1d1d1d" stroke-width="1.7"/>
<line x1="715.0" y1="967.6" x2="715.0" y2="976.2" stroke="#1d1d1d" stroke-width="1.7"/>
<line x1="731.3" y1="967.6" x2="731.3" y2="976.2" stroke="#1d1d1d" stroke-width="1.7"/>
<line x1="747.7" y1="967.6" x2="747.7" y2="982.2" stroke="#1d1d1d" stroke-width="1.7"/>
<text class="sa st" font-size="12.6" text-anchor="middle" transform="translate(748.1 997.4) scale(1 1.2)">50</text>
<line x1="764.1" y1="967.6" x2="764.1" y2="976.2" stroke="#1d1d1d" stroke-width="1.7"/>
<line x1="780.4" y1="967.6" x2="780.4" y2="976.2" stroke="#1d1d1d" stroke-width="1.7"/>
<line x1="796.8" y1="967.6" x2="796.8" y2="976.2" stroke="#1d1d1d" stroke-width="1.7"/>
<line x1="813.1" y1="967.6" x2="813.1" y2="976.2" stroke="#1d1d1d" stroke-width="1.7"/>
<line x1="829.5" y1="967.6" x2="829.5" y2="982.2" stroke="#1d1d1d" stroke-width="1.7"/>
<text class="sa st" font-size="12.6" text-anchor="middle" transform="translate(829.9 997.4) scale(1 1.2)">100</text>
<line x1="845.9" y1="967.6" x2="845.9" y2="976.2" stroke="#1d1d1d" stroke-width="1.7"/>
<line x1="862.2" y1="967.6" x2="862.2" y2="976.2" stroke="#1d1d1d" stroke-width="1.7"/>
<line x1="878.6" y1="967.6" x2="878.6" y2="976.2" stroke="#1d1d1d" stroke-width="1.7"/>
<line x1="894.9" y1="967.6" x2="894.9" y2="976.2" stroke="#1d1d1d" stroke-width="1.7"/>
<line x1="911.3" y1="967.6" x2="911.3" y2="982.2" stroke="#1d1d1d" stroke-width="1.7"/>
<text class="sa st" font-size="12.6" text-anchor="middle" transform="translate(911.7 997.4) scale(1 1.2)">150</text>
<line x1="927.7" y1="967.6" x2="927.7" y2="976.2" stroke="#1d1d1d" stroke-width="1.7"/>
<line x1="944.0" y1="967.6" x2="944.0" y2="976.2" stroke="#1d1d1d" stroke-width="1.7"/>
<line x1="960.4" y1="967.6" x2="960.4" y2="976.2" stroke="#1d1d1d" stroke-width="1.7"/>
<line x1="976.7" y1="967.6" x2="976.7" y2="976.2" stroke="#1d1d1d" stroke-width="1.7"/>
<line x1="993.1" y1="967.6" x2="993.1" y2="982.2" stroke="#1d1d1d" stroke-width="1.7"/>
<text class="sa st" font-size="12.6" text-anchor="middle" transform="translate(993.5 997.4) scale(1 1.2)">200</text>
<line x1="1009.5" y1="967.6" x2="1009.5" y2="976.2" stroke="#1d1d1d" stroke-width="1.7"/>
<line x1="1025.8" y1="967.6" x2="1025.8" y2="976.2" stroke="#1d1d1d" stroke-width="1.7"/>
<line x1="1042.2" y1="967.6" x2="1042.2" y2="976.2" stroke="#1d1d1d" stroke-width="1.7"/>
<line x1="1058.5" y1="967.6" x2="1058.5" y2="976.2" stroke="#1d1d1d" stroke-width="1.7"/>
<line x1="1074.9" y1="967.6" x2="1074.9" y2="982.2" stroke="#1d1d1d" stroke-width="1.7"/>
<text class="sa st" font-size="12.6" text-anchor="middle" transform="translate(1073.7 997.4) scale(1 1.2)">250</text>
<line x1="1091.3" y1="967.6" x2="1091.3" y2="976.2" stroke="#1d1d1d" stroke-width="1.7"/>
<line x1="663.2" y1="962.9" x2="668.6" y2="962.9" stroke="#1d1d1d" stroke-width="1.6"/>
<line x1="663.2" y1="952.1" x2="668.6" y2="952.1" stroke="#1d1d1d" stroke-width="1.6"/>
<line x1="663.2" y1="943.7" x2="668.6" y2="943.7" stroke="#1d1d1d" stroke-width="1.6"/>
<line x1="663.2" y1="936.8" x2="668.6" y2="936.8" stroke="#1d1d1d" stroke-width="1.6"/>
<line x1="663.2" y1="931.0" x2="668.6" y2="931.0" stroke="#1d1d1d" stroke-width="1.6"/>
<line x1="663.2" y1="925.9" x2="668.6" y2="925.9" stroke="#1d1d1d" stroke-width="1.6"/>
<line x1="663.2" y1="921.5" x2="668.6" y2="921.5" stroke="#1d1d1d" stroke-width="1.6"/>
<line x1="656.0" y1="917.5" x2="668.6" y2="917.5" stroke="#1d1d1d" stroke-width="1.6"/>
<g transform="translate(654.6 926.5) rotate(-90) scale(1 1.12)"><text class="sa st" font-size="13">10</text><text class="sa st" font-size="10.5" x="14.5" y="-6">2</text></g>
<line x1="663.2" y1="891.3" x2="668.6" y2="891.3" stroke="#1d1d1d" stroke-width="1.6"/>
<line x1="663.2" y1="876.0" x2="668.6" y2="876.0" stroke="#1d1d1d" stroke-width="1.6"/>
<line x1="663.2" y1="865.2" x2="668.6" y2="865.2" stroke="#1d1d1d" stroke-width="1.6"/>
<line x1="663.2" y1="856.8" x2="668.6" y2="856.8" stroke="#1d1d1d" stroke-width="1.6"/>
<line x1="663.2" y1="849.9" x2="668.6" y2="849.9" stroke="#1d1d1d" stroke-width="1.6"/>
<line x1="663.2" y1="844.1" x2="668.6" y2="844.1" stroke="#1d1d1d" stroke-width="1.6"/>
<line x1="663.2" y1="839.0" x2="668.6" y2="839.0" stroke="#1d1d1d" stroke-width="1.6"/>
<line x1="663.2" y1="834.6" x2="668.6" y2="834.6" stroke="#1d1d1d" stroke-width="1.6"/>
<line x1="656.0" y1="830.6" x2="668.6" y2="830.6" stroke="#1d1d1d" stroke-width="1.6"/>
<g transform="translate(654.6 839.6) rotate(-90) scale(1 1.12)"><text class="sa st" font-size="13">10</text><text class="sa st" font-size="10.5" x="14.5" y="-6">3</text></g>
<line x1="663.2" y1="804.4" x2="668.6" y2="804.4" stroke="#1d1d1d" stroke-width="1.6"/>
<line x1="663.2" y1="789.1" x2="668.6" y2="789.1" stroke="#1d1d1d" stroke-width="1.6"/>
<line x1="663.2" y1="778.3" x2="668.6" y2="778.3" stroke="#1d1d1d" stroke-width="1.6"/>
<line x1="663.2" y1="769.9" x2="668.6" y2="769.9" stroke="#1d1d1d" stroke-width="1.6"/>
<line x1="663.2" y1="763.0" x2="668.6" y2="763.0" stroke="#1d1d1d" stroke-width="1.6"/>
<line x1="663.2" y1="757.2" x2="668.6" y2="757.2" stroke="#1d1d1d" stroke-width="1.6"/>
<line x1="663.2" y1="752.1" x2="668.6" y2="752.1" stroke="#1d1d1d" stroke-width="1.6"/>
<line x1="663.2" y1="747.7" x2="668.6" y2="747.7" stroke="#1d1d1d" stroke-width="1.6"/>
<line x1="656.0" y1="743.7" x2="668.6" y2="743.7" stroke="#1d1d1d" stroke-width="1.6"/>
<g transform="translate(654.6 752.7) rotate(-90) scale(1 1.12)"><text class="sa st" font-size="13">10</text><text class="sa st" font-size="10.5" x="14.5" y="-6">4</text></g>
<line x1="663.2" y1="717.5" x2="668.6" y2="717.5" stroke="#1d1d1d" stroke-width="1.6"/>
<line x1="663.2" y1="702.2" x2="668.6" y2="702.2" stroke="#1d1d1d" stroke-width="1.6"/>
<line x1="663.2" y1="691.4" x2="668.6" y2="691.4" stroke="#1d1d1d" stroke-width="1.6"/>
<line x1="663.2" y1="683.0" x2="668.6" y2="683.0" stroke="#1d1d1d" stroke-width="1.6"/>
<line x1="663.2" y1="676.1" x2="668.6" y2="676.1" stroke="#1d1d1d" stroke-width="1.6"/>
<line x1="663.2" y1="670.3" x2="668.6" y2="670.3" stroke="#1d1d1d" stroke-width="1.6"/>
<line x1="663.2" y1="665.2" x2="668.6" y2="665.2" stroke="#1d1d1d" stroke-width="1.6"/>
<line x1="663.2" y1="660.8" x2="668.6" y2="660.8" stroke="#1d1d1d" stroke-width="1.6"/>
<line x1="656.0" y1="656.8" x2="668.6" y2="656.8" stroke="#1d1d1d" stroke-width="1.6"/>
<g transform="translate(654.6 665.8) rotate(-90) scale(1 1.12)"><text class="sa st" font-size="13">10</text><text class="sa st" font-size="10.5" x="14.5" y="-6">5</text></g>
<line x1="663.2" y1="630.6" x2="668.6" y2="630.6" stroke="#1d1d1d" stroke-width="1.6"/>
<rect x="696.7" y="664" width="79.09999999999991" height="212.29999999999995" fill="none" stroke="#1c1c1c" stroke-width="1.8"/>
<rect x="775.8" y="656" width="84.20000000000005" height="204.20000000000005" fill="none" stroke="#1c1c1c" stroke-width="1.8"/>
<rect x="860" y="648" width="104.79999999999995" height="205.70000000000005" fill="none" stroke="#1c1c1c" stroke-width="1.8"/>
<text class="sa st" font-size="14.5" transform="translate(721.5 784.5) scale(0.95 1.08)">P3</text>
<text class="sa st" font-size="14.5" transform="translate(815 756.5) scale(0.95 1.08)">P4</text>
<text class="sa st" font-size="14.5" transform="translate(898.5 765) scale(0.95 1.08)">P5</text>
</g>
<text class="sb" x="24.5" y="53.8" font-size="34">A</text>
<text class="sb" x="323.5" y="37.5" font-size="32.5" text-anchor="middle">DMSO</text>
<text class="sb" x="871.5" y="37.3" font-size="32.5" text-anchor="middle">Es</text>
<text class="sb" x="8.5" y="239.5" font-size="32">DLAT</text>
<text class="sb" x="113" y="230.5" font-size="26" text-anchor="middle" transform="rotate(-90 113 230.5)">SSC-A</text>
<text class="sb" x="649" y="230.5" font-size="26" text-anchor="middle" transform="rotate(-90 649 230.5)">SSC-A</text>
<text class="sb" x="368" y="471.2" font-size="26" text-anchor="middle">FSC-A</text>
<text class="sb" x="554" y="471.7" font-size="26" text-anchor="middle">(×1000)</text>
<text class="sb" x="884" y="471" font-size="26" text-anchor="middle">FSC-A</text>
<text class="sb" x="1076" y="471.5" font-size="26" text-anchor="middle">(×1000)</text>
<text class="sb" x="34" y="583.2" font-size="34.5">C</text>
<text class="sb" x="350" y="604.3" font-size="32.5" text-anchor="middle">DMSO</text>
<text class="sb" x="897" y="604.3" font-size="32.5" text-anchor="middle">Es</text>
<text class="sb" x="5" y="791" font-size="32">FDX1</text>
<text class="sb" x="113" y="786" font-size="26" text-anchor="middle" transform="rotate(-90 113 786)">SSC-A</text>
<text class="sb" x="629" y="786" font-size="26" text-anchor="middle" transform="rotate(-90 629 786)">SSC-A</text>
<text class="sb" x="368.3" y="1023.6" font-size="26" text-anchor="middle">FSC-A</text>
<text class="sb" x="555" y="1023.4" font-size="26" text-anchor="middle">(×1000)</text>
<text class="sb" x="883.4" y="1024.2" font-size="26" text-anchor="middle">FSC-A</text>
<text class="sb" x="1077.2" y="1023.4" font-size="26" text-anchor="middle">(×1000)</text>
<g id="B">
<rect x="1310" y="149.0" width="113.59999999999991" height="293.5" fill="#e68f8d"/>
<line x1="1366.7" y1="138.9" x2="1366.7" y2="150.0" stroke="#111" stroke-width="2.9"/>
<line x1="1337.7" y1="138.9" x2="1395.7" y2="138.9" stroke="#111" stroke-width="3.1"/>
<circle cx="1366.7" cy="139.5" r="4.3" fill="#111"/>
<circle cx="1366.7" cy="148.4" r="4.3" fill="#111"/>
<circle cx="1366.7" cy="161.7" r="4.3" fill="#111"/>
<line x1="1366.7" y1="442.5" x2="1366.7" y2="454.0" stroke="#111" stroke-width="3.0"/>
<rect x="1479.3" y="235.4" width="112.20000000000005" height="207.1" fill="#adbed9"/>
<line x1="1535.2" y1="222.8" x2="1535.2" y2="236.4" stroke="#111" stroke-width="2.9"/>
<line x1="1506.2" y1="222.8" x2="1564.2" y2="222.8" stroke="#111" stroke-width="3.1"/>
<circle cx="1535.2" cy="225.2" r="4.3" fill="#111"/>
<circle cx="1535.2" cy="233.7" r="4.3" fill="#111"/>
<circle cx="1535.2" cy="250.1" r="4.3" fill="#111"/>
<line x1="1535.2" y1="442.5" x2="1535.2" y2="454.0" stroke="#111" stroke-width="3.0"/>
<line x1="1255.8" y1="71.80000000000001" x2="1255.8" y2="444.1" stroke="#111" stroke-width="3.4"/>
<line x1="1254.2" y1="442.5" x2="1650.5" y2="442.5" stroke="#111" stroke-width="3.4"/>
<line x1="1242.8" y1="442.5" x2="1255.8" y2="442.5" stroke="#111" stroke-width="3.0"/>
<text class="sb" x="1240.8" y="449.9" font-size="22" text-anchor="end">0</text>
<line x1="1248.3" y1="405.6" x2="1255.8" y2="405.6" stroke="#111" stroke-width="2.6"/>
<line x1="1242.8" y1="368.7" x2="1255.8" y2="368.7" stroke="#111" stroke-width="3.0"/>
<text class="sb" x="1240.8" y="376.1" font-size="22" text-anchor="end">5</text>
<line x1="1248.3" y1="331.8" x2="1255.8" y2="331.8" stroke="#111" stroke-width="2.6"/>
<line x1="1242.8" y1="294.9" x2="1255.8" y2="294.9" stroke="#111" stroke-width="3.0"/>
<text class="sb" x="1240.8" y="302.2" font-size="22" text-anchor="end">10</text>
<line x1="1248.3" y1="257.9" x2="1255.8" y2="257.9" stroke="#111" stroke-width="2.6"/>
<line x1="1242.8" y1="221.0" x2="1255.8" y2="221.0" stroke="#111" stroke-width="3.0"/>
<text class="sb" x="1240.8" y="228.4" font-size="22" text-anchor="end">15</text>
<line x1="1248.3" y1="184.1" x2="1255.8" y2="184.1" stroke="#111" stroke-width="2.6"/>
<line x1="1242.8" y1="147.2" x2="1255.8" y2="147.2" stroke="#111" stroke-width="3.0"/>
<text class="sb" x="1240.8" y="154.6" font-size="22" text-anchor="end">20</text>
<line x1="1248.3" y1="110.3" x2="1255.8" y2="110.3" stroke="#111" stroke-width="2.6"/>
<line x1="1242.8" y1="73.4" x2="1255.8" y2="73.4" stroke="#111" stroke-width="3.0"/>
<text class="sb" x="1240.8" y="80.8" font-size="22" text-anchor="end">25</text>
<path d="M1366.7 119.4V93.8H1535.2V182.5" fill="none" stroke="#111" stroke-width="2.9" stroke-linejoin="miter"/>
<text class="sb" x="1451" y="89" font-size="29" text-anchor="middle">**</text>
<text class="sb" x="1366" y="485.8" font-size="29.4" text-anchor="middle">DMSO</text>
<text class="sb" x="1536.3" y="485.8" font-size="29.4" text-anchor="middle">Es</text>
<text class="sb" x="1174.5" y="257.5" font-size="24.5" text-anchor="middle" transform="rotate(-90 1174.5 257.5)">Ratio of fluorescence intensity</text>
<text class="sb" x="1204.5" y="257" font-size="24.5" text-anchor="middle" transform="rotate(-90 1204.5 257)">haemocytes(%)</text>
<text class="sb" x="1152" y="54" font-size="33.5">B</text>
</g>
<g id="D">
<rect x="1316.2" y="723.1" width="121.09999999999991" height="294.0" fill="#e68f8d"/>
<line x1="1376.9" y1="709.2" x2="1376.9" y2="724.1" stroke="#111" stroke-width="2.9"/>
<line x1="1347.4" y1="709.2" x2="1406.4" y2="709.2" stroke="#111" stroke-width="3.1"/>
<circle cx="1374.2" cy="713" r="4.3" fill="#111"/>
<circle cx="1380" cy="718.1" r="4.3" fill="#111"/>
<circle cx="1376.9" cy="736.2" r="4.3" fill="#111"/>
<line x1="1376.9" y1="1017.1" x2="1376.9" y2="1028.6" stroke="#111" stroke-width="3.0"/>
<rect x="1497.7" y="812.5" width="121.09999999999991" height="204.6" fill="#adbed9"/>
<line x1="1558.4" y1="786.3" x2="1558.4" y2="813.5" stroke="#111" stroke-width="2.9"/>
<line x1="1528.4" y1="786.3" x2="1588.4" y2="786.3" stroke="#111" stroke-width="3.1"/>
<circle cx="1558.4" cy="784.3" r="4.3" fill="#111"/>
<circle cx="1558.4" cy="817.4" r="4.3" fill="#111"/>
<circle cx="1558.4" cy="833.4" r="4.3" fill="#111"/>
<line x1="1558.4" y1="1017.1" x2="1558.4" y2="1028.6" stroke="#111" stroke-width="3.0"/>
<line x1="1255.8" y1="603.8" x2="1255.8" y2="1018.7" stroke="#111" stroke-width="3.4"/>
<line x1="1254.2" y1="1017.1" x2="1679.5" y2="1017.1" stroke="#111" stroke-width="3.4"/>
<line x1="1242.8" y1="1017.1" x2="1255.8" y2="1017.1" stroke="#111" stroke-width="3.0"/>
<text class="sb" x="1240.8" y="1024.8" font-size="23" text-anchor="end">0</text>
<line x1="1248.3" y1="975.9" x2="1255.8" y2="975.9" stroke="#111" stroke-width="2.6"/>
<line x1="1242.8" y1="934.8" x2="1255.8" y2="934.8" stroke="#111" stroke-width="3.0"/>
<text class="sb" x="1240.8" y="942.5" font-size="23" text-anchor="end">10</text>
<line x1="1248.3" y1="893.6" x2="1255.8" y2="893.6" stroke="#111" stroke-width="2.6"/>
<line x1="1242.8" y1="852.4" x2="1255.8" y2="852.4" stroke="#111" stroke-width="3.0"/>
<text class="sb" x="1240.8" y="860.1" font-size="23" text-anchor="end">20</text>
<line x1="1248.3" y1="811.2" x2="1255.8" y2="811.2" stroke="#111" stroke-width="2.6"/>
<line x1="1242.8" y1="770.1" x2="1255.8" y2="770.1" stroke="#111" stroke-width="3.0"/>
<text class="sb" x="1240.8" y="777.8" font-size="23" text-anchor="end">30</text>
<line x1="1248.3" y1="728.9" x2="1255.8" y2="728.9" stroke="#111" stroke-width="2.6"/>
<line x1="1242.8" y1="687.7" x2="1255.8" y2="687.7" stroke="#111" stroke-width="3.0"/>
<text class="sb" x="1240.8" y="695.4" font-size="23" text-anchor="end">40</text>
<line x1="1248.3" y1="646.6" x2="1255.8" y2="646.6" stroke="#111" stroke-width="2.6"/>
<line x1="1242.8" y1="605.4" x2="1255.8" y2="605.4" stroke="#111" stroke-width="3.0"/>
<text class="sb" x="1240.8" y="613.1" font-size="23" text-anchor="end">50</text>
<path d="M1376.9 689.1V675.4H1558.4V738.9" fill="none" stroke="#111" stroke-width="2.9" stroke-linejoin="miter"/>
<text class="sb" x="1467.3" y="668.5" font-size="33" text-anchor="middle">**</text>
<text class="sb" x="1371" y="1053.5" font-size="29.5" text-anchor="middle">DMSO</text>
<text class="sb" x="1557.5" y="1053.5" font-size="29.5" text-anchor="middle">Es</text>
<text class="sb" x="1169.5" y="811" font-size="27.2" text-anchor="middle" transform="rotate(-90 1169.5 811)">Ratio with fluorescence intensity</text>
<text class="sb" x="1203" y="809.5" font-size="27.2" text-anchor="middle" transform="rotate(-90 1203 809.5)">haemocytes(%)</text>
<text class="sb" x="1163" y="582.5" font-size="33.5">D</text>
</g>
<g id="E">
<text class="sb" x="23.6" y="1175.4" font-size="41.5">E</text>
<text class="sb" x="112.5" y="1220.5" font-size="31.5">kDa</text>
<text class="sb" x="255" y="1220.5" font-size="31.5" text-anchor="middle">M</text>
<text class="sb" x="411" y="1220.5" font-size="32" text-anchor="middle">Es</text>
<text class="sb" x="563.3" y="1220.5" font-size="32.3" text-anchor="middle">DMSO</text>
<text class="sb" x="160.8" y="1510" font-size="33" text-anchor="end">180</text>
<text class="sb" x="160.8" y="1546.7" font-size="33" text-anchor="end">140</text>
<text class="sb" x="160.8" y="1587.2" font-size="33" text-anchor="end">100</text>
<text class="sb" x="160.8" y="1687.5" font-size="33" text-anchor="end">75</text>
<text class="sb" x="160.8" y="1739.5" font-size="33" text-anchor="end">60</text>
<text class="sb" x="160.8" y="1808" font-size="33" text-anchor="end">45</text>
<text class="sb" x="160.8" y="1933.5" font-size="33" text-anchor="end">25</text>
<text class="sb" x="160.8" y="2055" font-size="33" text-anchor="end">15</text>
<text class="sb" x="758" y="1453" font-size="30" text-anchor="middle">DLAT-polymer</text>
<text class="sb" x="759.5" y="1794" font-size="30" text-anchor="middle">DLAT-monomer</text>
<defs>
<linearGradient id="gelbg" x1="0" y1="0" x2="0" y2="1">
<stop offset="0" stop-color="#467ea5"/><stop offset="0.3" stop-color="#4e87a8"/><stop offset="0.54" stop-color="#548eab"/><stop offset="1" stop-color="#5c96b1"/>
</linearGradient>
<linearGradient id="gelh" x1="0" y1="0" x2="1" y2="0">
<stop offset="0" stop-color="#6aa0c0" stop-opacity="0.5"/><stop offset="0.03" stop-color="#3d78aa" stop-opacity="0.0"/><stop offset="0.6" stop-color="#6aa6c8" stop-opacity="0.02"/>
<stop offset="1" stop-color="#86b6cc" stop-opacity="0.22"/>
</linearGradient>
<linearGradient id="lane" x1="0" y1="1470" x2="0" y2="2091" gradientUnits="userSpaceOnUse">
<stop offset="0" stop-color="#1e5a8c" stop-opacity="0"/><stop offset="0.15" stop-color="#1e5a8c" stop-opacity="0.3"/><stop offset="0.27" stop-color="#1e5a8c" stop-opacity="0.5"/>
<stop offset="0.37" stop-color="#1e5a8c" stop-opacity="0.85"/><stop offset="0.5" stop-color="#1e5a8c" stop-opacity="0.9"/><stop offset="0.62" stop-color="#1c5a88" stop-opacity="0.85"/>
<stop offset="0.85" stop-color="#1e5c90" stop-opacity="0.7"/><stop offset="0.96" stop-color="#1e5c90" stop-opacity="0.6"/><stop offset="1" stop-color="#1e5c90" stop-opacity="0.2"/>
</linearGradient>
<clipPath id="gelclip"><rect x="181.5" y="1247" width="457.1" height="844.1999999999998"/></clipPath>
<filter id="b2" x="-20%" y="-50%" width="140%" height="200%"><feGaussianBlur stdDeviation="2"/></filter>
<filter id="b3" x="-20%" y="-60%" width="140%" height="220%"><feGaussianBlur stdDeviation="3.2"/></filter>
<filter id="b5" x="-30%" y="-60%" width="160%" height="220%"><feGaussianBlur stdDeviation="5.5"/></filter>
<filter id="b9" x="-40%" y="-60%" width="180%" height="220%"><feGaussianBlur stdDeviation="9"/></filter>
<filter id="b14" x="-50%" y="-60%" width="200%" height="220%"><feGaussianBlur stdDeviation="14"/></filter>
<filter id="b1" x="-20%" y="-50%" width="140%" height="200%"><feGaussianBlur stdDeviation="1.1"/></filter>
<filter id="bh" x="-20%" y="-5%" width="140%" height="110%"><feGaussianBlur stdDeviation="5 0.1"/></filter>
</defs>
<g clip-path="url(#gelclip)">
<rect x="181.5" y="1247" width="457.1" height="844.1999999999998" fill="url(#gelbg)"/>
<rect x="181.5" y="1247" width="457.1" height="844.1999999999998" fill="url(#gelh)"/>
<g filter="url(#b14)">
<rect x="345" y="1262" width="125" height="150" fill="#356d9c" opacity="0.5"/>
<rect x="495" y="1262" width="130" height="150" fill="#356d9c" opacity="0.5"/>
</g>
<rect x="196" y="1470" width="108" height="622" fill="url(#lane)" filter="url(#bh)"/>
<g filter="url(#b2)">
<rect x="181" y="1244" width="460" height="7" fill="#33699a" opacity="0.8"/>
<rect x="385" y="1243" width="60" height="7" fill="#1a4270" opacity="0.8"/>
<rect x="545" y="1243" width="60" height="7" fill="#1a4270" opacity="0.8"/>
<rect x="200" y="1243" width="112" height="7" fill="#2b5a88" opacity="0.6"/>
<rect x="322" y="1251" width="26" height="8" fill="#5a98c4" opacity="0.3"/>
<rect x="474" y="1251" width="26" height="8" fill="#5a98c4" opacity="0.3"/>
<rect x="181" y="1254" width="460" height="5" fill="#5a98c4" opacity="0.4"/>
<rect x="181" y="2086" width="460" height="6" fill="#6aa6c4" opacity="0.5"/>
</g>
<g filter="url(#b14)">
<ellipse cx="410" cy="1432" rx="56" ry="50" fill="#245f9e" opacity="0.7"/>
<ellipse cx="553" cy="1432" rx="58" ry="50" fill="#245f9e" opacity="0.6"/>
</g>
<g filter="url(#b9)">
<ellipse cx="412" cy="1443" rx="52" ry="35" fill="#0b4790" opacity="0.9"/>
<ellipse cx="418" cy="1445" rx="30" ry="20" fill="#04357c" opacity="0.85"/>
<ellipse cx="553" cy="1445" rx="50" ry="30" fill="#105a9c" opacity="0.85"/>
<ellipse cx="553" cy="1448" rx="40" ry="14" fill="#0a5294" opacity="0.6"/>
<ellipse cx="412" cy="1492" rx="26" ry="10" fill="#245f9e" opacity="0.45"/>
</g>
<g filter="url(#b3)">
<rect x="203" y="1494.5" width="103" height="12" fill="#1a5a9c" opacity="0.95"/>
<rect x="204" y="1506.5" width="101" height="10" fill="#205f9e" opacity="0.9"/>
<rect x="203" y="1524.0" width="103" height="12" fill="#1b5c9c" opacity="0.95"/>
<rect x="203" y="1571.0" width="100" height="14" fill="#1b5c9e" opacity="0.95"/>
<rect x="200" y="1793.5" width="105" height="14" fill="#1a5a98" opacity="0.85"/>
<rect x="497" y="1596.0" width="107" height="5" fill="#3a7db0" opacity="0.6"/>
<rect x="350" y="1596.5" width="100" height="4" fill="#4a88b0" opacity="0.25"/>
</g>
<g filter="url(#b5)">
<rect x="197" y="1665" width="110" height="26" fill="#0e2f5a" opacity="0.97"/>
<rect x="204" y="1670" width="94" height="15" fill="#0c2a52" opacity="0.8"/>
<rect x="204" y="1712" width="96" height="34" fill="#1f5c90" opacity="0.5"/>
</g>
<g filter="url(#b9)">
<ellipse cx="250" cy="1912" rx="56" ry="34" fill="#125678" opacity="0.85"/>
<ellipse cx="250" cy="1927" rx="54" ry="20" fill="#0e3e52" opacity="0.95"/>
<ellipse cx="246" cy="1930" rx="36" ry="10" fill="#0c3848" opacity="0.6"/>
<ellipse cx="250" cy="2043" rx="42" ry="17" fill="#1a5e96" opacity="0.8"/>
</g>
<g filter="url(#b3)">
<ellipse cx="404" cy="1784.5" rx="50" ry="8" fill="#246fae" opacity="0.8"/>
<ellipse cx="392" cy="1785" rx="24" ry="5" fill="#1f68a8" opacity="0.5"/>
<ellipse cx="550" cy="1781.5" rx="62" ry="10.5" fill="#0f5a9b" opacity="0.95"/>
<ellipse cx="545" cy="1781.5" rx="45" ry="5.5" fill="#0c5294" opacity="0.6"/>
</g>
<g filter="url(#b1)">
<ellipse cx="419.5" cy="1955.5" rx="19" ry="20" fill="#619fbc" stroke="#447fa0" stroke-width="3"/>
<ellipse cx="421" cy="1955" rx="8.5" ry="12" fill="#74b6d4" opacity="0.85"/>
<circle cx="438" cy="1751" r="2.6" fill="#3a6a88"/>
<circle cx="334" cy="1978" r="1.8" fill="#8a6aa0"/>
<ellipse cx="583" cy="2080" rx="5" ry="2.6" fill="#3f7fa6"/>
<rect x="588" y="2010" width="3" height="45" fill="#5088ae" opacity="0.45"/>
</g>
</g>
</g>
<g id="F">
<text class="sb" x="781.3" y="1182.2" font-size="41.5">F</text>
<text class="sb" x="903.5" y="1253.6" font-size="31.5">kDa</text>
<text class="sb" x="1017.5" y="1253.8" font-size="31.5" text-anchor="middle">M</text>
<text class="sb" x="1148.2" y="1248.8" font-size="32" text-anchor="middle">Es</text>
<text class="sb" x="1239" y="1248.8" font-size="32.8" text-anchor="middle">DMSO</text>
<text class="sb" x="966.3" y="1339.0" font-size="33.3" text-anchor="end">75</text>
<text class="sb" x="966.3" y="1382.5" font-size="33.3" text-anchor="end">60</text>
<text class="sb" x="966.3" y="1425.0" font-size="33.3" text-anchor="end">45</text>
<text class="sb" x="966.3" y="1485.0" font-size="33.3" text-anchor="end">35</text>
<text class="sb" x="966.3" y="1550.5" font-size="33.3" text-anchor="end">25</text>
<text class="sb" x="966.3" y="1667.0" font-size="33.3" text-anchor="end">15</text>
<text class="sb" x="966.3" y="1749.0" font-size="33.3" text-anchor="end">10</text>
<text class="sb" x="966.3" y="1852.5" font-size="33.3" text-anchor="end">75</text>
<text class="sb" x="966.3" y="1919.0" font-size="33.3" text-anchor="end">60</text>
<text class="sb" x="966.3" y="1997.0" font-size="33.3" text-anchor="end">45</text>
<text class="sb" x="966.3" y="2088.0" font-size="33.3" text-anchor="end">35</text>
<text class="sb" x="1321" y="1614" font-size="31.6">FDX1</text>
<text class="sb" x="1343.5" y="1952" font-size="33.3">Tubulin</text>
<defs>
<linearGradient id="mk1" x1="0" y1="0" x2="1" y2="0">
<stop offset="0" stop-color="#d4d6e4"/><stop offset="0.06" stop-color="#e0e0ec"/><stop offset="0.5" stop-color="#dfdfec"/><stop offset="0.95" stop-color="#dcdcea"/><stop offset="1" stop-color="#eeeef4"/>
</linearGradient>
<linearGradient id="bl1" x1="0" y1="0" x2="1" y2="0">
<stop offset="0" stop-color="#dddcea"/><stop offset="0.5" stop-color="#dfddeb"/><stop offset="0.93" stop-color="#dedcea"/><stop offset="0.955" stop-color="#d3d1dd"/><stop offset="0.97" stop-color="#e6e5f0"/><stop offset="1" stop-color="#e3e2ee"/>
</linearGradient>
<linearGradient id="bl2" x1="0" y1="0" x2="1" y2="0">
<stop offset="0" stop-color="#e1deec"/><stop offset="0.5" stop-color="#e5dfee"/><stop offset="1" stop-color="#e4deed"/>
</linearGradient>
<clipPath id="c1"><rect x="976" y="1271.6" width="83.6" height="528.8"/></clipPath>
<clipPath id="c2"><rect x="1069.8" y="1271.6" width="237.2" height="528.8"/></clipPath>
<clipPath id="c3"><rect x="978.7" y="1827" width="324.8" height="272.7"/></clipPath>
</defs>
<g clip-path="url(#c1)">
<rect x="976" y="1271.6" width="83.6" height="528.8" fill="url(#mk1)"/>
<g filter="url(#b2)">
<rect x="984" y="1279.5" width="62" height="3" fill="#a9b9da" opacity="0.5"/>
<rect x="982" y="1293.25" width="64" height="3.5" fill="#93a9d6" opacity="0.6"/>
<rect x="982" y="1311.75" width="65" height="5.5" fill="#7d98cc" opacity="0.9"/>
<rect x="982" y="1323.75" width="66" height="8.5" fill="#e18fa0" opacity="0.9"/>
<rect x="986" y="1367.15" width="61" height="8.5" fill="#507fc3" opacity="0.95"/>
<rect x="988.5" y="1410.25" width="63.5" height="8.5" fill="#5a84c8" opacity="0.95"/>
</g>
<g filter="url(#b5)">
<rect x="990" y="1390" width="56" height="110" fill="#cfd6ea" opacity="0.35"/>
<rect x="1000" y="1560" width="56" height="210" fill="#cfd6ea" opacity="0.4"/>
<rect x="990" y="1775" width="60" height="30" fill="#f0e4e0" opacity="0.6"/>
</g>
<g filter="url(#b3)">
<rect x="993" y="1466.5" width="70" height="13" fill="#4674c6" opacity="0.97"/>
<rect x="999" y="1641" width="66" height="22" fill="#4876be" opacity="0.97"/>
<rect x="1000" y="1723" width="66" height="27" fill="#426fba" opacity="0.97"/>
<rect x="1006" y="1730" width="60" height="12" fill="#3a66b0" opacity="0.6"/>
<rect x="993" y="1524.5" width="72" height="27" fill="#5e8a5a" opacity="0.97"/>
<rect x="998" y="1532" width="68" height="14" fill="#4f7a4e" opacity="0.75"/>
</g>
<rect x="976" y="1271.6" width="2.2" height="270" fill="#b4b8cc" opacity="0.7"/>
<rect x="976" y="1541" width="1.6" height="260" fill="#7c7c86" opacity="0.75"/>
<g filter="url(#b5)">
<ellipse cx="1000" cy="1604" rx="24" ry="19" fill="#111" opacity="0.9"/>
<ellipse cx="976" cy="1585" rx="6" ry="36" fill="#111" opacity="0.9"/>
<ellipse cx="984" cy="1596" rx="10" ry="16" fill="#222" opacity="0.7"/>
</g>
<g filter="url(#b3)">
<ellipse cx="1004" cy="1611" rx="17" ry="12" fill="#000"/>
</g>
<circle cx="1005" cy="1766" r="2" fill="#7a7a86" filter="url(#b1)"/>
</g>
<g clip-path="url(#c2)">
<rect x="1069.8" y="1271.6" width="237.2" height="528.8" fill="url(#bl1)"/>
<g transform="translate(0 2)">
<g filter="url(#b3)">
<path d="M1105 1598 L1110 1568 L1118 1596 L1124 1600 Z" fill="#666" opacity="0.7"/>
<path d="M1200 1596 L1206 1556 L1214 1590 L1220 1596 Z" fill="#555" opacity="0.75"/>
<path d="M1296 1600 L1300 1560 L1307 1548 L1310 1600 Z" fill="#111" opacity="0.95"/>
</g>
<g filter="url(#b2)">
<path d="M1122 1602 Q1126 1600 1190 1600 L1193 1604 L1189 1622 Q1160 1626 1126 1623 Z" fill="#0a0a0c"/>
<path d="M1212 1598 Q1250 1596 1296 1590 L1304 1584 L1306 1606 L1298 1622 Q1250 1627 1214 1623 L1209 1606 Z" fill="#050507"/>
<rect x="1132" y="1609" width="52" height="3" fill="#666" opacity="0.7"/>
</g>
</g>
<g filter="url(#b1)">
<ellipse cx="1079" cy="1469.5" rx="10" ry="8" fill="#f1f0f0"/>
<circle cx="1076" cy="1469" r="2" fill="#fff"/><circle cx="1084" cy="1471" r="2" fill="#fff"/>
<ellipse cx="1129" cy="1508.5" rx="10" ry="8" fill="#f1f0f0"/>
<circle cx="1126" cy="1508" r="2" fill="#fff"/><circle cx="1134" cy="1510" r="2" fill="#fff"/>
<rect x="1302.5" y="1340" width="2.2" height="120" fill="#c9b394" opacity="0.7"/>
</g>
</g>
<g clip-path="url(#c3)">
<rect x="978.7" y="1827" width="324.8" height="272.7" fill="url(#bl2)"/>
<g filter="url(#b5)">
<rect x="984" y="1860" width="72" height="240" fill="#d0d8ea" opacity="0.7"/>
</g>
<g filter="url(#b3)">
<rect x="974" y="1820" width="86" height="35" fill="#e8787c" opacity="0.95"/>
<rect x="1020" y="1838" width="40" height="14" fill="#dc6468" opacity="0.6"/>
<rect x="980" y="1848" width="78" height="9" fill="#eea0a4" opacity="0.6"/>
<rect x="988" y="1864" width="66" height="26" fill="#f0eef4" opacity="0.5"/>
<rect x="990" y="1930" width="60" height="36" fill="#cdd4d2" opacity="0.3"/>
</g>
<g filter="url(#b3)">
<rect x="986" y="1897.5" width="78" height="15" rx="7" fill="#7099d8" opacity="0.9"/>
<rect x="1030" y="1899" width="32" height="11" rx="5" fill="#5c88cc" opacity="0.6"/>
<rect x="987" y="1975" width="82" height="15" rx="7" fill="#7099d8" opacity="0.9"/>
<rect x="1030" y="1977" width="36" height="11" rx="5" fill="#5c88cc" opacity="0.5"/>
<rect x="990" y="2061.5" width="80" height="21" rx="9" fill="#6a93d6" opacity="0.92"/>
</g>
<circle cx="1046.5" cy="1841" r="2.2" fill="#fff" opacity="0.9" filter="url(#b1)"/>
<g filter="url(#b2)">
<path d="M1080 1944 Q1080 1937 1095 1937 Q1130 1939 1150 1938 Q1176 1936 1181 1940 L1182 1949 Q1180 1954 1150 1955 Q1120 1954 1090 1952 Q1080 1951 1080 1944 Z" fill="#050507"/>
<path d="M1200 1941 Q1202 1933 1225 1933 Q1260 1936 1285 1932 Q1300 1932 1300 1942 Q1299 1950 1280 1951 Q1240 1954 1215 1954 Q1200 1952 1200 1941 Z" fill="#050507"/>
</g>
</g>
</g>
</svg>
</body></html>
